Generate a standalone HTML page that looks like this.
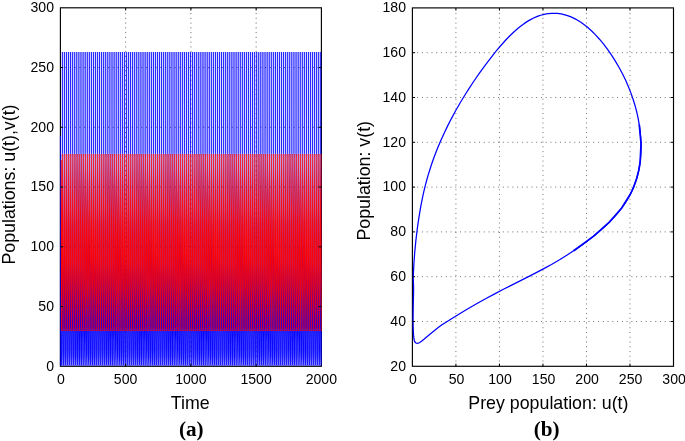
<!DOCTYPE html>
<html lang="en">
<head>
<meta charset="utf-8">
<title>Predator-prey populations</title>
<style>
html,body{margin:0;padding:0;background:#fff}
svg{display:block;will-change:transform}
.tk{font-family:"Liberation Sans", Arial, Helvetica, sans-serif;font-size:14.1px;fill:#000}
.lb{font-family:"Liberation Sans", Arial, Helvetica, sans-serif;font-size:17.8px;fill:#000}
.cp{font-family:"Liberation Serif", "Times New Roman", serif;font-size:21.2px;font-weight:bold;fill:#000}
.gr{stroke:#000;stroke-width:0.9;stroke-dasharray:1 3.76;stroke-opacity:0.62;fill:none}
.bx{stroke:#000;stroke-width:1.15;fill:none}
.tm{stroke:#000;stroke-width:1;fill:none}
</style>
</head>
<body>
<svg width="685" height="441" viewBox="0 0 685 441">
<rect x="0" y="0" width="685" height="441" fill="#fff"/>
<defs>
<clipPath id="ca"><rect x="60.95" y="7.8" width="260.75" height="358"/></clipPath>
<filter id="soft" x="-2%" y="-2%" width="104%" height="104%" color-interpolation-filters="sRGB"><feConvolveMatrix order="3 1" kernelMatrix="0.075 0.85 0.075" edgeMode="duplicate" preserveAlpha="false"/></filter>
</defs>
<g id="grid-a" opacity="0.9">
<line class="gr" x1="125.65" y1="366.3" x2="125.65" y2="7.8"/>
<line class="gr" x1="190.9" y1="366.3" x2="190.9" y2="7.8"/>
<line class="gr" x1="256.15" y1="366.3" x2="256.15" y2="7.8"/>
<line class="gr" x1="60.4" y1="306.55" x2="321.4" y2="306.55"/>
<line class="gr" x1="60.4" y1="246.8" x2="321.4" y2="246.8"/>
<line class="gr" x1="60.4" y1="187.05" x2="321.4" y2="187.05"/>
<line class="gr" x1="60.4" y1="127.3" x2="321.4" y2="127.3"/>
<line class="gr" x1="60.4" y1="67.55" x2="321.4" y2="67.55"/>
</g>
<g id="grid-b">
<line class="gr" x1="455.92" y1="366.3" x2="455.92" y2="7.9"/>
<line class="gr" x1="499.43" y1="366.3" x2="499.43" y2="7.9"/>
<line class="gr" x1="542.95" y1="366.3" x2="542.95" y2="7.9"/>
<line class="gr" x1="586.47" y1="366.3" x2="586.47" y2="7.9"/>
<line class="gr" x1="629.98" y1="366.3" x2="629.98" y2="7.9"/>
<line class="gr" x1="412.4" y1="321.5" x2="673.5" y2="321.5"/>
<line class="gr" x1="412.4" y1="276.7" x2="673.5" y2="276.7"/>
<line class="gr" x1="412.4" y1="231.9" x2="673.5" y2="231.9"/>
<line class="gr" x1="412.4" y1="187.1" x2="673.5" y2="187.1"/>
<line class="gr" x1="412.4" y1="142.3" x2="673.5" y2="142.3"/>
<line class="gr" x1="412.4" y1="97.5" x2="673.5" y2="97.5"/>
<line class="gr" x1="412.4" y1="52.7" x2="673.5" y2="52.7"/>
</g>
<g id="box">
<rect class="bx" x="60.4" y="7.8" width="261" height="358.5"/>
<rect class="bx" x="412.4" y="7.9" width="261.1" height="358.4"/>
</g>
<g id="panel-a" clip-path="url(#ca)" filter="url(#soft)">
<linearGradient id="wg" x1="0" y1="0" x2="0" y2="1"><stop offset="0" stop-color="#00f" stop-opacity="0.32"/><stop offset="0.0417" stop-color="#00f" stop-opacity="0.262"/><stop offset="0.0833" stop-color="#00f" stop-opacity="0.28"/><stop offset="0.125" stop-color="#00f" stop-opacity="0.298"/><stop offset="0.1667" stop-color="#00f" stop-opacity="0.316"/><stop offset="0.2083" stop-color="#00f" stop-opacity="0.334"/><stop offset="0.25" stop-color="#00f" stop-opacity="0.353"/><stop offset="0.2917" stop-color="#00f" stop-opacity="0.372"/><stop offset="0.3333" stop-color="#00f" stop-opacity="0.378"/><stop offset="0.375" stop-color="#00f" stop-opacity="0.382"/><stop offset="0.4167" stop-color="#00f" stop-opacity="0.385"/><stop offset="0.4583" stop-color="#00f" stop-opacity="0.389"/><stop offset="0.5" stop-color="#00f" stop-opacity="0.393"/><stop offset="0.5417" stop-color="#00f" stop-opacity="0.404"/><stop offset="0.5833" stop-color="#00f" stop-opacity="0.419"/><stop offset="0.625" stop-color="#00f" stop-opacity="0.434"/><stop offset="0.6667" stop-color="#00f" stop-opacity="0.45"/><stop offset="0.7083" stop-color="#00f" stop-opacity="0.458"/><stop offset="0.75" stop-color="#00f" stop-opacity="0.458"/><stop offset="0.7917" stop-color="#00f" stop-opacity="0.449"/><stop offset="0.8333" stop-color="#00f" stop-opacity="0.417"/><stop offset="0.875" stop-color="#00f" stop-opacity="0.355"/><stop offset="0.9167" stop-color="#00f" stop-opacity="0.251"/><stop offset="0.9583" stop-color="#00f" stop-opacity="0.103"/><stop offset="1" stop-color="#00f" stop-opacity="0"/></linearGradient>
<rect id="series-u-wash" x="58.4" y="154.07" width="265" height="110.66" fill="url(#wg)"/>
<path id="series-u" fill="#00f" fill-rule="nonzero" d="M57.9,365.79L57.9,365.34L57.808,363.77L57.745,359.52L57.699,352.52L57.665,342.52L57.69,331.77L57.969,326.77L57.957,325.52L57.937,294.77L57.964,276.77L58.017,264.52L58.038,261.77L58.09,258.02L58.235,251.02L58.348,241.02L58.385,236.77L58.404,233.52L58.417,228.77L58.251,211.02L58.277,187.02L58.352,156.02L58.289,154.27L58.146,154.02L58.085,152.52L58.081,152.27L58.091,102.52L58.089,52.02L59.077,52.02L59.078,102.52L59.068,152.27L59.063,152.52L59.002,154.02L58.865,154.27L58.902,156.02L58.919,187.02L58.937,211.02L59.163,229.27L59.179,233.02L59.202,236.27L59.245,240.52L59.304,245.27L59.387,251.27L59.488,255.52L59.557,258.77L59.601,261.77L59.628,264.52L59.707,276.77L59.776,294.52L59.835,325.52L59.825,326.77L59.533,331.77L59.602,342.52L59.636,352.52L59.681,359.52L59.744,363.77L59.837,365.34L59.837,365.79Z
M58.576,154.26L58.456,154.27L58.491,156.02L58.471,187.02L58.452,211.02L58.643,230.77L58.656,234.77L58.687,239.27L58.733,244.27L58.807,251.02L58.811,251.02L58.872,244.27L58.908,239.52L58.931,235.02L58.938,231.52L58.726,187.02L58.763,156.02L58.697,154.27Z
M58.897,326.76L58.896,326.77L58.561,331.77L58.519,342.52L58.529,349.52L58.516,356.77L58.489,360.27L58.483,362.77L58.491,363.77L58.562,365.34L59.175,365.34L59.061,363.77L58.959,360.52L58.866,356.77L58.781,349.52L58.748,342.52L58.661,331.77L58.898,326.77Z
M59.782,365.79L59.782,365.34L59.71,363.77L59.662,359.52L59.629,352.52L59.605,342.52L59.636,331.77L59.852,326.77L59.84,325.52L59.815,294.77L59.837,276.77L59.886,264.52L59.906,261.77L59.956,258.02L60.099,251.02L60.209,241.02L60.244,236.77L60.262,233.52L60.273,228.77L60.152,211.02L60.261,187.02L60.34,156.02L60.252,154.27L60.105,154.02L60.045,152.52L60.04,152.27L60.046,102.52L60.045,52.02L61.033,52.02L61.034,102.52L61.028,152.27L61.023,152.52L60.962,154.02L60.828,154.27L60.89,156.02L60.903,187.02L60.838,211.02L61.019,229.27L61.037,233.02L61.061,236.27L61.106,240.52L61.166,245.27L61.252,251.27L61.354,255.52L61.424,258.77L61.469,261.77L61.497,264.52L61.58,276.77L61.655,294.52L61.719,325.52L61.708,326.77L61.479,331.77L61.541,342.52L61.565,352.52L61.599,359.52L61.646,363.77L61.719,365.34L61.719,365.79Z
M60.539,154.26L60.419,154.27L60.479,156.02L60.455,187.02L60.353,211.02L60.5,230.77L60.514,234.77L60.547,239.27L60.595,244.27L60.671,251.02L60.675,251.02L60.734,244.27L60.768,239.52L60.79,235.02L60.795,231.52L60.709,187.02L60.751,156.02L60.66,154.27Z
M60.78,326.76L60.779,326.77L60.508,331.77L60.458,342.52L60.462,349.52L60.439,356.77L60.405,360.27L60.39,362.77L60.393,363.77L60.444,365.34L61.057,365.34L60.963,363.77L60.874,360.52L60.789,356.77L60.714,349.52L60.687,342.52L60.608,331.77L60.781,326.77Z
M61.69,365.79L61.69,365.34L61.636,363.77L61.602,359.52L61.58,352.52L61.564,342.52L61.602,331.77L61.707,326.77L61.696,325.52L61.667,294.77L61.686,276.77L61.735,264.52L61.755,261.77L61.806,258.02L61.949,251.02L62.062,241.02L62.098,236.77L62.117,233.52L62.129,228.77L62.078,211.02L62.256,187.02L62.338,156.02L62.231,154.27L62.082,154.02L62.022,152.52L62.017,152.27L62.02,102.52L62.02,52.02L63.007,52.02L63.008,102.52L63.004,152.27L62.999,152.52L62.939,154.02L62.807,154.27L62.888,156.02L62.899,187.02L62.764,211.02L62.875,229.27L62.891,233.02L62.915,236.27L62.958,240.52L63.017,245.27L63.102,251.27L63.204,255.52L63.273,258.77L63.318,261.77L63.346,264.52L63.43,276.77L63.506,294.52L63.574,325.52L63.563,326.77L63.445,331.77L63.501,342.52L63.516,352.52L63.539,359.52L63.573,363.77L63.627,365.34L63.627,365.79Z
M62.519,154.26L62.399,154.27L62.477,156.02L62.45,187.02L62.279,211.02L62.356,230.77L62.369,234.77L62.4,239.27L62.447,244.27L62.522,251.02L62.525,251.02L62.586,244.27L62.621,239.52L62.644,235.02L62.65,231.52L62.705,187.02L62.749,156.02L62.64,154.27Z
M62.635,326.76L62.633,326.77L62.474,331.77L62.418,342.52L62.417,349.52L62.385,356.77L62.343,360.27L62.321,362.77L62.319,363.77L62.352,365.34L62.965,365.34L62.89,363.77L62.812,360.52L62.734,356.77L62.668,349.52L62.647,342.52L62.574,331.77L62.636,326.77Z
M63.622,365.79L63.622,365.34L63.585,363.77L63.563,359.52L63.55,352.52L63.542,342.52L63.584,331.77L63.564,326.77L63.553,325.52L63.529,294.77L63.554,276.77L63.607,264.52L63.628,261.77L63.68,258.02L63.826,251.02L63.942,241.02L63.98,236.77L64,233.52L64.014,228.77L64.025,211.02L64.255,187.02L64.334,156.02L64.224,154.27L64.073,154.02L64.012,152.52L64.007,152.27L64.008,102.52L64.008,52.02L64.996,52.02L64.996,102.52L64.995,152.27L64.99,152.52L64.929,154.02L64.8,154.27L64.885,156.02L64.897,187.02L64.712,211.02L64.759,229.27L64.774,233.02L64.797,236.27L64.839,240.52L64.896,245.27L64.979,251.27L65.079,255.52L65.148,258.77L65.192,261.77L65.218,264.52L65.298,276.77L65.368,294.52L65.431,325.52L65.421,326.77L65.427,331.77L65.478,342.52L65.486,352.52L65.5,359.52L65.521,363.77L65.559,365.34L65.559,365.79Z
M64.512,154.26L64.391,154.27L64.473,156.02L64.448,187.02L64.227,211.02L64.24,230.77L64.251,234.77L64.281,239.27L64.326,244.27L64.399,251.02L64.402,251.02L64.465,244.27L64.502,239.52L64.526,235.02L64.534,231.52L64.703,187.02L64.745,156.02L64.633,154.27Z
M64.493,326.76L64.491,326.77L64.456,331.77L64.396,342.52L64.389,349.52L64.35,356.77L64.302,360.27L64.274,362.77L64.268,363.77L64.284,365.34L64.897,365.34L64.838,363.77L64.77,360.52L64.699,356.77L64.641,349.52L64.624,342.52L64.556,331.77L64.494,326.77Z
M65.576,365.79L65.576,365.34L65.553,363.77L65.541,359.52L65.535,352.52L65.533,342.52L65.579,331.77L65.45,326.77L65.438,325.52L65.419,294.77L65.45,276.77L65.506,264.52L65.528,261.77L65.581,258.02L65.73,251.02L65.849,241.02L65.888,236.77L65.909,233.52L65.924,228.77L65.993,211.02L66.244,187.02L66.319,156.02L66.223,154.27L66.072,154.02L66.011,152.52L66.006,152.27L66.006,102.52L66.006,52.02L66.994,52.02L66.994,102.52L66.994,152.27L66.989,152.52L66.928,154.02L66.799,154.27L66.87,156.02L66.886,187.02L66.679,211.02L66.67,229.27L66.684,233.02L66.705,236.27L66.745,240.52L66.802,245.27L66.882,251.27L66.981,255.52L67.049,258.77L67.092,261.77L67.118,264.52L67.193,276.77L67.258,294.52L67.317,325.52L67.307,326.77L67.422,331.77L67.469,342.52L67.472,352.52L67.478,359.52L67.489,363.77L67.512,365.34L67.512,365.79Z
M66.511,154.26L66.39,154.27L66.458,156.02L66.438,187.02L66.194,211.02L66.15,230.77L66.16,234.77L66.188,239.27L66.231,244.27L66.302,251.02L66.306,251.02L66.37,244.27L66.409,239.52L66.435,235.02L66.443,231.52L66.693,187.02L66.73,156.02L66.632,154.27Z
M66.378,326.76L66.377,326.77L66.45,331.77L66.387,342.52L66.377,349.52L66.332,356.77L66.279,360.27L66.245,362.77L66.236,363.77L66.237,365.34L66.851,365.34L66.806,363.77L66.747,360.52L66.681,356.77L66.628,349.52L66.615,342.52L66.55,331.77L66.38,326.77Z
M67.548,365.79L67.548,365.34L67.536,363.77L67.533,359.52L67.532,352.52L67.531,342.52L67.578,331.77L67.362,326.77L67.349,325.52L67.335,294.77L67.37,276.77L67.43,264.52L67.453,261.77L67.507,258.02L67.658,251.02L67.779,241.02L67.82,236.77L67.842,233.52L67.858,228.77L67.976,211.02L68.219,187.02L68.288,156.02L68.216,154.27L68.066,154.02L68.005,152.52L68,152.27L68.002,102.52L68.002,52.02L68.99,52.02L68.99,102.52L68.988,152.27L68.983,152.52L68.922,154.02L68.792,154.27L68.839,156.02L68.861,187.02L68.662,211.02L68.604,229.27L68.617,233.02L68.637,236.27L68.676,240.52L68.731,245.27L68.81,251.27L68.908,255.52L68.974,258.77L69.017,261.77L69.042,264.52L69.113,276.77L69.174,294.52L69.228,325.52L69.218,326.77L69.42,331.77L69.468,342.52L69.468,352.52L69.469,359.52L69.473,363.77L69.484,365.34L69.484,365.79Z
M68.503,154.26L68.383,154.27L68.428,156.02L68.413,187.02L68.177,211.02L68.083,230.77L68.092,234.77L68.119,239.27L68.161,244.27L68.23,251.02L68.234,251.02L68.3,244.27L68.34,239.52L68.367,235.02L68.377,231.52L68.668,187.02L68.7,156.02L68.624,154.27Z
M68.29,326.76L68.289,326.77L68.449,331.77L68.385,342.52L68.374,349.52L68.326,356.77L68.27,360.27L68.231,362.77L68.219,363.77L68.209,365.34L68.822,365.34L68.79,363.77L68.737,360.52L68.675,356.77L68.626,349.52L68.614,342.52L68.549,331.77L68.291,326.77Z
M69.534,365.79L69.534,365.34L69.532,363.77L69.531,359.52L69.529,352.52L69.526,342.52L69.568,331.77L69.297,326.77L69.284,325.52L69.273,294.77L69.313,276.77L69.376,264.52L69.4,261.77L69.455,258.02L69.607,251.02L69.732,241.02L69.773,236.77L69.796,233.52L69.814,228.77L69.971,211.02L70.176,187.02L70.239,156.02L70.195,154.27L70.048,154.02L69.988,152.52L69.983,152.27L69.987,102.52L69.987,52.02L70.974,52.02L70.975,102.52L70.97,152.27L70.966,152.52L70.905,154.02L70.771,154.27L70.79,156.02L70.818,187.02L70.657,211.02L70.559,229.27L70.571,233.02L70.591,236.27L70.629,240.52L70.682,245.27L70.76,251.27L70.856,255.52L70.922,258.77L70.964,261.77L70.988,264.52L71.057,276.77L71.113,294.52L71.163,325.52L71.154,326.77L71.411,331.77L71.462,342.52L71.466,352.52L71.468,359.52L71.468,363.77L71.471,365.34L71.471,365.79Z
M70.483,154.26L70.362,154.27L70.378,156.02L70.37,187.02L70.172,211.02L70.038,230.77L70.046,234.77L70.072,239.27L70.113,244.27L70.18,251.02L70.183,251.02L70.252,244.27L70.293,239.52L70.321,235.02L70.332,231.52L70.625,187.02L70.65,156.02L70.604,154.27Z
M70.225,326.76L70.224,326.77L70.44,331.77L70.379,342.52L70.371,349.52L70.324,356.77L70.268,360.27L70.228,362.77L70.215,363.77L70.196,365.34L70.809,365.34L70.785,363.77L70.735,360.52L70.674,356.77L70.622,349.52L70.608,342.52L70.54,331.77L70.227,326.77Z
M71.532,365.79L71.532,365.34L71.53,363.77L71.525,359.52L71.517,352.52L71.507,342.52L71.545,331.77L71.254,326.77L71.24,325.52L71.233,294.77L71.276,276.77L71.342,264.52L71.366,261.77L71.423,258.02L71.576,251.02L71.703,241.02L71.745,236.77L71.768,233.52L71.787,228.77L71.969,211.02L72.113,187.02L72.168,156.02L72.157,154.27L72.014,154.02L71.954,152.52L71.949,152.27L71.957,102.52L71.956,52.02L72.943,52.02L72.944,102.52L72.936,152.27L72.932,152.52L72.87,154.02L72.733,154.27L72.718,156.02L72.755,187.02L72.656,211.02L72.533,229.27L72.544,233.02L72.562,236.27L72.6,240.52L72.652,245.27L72.728,251.27L72.824,255.52L72.889,258.77L72.93,261.77L72.954,264.52L73.02,276.77L73.072,294.52L73.118,325.52L73.11,326.77L73.388,331.77L73.444,342.52L73.454,352.52L73.462,359.52L73.467,363.77L73.468,365.34L73.468,365.79Z
M72.445,154.26L72.325,154.27L72.307,156.02L72.306,187.02L72.171,211.02L72.011,230.77L72.018,234.77L72.043,239.27L72.083,244.27L72.149,251.02L72.152,251.02L72.222,244.27L72.264,239.52L72.293,235.02L72.305,231.52L72.561,187.02L72.579,156.02L72.566,154.27Z
M72.182,326.76L72.18,326.77L72.416,331.77L72.361,342.52L72.357,349.52L72.316,356.77L72.263,360.27L72.226,362.77L72.213,363.77L72.193,365.34L72.807,365.34L72.784,363.77L72.73,360.52L72.665,356.77L72.608,349.52L72.59,342.52L72.517,331.77L72.183,326.77Z
M73.529,365.79L73.529,365.34L73.52,363.77L73.506,359.52L73.49,352.52L73.473,342.52L73.505,331.77L73.228,326.77L73.214,325.52L73.209,294.77L73.256,276.77L73.324,264.52L73.349,261.77L73.406,258.02L73.561,251.02L73.689,241.02L73.732,236.77L73.756,233.52L73.775,228.77L73.959,211.02L74.026,187.02L74.072,156.02L74.1,154.27L73.96,154.02L73.9,152.52L73.895,152.27L73.907,102.52L73.906,52.02L74.893,52.02L74.895,102.52L74.883,152.27L74.878,152.52L74.817,154.02L74.676,154.27L74.623,156.02L74.668,187.02L74.645,211.02L74.521,229.27L74.531,233.02L74.549,236.27L74.586,240.52L74.638,245.27L74.713,251.27L74.808,255.52L74.872,258.77L74.913,261.77L74.936,264.52L75,276.77L75.049,294.52L75.092,325.52L75.084,326.77L75.347,331.77L75.409,342.52L75.427,352.52L75.443,359.52L75.456,363.77L75.465,365.34L75.465,365.79Z
M74.388,154.26L74.267,154.27L74.212,156.02L74.219,187.02L74.161,211.02L73.999,230.77L74.006,234.77L74.03,239.27L74.069,244.27L74.133,251.02L74.137,251.02L74.208,244.27L74.25,239.52L74.281,235.02L74.292,231.52L74.474,187.02L74.483,156.02L74.509,154.27Z
M74.156,326.76L74.155,326.77L74.376,331.77L74.327,342.52L74.327,349.52L74.293,356.77L74.245,360.27L74.213,362.77L74.203,363.77L74.19,365.34L74.804,365.34L74.773,363.77L74.713,360.52L74.643,356.77L74.579,349.52L74.556,342.52L74.476,331.77L74.157,326.77Z
M75.515,365.79L75.515,365.34L75.495,363.77L75.471,359.52L75.445,352.52L75.419,342.52L75.443,331.77L75.217,326.77L75.203,325.52L75.2,294.77L75.249,276.77L75.319,264.52L75.344,261.77L75.401,258.02L75.557,251.02L75.686,241.02L75.729,236.77L75.753,233.52L75.773,228.77L75.935,211.02L75.913,187.02L75.95,156.02L76.019,154.27L75.884,154.02L75.824,152.52L75.82,152.27L75.836,102.52L75.834,52.02L76.822,52.02L76.823,102.52L76.807,152.27L76.802,152.52L76.741,154.02L76.595,154.27L76.501,156.02L76.555,187.02L76.621,211.02L76.518,229.27L76.529,233.02L76.547,236.27L76.583,240.52L76.634,245.27L76.709,251.27L76.803,255.52L76.867,258.77L76.907,261.77L76.93,264.52L76.993,276.77L77.04,294.52L77.081,325.52L77.073,326.77L77.286,331.77L77.355,342.52L77.382,352.52L77.408,359.52L77.431,363.77L77.452,365.34L77.452,365.79Z
M76.308,154.26L76.187,154.27L76.09,156.02L76.106,187.02L76.136,211.02L75.997,230.77L76.003,234.77L76.027,239.27L76.065,244.27L76.129,251.02L76.133,251.02L76.204,244.27L76.247,239.52L76.278,235.02L76.29,231.52L76.361,187.02L76.361,156.02L76.428,154.27Z
M76.145,326.76L76.144,326.77L76.315,331.77L76.273,342.52L76.279,349.52L76.253,356.77L76.211,360.27L76.185,362.77L76.178,363.77L76.177,365.34L76.79,365.34L76.748,363.77L76.679,360.52L76.603,356.77L76.531,349.52L76.501,342.52L76.415,331.77L76.146,326.77Z
M77.486,365.79L77.486,365.34L77.452,363.77L77.416,359.52L77.379,352.52L77.342,342.52L77.359,331.77L77.215,326.77L77.201,325.52L77.199,294.77L77.248,276.77L77.318,264.52L77.342,261.77L77.399,258.02L77.555,251.02L77.683,241.02L77.726,236.77L77.75,233.52L77.77,228.77L77.893,211.02L77.772,187.02L77.801,156.02L77.914,154.27L77.783,154.02L77.724,152.52L77.719,152.27L77.74,102.52L77.738,52.02L78.725,52.02L78.728,102.52L78.707,152.27L78.702,152.52L78.64,154.02L78.49,154.27L78.352,156.02L78.414,187.02L78.579,211.02L78.515,229.27L78.525,233.02L78.544,236.27L78.58,240.52L78.632,245.27L78.707,251.27L78.802,255.52L78.866,258.77L78.906,261.77L78.929,264.52L78.992,276.77L79.038,294.52L79.079,325.52L79.071,326.77L79.202,331.77L79.279,342.52L79.315,352.52L79.353,359.52L79.389,363.77L79.423,365.34L79.423,365.79Z
M78.202,154.26L78.081,154.27L77.94,156.02L77.965,187.02L78.095,211.02L77.993,230.77L78,234.77L78.024,239.27L78.063,244.27L78.127,251.02L78.131,251.02L78.202,244.27L78.245,239.52L78.275,235.02L78.286,231.52L78.22,187.02L78.212,156.02L78.323,154.27Z
M78.143,326.76L78.142,326.77L78.23,331.77L78.196,342.52L78.209,349.52L78.193,356.77L78.158,360.27L78.138,362.77L78.135,363.77L78.148,365.34L78.761,365.34L78.706,363.77L78.627,360.52L78.542,356.77L78.461,349.52L78.425,342.52L78.33,331.77L78.144,326.77Z
M79.439,365.79L79.439,365.34L79.388,363.77L79.338,359.52L79.289,352.52L79.241,342.52L79.249,331.77L79.211,326.77L79.197,325.52L79.193,294.77L79.24,276.77L79.308,264.52L79.333,261.77L79.389,258.02L79.543,251.02L79.67,241.02L79.712,236.77L79.736,233.52L79.755,228.77L79.83,211.02L79.625,187.02L79.664,156.02L79.781,154.27L79.656,154.02L79.596,152.52L79.592,152.27L79.618,102.52L79.615,52.02L80.603,52.02L80.605,102.52L80.579,152.27L80.574,152.52L80.512,154.02L80.357,154.27L80.215,156.02L80.267,187.02L80.516,211.02L80.5,229.27L80.511,233.02L80.53,236.27L80.567,240.52L80.62,245.27L80.696,251.27L80.791,255.52L80.856,258.77L80.896,261.77L80.92,264.52L80.984,276.77L81.033,294.52L81.075,325.52L81.067,326.77L81.092,331.77L81.177,342.52L81.225,352.52L81.275,359.52L81.325,363.77L81.376,365.34L81.376,365.79Z
M80.07,154.26L79.948,154.27L79.804,156.02L79.819,187.02L80.032,211.02L79.979,230.77L79.986,234.77L80.011,239.27L80.051,244.27L80.116,251.02L80.119,251.02L80.189,244.27L80.232,239.52L80.261,235.02L80.272,231.52L80.074,187.02L80.075,156.02L80.19,154.27Z
M80.139,326.76L80.138,326.77L80.12,331.77L80.095,342.52L80.115,349.52L80.11,356.77L80.082,360.27L80.07,362.77L80.071,363.77L80.101,365.34L80.714,365.34L80.642,363.77L80.552,360.52L80.459,356.77L80.367,349.52L80.324,342.52L80.221,331.77L80.14,326.77Z
M81.37,365.79L81.37,365.34L81.301,363.77L81.236,359.52L81.173,352.52L81.112,342.52L81.112,331.77L81.195,326.77L81.181,325.52L81.175,294.77L81.22,276.77L81.285,264.52L81.309,261.77L81.365,258.02L81.518,251.02L81.642,241.02L81.684,236.77L81.707,233.52L81.724,228.77L81.744,211.02L81.507,187.02L81.555,156.02L81.63,154.27L81.505,154.02L81.445,152.52L81.441,152.27L81.469,102.52L81.466,52.02L82.453,52.02L82.456,102.52L82.428,152.27L82.423,152.52L82.361,154.02L82.206,154.27L82.106,156.02L82.149,187.02L82.43,211.02L82.47,229.27L82.482,233.02L82.501,236.27L82.54,240.52L82.593,245.27L82.67,251.27L82.766,255.52L82.832,258.77L82.873,261.77L82.897,264.52L82.963,276.77L83.015,294.52L83.06,325.52L83.051,326.77L82.954,331.77L83.049,342.52L83.109,352.52L83.173,359.52L83.238,363.77L83.307,365.34L83.307,365.79Z
M81.919,154.26L81.797,154.27L81.694,156.02L81.701,187.02L81.946,211.02L81.949,230.77L81.957,234.77L81.983,239.27L82.023,244.27L82.09,251.02L82.094,251.02L82.162,244.27L82.203,239.52L82.232,235.02L82.242,231.52L81.956,187.02L81.966,156.02L82.039,154.27Z
M82.123,326.76L82.122,326.77L81.983,331.77L81.966,342.52L81.995,349.52L82.001,356.77L81.982,360.27L81.979,362.77L81.984,363.77L82.032,365.34L82.645,365.34L82.555,363.77L82.452,360.52L82.35,356.77L82.246,349.52L82.195,342.52L82.083,331.77L82.125,326.77Z
M83.277,365.79L83.277,365.34L83.189,363.77L83.106,359.52L83.028,352.52L82.961,342.52L82.963,331.77L83.164,326.77L83.151,325.52L83.141,294.77L83.182,276.77L83.245,264.52L83.268,261.77L83.323,258.02L83.474,251.02L83.596,241.02L83.636,236.77L83.658,233.52L83.675,228.77L83.632,211.02L83.415,187.02L83.471,156.02L83.504,154.27L83.374,154.02L83.314,152.52L83.309,152.27L83.332,102.52L83.329,52.02L84.317,52.02L84.319,102.52L84.297,152.27L84.292,152.52L84.23,154.02L84.08,154.27L84.022,156.02L84.057,187.02L84.319,211.02L84.42,229.27L84.433,233.02L84.454,236.27L84.493,240.52L84.548,245.27L84.626,251.27L84.723,255.52L84.79,258.77L84.831,261.77L84.856,264.52L84.925,276.77L84.981,294.52L85.029,325.52L85.02,326.77L84.806,331.77L84.898,342.52L84.965,352.52L85.043,359.52L85.125,363.77L85.214,365.34L85.214,365.79Z
M83.793,154.26L83.672,154.27L83.611,156.02L83.609,187.02L83.834,211.02L83.9,230.77L83.909,234.77L83.936,239.27L83.978,244.27L84.046,251.02L84.05,251.02L84.117,244.27L84.157,239.52L84.184,235.02L84.194,231.52L83.864,187.02L83.882,156.02L83.913,154.27Z
M84.092,326.76L84.091,326.77L83.834,331.77L83.815,342.52L83.847,349.52L83.865,356.77L83.855,360.27L83.861,362.77L83.872,363.77L83.939,365.34L84.552,365.34L84.442,363.77L84.325,360.52L84.214,356.77L84.098,349.52L84.044,342.52L83.934,331.77L84.093,326.77Z
M85.158,365.79L85.158,365.34L85.048,363.77L84.955,359.52L84.885,352.52L84.831,342.52L84.842,331.77L85.113,326.77L85.101,325.52L85.088,294.77L85.124,276.77L85.183,264.52L85.206,261.77L85.26,258.02L85.409,251.02L85.529,241.02L85.568,236.77L85.589,233.52L85.604,228.77L85.493,211.02L85.347,187.02L85.411,156.02L85.405,154.27L85.27,154.02L85.21,152.52L85.205,152.27L85.223,102.52L85.221,52.02L86.209,52.02L86.21,102.52L86.193,152.27L86.188,152.52L86.126,154.02L85.981,154.27L85.961,156.02L85.989,187.02L86.179,211.02L86.349,229.27L86.363,233.02L86.385,236.27L86.425,240.52L86.481,245.27L86.562,251.27L86.66,255.52L86.727,258.77L86.77,261.77L86.795,264.52L86.867,276.77L86.927,294.52L86.979,325.52L86.97,326.77L86.684,331.77L86.768,342.52L86.822,352.52L86.892,359.52L86.985,363.77L87.095,365.34L87.095,365.79Z
M85.694,154.26L85.573,154.27L85.55,156.02L85.541,187.02L85.694,211.02L85.829,230.77L85.84,234.77L85.868,239.27L85.911,244.27L85.981,251.02L85.985,251.02L86.05,244.27L86.089,239.52L86.115,235.02L86.123,231.52L85.796,187.02L85.822,156.02L85.814,154.27Z
M86.042,326.76L86.04,326.77L85.713,331.77L85.685,342.52L85.708,349.52L85.715,356.77L85.704,360.27L85.715,362.77L85.731,363.77L85.82,365.34L86.433,365.34L86.302,363.77L86.175,360.52L86.065,356.77L85.96,349.52L85.914,342.52L85.813,331.77L86.043,326.77Z
M87.011,365.79L87.011,365.34L86.901,363.77L86.826,359.52L86.77,352.52L86.728,342.52L86.747,331.77L87.041,326.77L87.029,325.52L87.012,294.77L87.043,276.77L87.099,264.52L87.121,261.77L87.174,258.02L87.321,251.02L87.437,241.02L87.475,236.77L87.495,233.52L87.509,228.77L87.346,211.02L87.3,187.02L87.37,156.02L87.331,154.27L87.191,154.02L87.131,152.52L87.126,152.27L87.139,102.52L87.138,52.02L88.125,52.02L88.127,102.52L88.114,152.27L88.109,152.52L88.047,154.02L87.907,154.27L87.921,156.02L87.942,187.02L88.032,211.02L88.254,229.27L88.269,233.02L88.292,236.27L88.334,240.52L88.391,245.27L88.473,251.27L88.573,255.52L88.641,258.77L88.685,261.77L88.711,264.52L88.787,276.77L88.851,294.52L88.907,325.52L88.898,326.77L88.589,331.77L88.664,342.52L88.707,352.52L88.763,359.52L88.838,363.77L88.948,365.34L88.948,365.79Z
M87.619,154.26L87.498,154.27L87.51,156.02L87.494,187.02L87.547,211.02L87.735,230.77L87.746,234.77L87.776,239.27L87.821,244.27L87.893,251.02L87.897,251.02L87.96,244.27L87.997,239.52L88.022,235.02L88.029,231.52L87.749,187.02L87.782,156.02L87.74,154.27Z
M87.969,326.76L87.968,326.77L87.618,331.77L87.582,342.52L87.597,349.52L87.593,356.77L87.572,360.27L87.573,362.77L87.584,363.77L87.673,365.34L88.286,365.34L88.155,363.77L88.042,360.52L87.942,356.77L87.849,349.52L87.81,342.52L87.718,331.77L87.971,326.77Z
M88.871,365.79L88.871,365.34L88.783,363.77L88.724,359.52L88.681,352.52L88.649,342.52L88.676,331.77L88.945,326.77L88.933,325.52L88.912,294.77L88.937,276.77L88.989,264.52L89.01,261.77L89.062,258.02L89.206,251.02L89.319,241.02L89.356,236.77L89.375,233.52L89.387,228.77L89.226,211.02L89.272,187.02L89.348,156.02L89.279,154.27L89.135,154.02L89.075,152.52L89.07,152.27L89.079,102.52L89.078,52.02L90.065,52.02L90.066,102.52L90.057,152.27L90.052,152.52L89.991,154.02L89.855,154.27L89.898,156.02L89.914,187.02L89.912,211.02L90.133,229.27L90.149,233.02L90.173,236.27L90.216,240.52L90.275,245.27L90.359,251.27L90.46,255.52L90.529,258.77L90.574,261.77L90.601,264.52L90.681,276.77L90.751,294.52L90.811,325.52L90.801,326.77L90.519,331.77L90.586,342.52L90.618,352.52L90.661,359.52L90.72,363.77L90.808,365.34L90.808,365.79Z
M89.566,154.26L89.446,154.27L89.487,156.02L89.466,187.02L89.428,211.02L89.613,230.77L89.626,234.77L89.657,239.27L89.704,244.27L89.779,251.02L89.782,251.02L89.843,244.27L89.879,239.52L89.902,235.02L89.908,231.52L89.721,187.02L89.759,156.02L89.687,154.27Z
M89.873,326.76L89.871,326.77L89.547,331.77L89.503,342.52L89.512,349.52L89.497,356.77L89.468,360.27L89.46,362.77L89.466,363.77L89.533,365.34L90.146,365.34L90.037,363.77L89.937,360.52L89.846,356.77L89.764,349.52L89.732,342.52L89.647,331.77L89.874,326.77Z
M90.759,365.79L90.759,365.34L90.691,363.77L90.647,359.52L90.616,352.52L90.594,342.52L90.627,331.77L90.821,326.77L90.81,325.52L90.784,294.77L90.804,276.77L90.852,264.52L90.872,261.77L90.922,258.02L91.064,251.02L91.174,241.02L91.209,236.77L91.227,233.52L91.238,228.77L91.133,211.02L91.259,187.02L91.339,156.02L91.246,154.27L91.099,154.02L91.038,152.52L91.033,152.27L91.039,102.52L91.038,52.02L92.026,52.02L92.026,102.52L92.021,152.27L92.016,152.52L91.955,154.02L91.822,154.27L91.889,156.02L91.901,187.02L91.819,211.02L91.984,229.27L92.001,233.02L92.025,236.27L92.07,240.52L92.13,245.27L92.217,251.27L92.319,255.52L92.39,258.77L92.435,261.77L92.463,264.52L92.548,276.77L92.623,294.52L92.688,325.52L92.678,326.77L92.47,331.77L92.53,342.52L92.552,352.52L92.583,359.52L92.628,363.77L92.696,365.34L92.696,365.79Z
M91.533,154.26L91.413,154.27L91.478,156.02L91.453,187.02L91.334,211.02L91.465,230.77L91.479,234.77L91.511,239.27L91.559,244.27L91.636,251.02L91.64,251.02L91.698,244.27L91.732,239.52L91.754,235.02L91.76,231.52L91.708,187.02L91.75,156.02L91.654,154.27Z
M91.75,326.76L91.748,326.77L91.498,331.77L91.448,342.52L91.45,349.52L91.425,356.77L91.389,360.27L91.373,362.77L91.374,363.77L91.421,365.34L92.034,365.34L91.945,363.77L91.858,360.52L91.775,356.77L91.702,349.52L91.676,342.52L91.598,331.77L91.751,326.77Z
M92.673,365.79L92.673,365.34L92.623,363.77L92.592,359.52L92.571,352.52L92.558,342.52L92.597,331.77L92.672,326.77L92.661,325.52L92.633,294.77L92.654,276.77L92.703,264.52L92.724,261.77L92.775,258.02L92.919,251.02L93.032,241.02L93.069,236.77L93.088,233.52L93.101,228.77L93.064,211.02L93.256,187.02L93.338,156.02L93.229,154.27L93.079,154.02L93.018,152.52L93.013,152.27L93.016,102.52L93.016,52.02L94.003,52.02L94.004,102.52L94.001,152.27L93.996,152.52L93.935,154.02L93.805,154.27L93.888,156.02L93.898,187.02L93.75,211.02L93.846,229.27L93.862,233.02L93.886,236.27L93.929,240.52L93.987,245.27L94.072,251.27L94.173,255.52L94.242,258.77L94.287,261.77L94.315,264.52L94.397,276.77L94.472,294.52L94.539,325.52L94.528,326.77L94.44,331.77L94.494,342.52L94.508,352.52L94.528,359.52L94.559,363.77L94.609,365.34L94.609,365.79Z
M93.516,154.26L93.396,154.27L93.477,156.02L93.45,187.02L93.265,211.02L93.327,230.77L93.339,234.77L93.37,239.27L93.417,244.27L93.491,251.02L93.495,251.02L93.556,244.27L93.591,239.52L93.615,235.02L93.621,231.52L93.705,187.02L93.749,156.02L93.637,154.27Z
M93.6,326.76L93.599,326.77L93.468,331.77L93.412,342.52L93.409,349.52L93.375,356.77L93.332,360.27L93.309,362.77L93.306,363.77L93.335,365.34L93.948,365.34L93.876,363.77L93.801,360.52L93.725,356.77L93.66,349.52L93.641,342.52L93.568,331.77L93.601,326.77Z
M94.61,365.79L94.61,365.34L94.576,363.77L94.557,359.52L94.545,352.52L94.539,342.52L94.582,331.77L94.536,326.77L94.525,325.52L94.502,294.77L94.528,276.77L94.582,264.52L94.603,261.77L94.655,258.02L94.802,251.02L94.919,241.02L94.957,236.77L94.977,233.52L94.991,228.77L95.016,211.02L95.253,187.02L95.332,156.02L95.224,154.27L95.072,154.02L95.011,152.52L95.007,152.27L95.007,102.52L95.007,52.02L95.995,52.02L95.995,102.52L95.994,152.27L95.989,152.52L95.929,154.02L95.8,154.27L95.882,156.02L95.895,187.02L95.703,211.02L95.737,229.27L95.752,233.02L95.774,236.27L95.815,240.52L95.872,245.27L95.955,251.27L96.054,255.52L96.123,258.77L96.167,261.77L96.193,264.52L96.271,276.77L96.341,294.52L96.403,325.52L96.392,326.77L96.425,331.77L96.475,342.52L96.482,352.52L96.493,359.52L96.513,363.77L96.547,365.34L96.547,365.79Z
M95.511,154.26L95.391,154.27L95.471,156.02L95.447,187.02L95.218,211.02L95.217,230.77L95.228,234.77L95.257,239.27L95.302,244.27L95.374,251.02L95.378,251.02L95.441,244.27L95.478,239.52L95.503,235.02L95.511,231.52L95.702,187.02L95.743,156.02L95.632,154.27Z
M95.464,326.76L95.463,326.77L95.454,331.77L95.392,342.52L95.385,349.52L95.344,356.77L95.296,360.27L95.266,362.77L95.259,363.77L95.272,365.34L95.885,365.34L95.83,363.77L95.763,360.52L95.694,356.77L95.637,349.52L95.621,342.52L95.554,331.77L95.466,326.77Z
M96.568,365.79L96.568,365.34L96.548,363.77L96.538,359.52L96.534,352.52L96.532,342.52L96.579,331.77L96.428,326.77L96.416,325.52L96.398,294.77L96.429,276.77L96.487,264.52L96.509,261.77L96.563,258.02L96.711,251.02L96.831,241.02L96.87,236.77L96.892,233.52L96.907,228.77L96.987,211.02L97.24,187.02L97.313,156.02L97.222,154.27L97.071,154.02L97.01,152.52L97.006,152.27L97.006,102.52L97.006,52.02L97.994,52.02L97.994,102.52L97.993,152.27L97.988,152.52L97.928,154.02L97.798,154.27L97.864,156.02L97.882,187.02L97.674,211.02L97.653,229.27L97.666,233.02L97.688,236.27L97.728,240.52L97.783,245.27L97.864,251.27L97.962,255.52L98.03,258.77L98.073,261.77L98.098,264.52L98.173,276.77L98.237,294.52L98.294,325.52L98.284,326.77L98.421,331.77L98.469,342.52L98.47,352.52L98.475,359.52L98.484,363.77L98.504,365.34L98.504,365.79Z
M97.51,154.26L97.39,154.27L97.453,156.02L97.433,187.02L97.189,211.02L97.133,230.77L97.142,234.77L97.17,239.27L97.214,244.27L97.284,251.02L97.287,251.02L97.352,244.27L97.391,239.52L97.418,235.02L97.426,231.52L97.688,187.02L97.725,156.02L97.631,154.27Z
M97.356,326.76L97.355,326.77L97.45,331.77L97.386,342.52L97.375,349.52L97.329,356.77L97.276,360.27L97.241,362.77L97.231,363.77L97.229,365.34L97.843,365.34L97.801,363.77L97.743,360.52L97.679,356.77L97.627,349.52L97.615,342.52L97.55,331.77L97.357,326.77Z
M98.543,365.79L98.543,365.34L98.534,363.77L98.532,359.52L98.532,352.52L98.531,342.52L98.576,331.77L98.345,326.77L98.333,325.52L98.319,294.77L98.355,276.77L98.416,264.52L98.439,261.77L98.494,258.02L98.644,251.02L98.767,241.02L98.807,236.77L98.83,233.52L98.847,228.77L98.974,211.02L99.211,187.02L99.279,156.02L99.212,154.27L99.063,154.02L99.003,152.52L98.998,152.27L99,102.52L99,52.02L99.987,52.02L99.988,102.52L99.985,152.27L99.98,152.52L99.92,154.02L99.788,154.27L99.83,156.02L99.853,187.02L99.66,211.02L99.592,229.27L99.604,233.02L99.625,236.27L99.664,240.52L99.718,245.27L99.797,251.27L99.894,255.52L99.961,258.77L100.003,261.77L100.027,264.52L100.099,276.77L100.158,294.52L100.211,325.52L100.202,326.77L100.419,331.77L100.468,342.52L100.468,352.52L100.469,359.52L100.471,363.77L100.48,365.34L100.48,365.79Z
M99.5,154.26L99.379,154.27L99.418,156.02L99.405,187.02L99.175,211.02L99.071,230.77L99.08,234.77L99.107,239.27L99.148,244.27L99.217,251.02L99.22,251.02L99.287,244.27L99.327,239.52L99.355,235.02L99.365,231.52L99.66,187.02L99.69,156.02L99.621,154.27Z
M99.273,326.76L99.272,326.77L99.448,331.77L99.385,342.52L99.374,349.52L99.325,356.77L99.269,360.27L99.23,362.77L99.217,363.77L99.205,365.34L99.818,365.34L99.788,363.77L99.736,360.52L99.675,356.77L99.626,349.52L99.614,342.52L99.548,331.77L99.275,326.77Z
M100.533,365.79L100.533,365.34L100.532,363.77L100.531,359.52L100.528,352.52L100.523,342.52L100.564,331.77L100.286,326.77L100.273,325.52L100.262,294.77L100.303,276.77L100.367,264.52L100.391,261.77L100.446,258.02L100.599,251.02L100.724,241.02L100.765,236.77L100.788,233.52L100.806,228.77L100.971,211.02L101.164,187.02L101.225,156.02L101.188,154.27L101.042,154.02L100.981,152.52L100.977,152.27L100.982,102.52L100.981,52.02L101.969,52.02L101.969,102.52L101.964,152.27L101.959,152.52L101.898,154.02L101.764,154.27L101.775,156.02L101.806,187.02L101.657,211.02L101.552,229.27L101.563,233.02L101.583,236.27L101.621,240.52L101.674,245.27L101.751,251.27L101.847,255.52L101.913,258.77L101.954,261.77L101.978,264.52L102.047,276.77L102.102,294.52L102.151,325.52L102.142,326.77L102.407,331.77L102.459,342.52L102.464,352.52L102.467,359.52L102.468,363.77L102.47,365.34L102.47,365.79Z
M101.476,154.26L101.355,154.27L101.364,156.02L101.357,187.02L101.172,211.02L101.03,230.77L101.038,234.77L101.064,239.27L101.104,244.27L101.171,251.02L101.175,251.02L101.243,244.27L101.285,239.52L101.313,235.02L101.324,231.52L101.612,187.02L101.636,156.02L101.597,154.27Z
M101.214,326.76L101.212,326.77L101.436,331.77L101.377,342.52L101.369,349.52L101.323,356.77L101.268,360.27L101.228,362.77L101.215,363.77L101.195,365.34L101.808,365.34L101.785,363.77L101.735,360.52L101.673,356.77L101.62,349.52L101.606,342.52L101.536,331.77L101.215,326.77Z
M102.532,365.79L102.532,365.34L102.529,363.77L102.522,359.52L102.513,352.52L102.501,342.52L102.538,331.77L102.246,326.77L102.233,325.52L102.226,294.77L102.27,276.77L102.337,264.52L102.361,261.77L102.417,258.02L102.571,251.02L102.698,241.02L102.741,236.77L102.764,233.52L102.784,228.77L102.968,211.02L103.095,187.02L103.148,156.02L103.146,154.27L103.004,154.02L102.943,152.52L102.938,152.27L102.947,102.52L102.946,52.02L103.934,52.02L103.935,102.52L103.926,152.27L103.921,152.52L103.86,154.02L103.722,154.27L103.699,156.02L103.737,187.02L103.654,211.02L103.529,229.27L103.54,233.02L103.558,236.27L103.596,240.52L103.648,245.27L103.724,251.27L103.819,255.52L103.884,258.77L103.925,261.77L103.948,264.52L104.014,276.77L104.065,294.52L104.111,325.52L104.103,326.77L104.38,331.77L104.438,342.52L104.449,352.52L104.459,359.52L104.465,363.77L104.468,365.34L104.468,365.79Z
M103.434,154.26L103.313,154.27L103.288,156.02L103.289,187.02L103.17,211.02L103.007,230.77L103.014,234.77L103.039,239.27L103.079,244.27L103.144,251.02L103.147,251.02L103.217,244.27L103.26,239.52L103.289,235.02L103.301,231.52L103.544,187.02L103.559,156.02L103.555,154.27Z
M103.174,326.76L103.173,326.77L103.409,331.77L103.355,342.52L103.351,349.52L103.312,356.77L103.26,360.27L103.224,362.77L103.212,363.77L103.193,365.34L103.807,365.34L103.782,363.77L103.727,360.52L103.661,356.77L103.603,349.52L103.584,342.52L103.509,331.77L103.176,326.77Z
M104.527,365.79L104.527,365.34L104.515,363.77L104.5,359.52L104.482,352.52L104.462,342.52L104.493,331.77L104.224,326.77L104.21,325.52L104.206,294.77L104.254,276.77L104.322,264.52L104.347,261.77L104.404,258.02L104.559,251.02L104.687,241.02L104.73,236.77L104.755,233.52L104.774,228.77L104.955,211.02L105.002,187.02L105.047,156.02L105.084,154.27L104.945,154.02L104.885,152.52L104.88,152.27L104.893,102.52L104.891,52.02L105.879,52.02L105.88,102.52L105.868,152.27L105.863,152.52L105.801,154.02L105.66,154.27L105.597,156.02L105.644,187.02L105.641,211.02L105.519,229.27L105.53,233.02L105.548,236.27L105.585,240.52L105.636,245.27L105.711,251.27L105.806,255.52L105.87,258.77L105.911,261.77L105.934,264.52L105.997,276.77L106.046,294.52L106.089,325.52L106.081,326.77L106.335,331.77L106.399,342.52L106.418,352.52L106.437,359.52L106.452,363.77L106.463,365.34L106.463,365.79Z
M105.372,154.26L105.251,154.27L105.186,156.02L105.196,187.02L105.157,211.02L104.998,230.77L105.004,234.77L105.028,239.27L105.067,244.27L105.131,251.02L105.135,251.02L105.206,244.27L105.249,239.52L105.279,235.02L105.291,231.52L105.451,187.02L105.458,156.02L105.492,154.27Z
M105.152,326.76L105.151,326.77L105.364,331.77L105.316,342.52L105.318,349.52L105.286,356.77L105.239,360.27L105.208,362.77L105.198,363.77L105.188,365.34L105.802,365.34L105.769,363.77L105.707,360.52L105.635,356.77L105.57,349.52L105.545,342.52L105.464,331.77L105.154,326.77Z
M106.51,365.79L106.51,365.34L106.487,363.77L106.46,359.52L106.432,352.52L106.403,342.52L106.426,331.77L106.216,326.77L106.202,325.52L106.199,294.77L106.249,276.77L106.319,264.52L106.344,261.77L106.401,258.02L106.557,251.02L106.686,241.02L106.729,236.77L106.753,233.52L106.773,228.77L106.927,211.02L106.883,187.02L106.918,156.02L106.998,154.27L106.864,154.02L106.804,152.52L106.799,152.27L106.816,102.52L106.814,52.02L107.802,52.02L107.804,102.52L107.787,152.27L107.782,152.52L107.72,154.02L107.574,154.27L107.469,156.02L107.525,187.02L107.613,211.02L107.518,229.27L107.528,233.02L107.547,236.27L107.583,240.52L107.634,245.27L107.709,251.27L107.803,255.52L107.867,258.77L107.907,261.77L107.93,264.52L107.992,276.77L108.039,294.52L108.08,325.52L108.072,326.77L108.269,331.77L108.34,342.52L108.369,352.52L108.397,359.52L108.423,363.77L108.447,365.34L108.447,365.79Z
M107.286,154.26L107.165,154.27L107.058,156.02L107.077,187.02L107.129,211.02L106.997,230.77L107.003,234.77L107.027,239.27L107.065,244.27L107.129,251.02L107.133,251.02L107.204,244.27L107.247,239.52L107.278,235.02L107.29,231.52L107.332,187.02L107.33,156.02L107.406,154.27Z
M107.144,326.76L107.143,326.77L107.298,331.77L107.257,342.52L107.265,349.52L107.242,356.77L107.201,360.27L107.176,362.77L107.17,363.77L107.172,365.34L107.785,365.34L107.74,363.77L107.669,360.52L107.591,356.77L107.517,349.52L107.486,342.52L107.398,331.77L107.145,326.77Z
M108.477,365.79L108.477,365.34L108.44,363.77L108.4,359.52L108.361,352.52L108.321,342.52L108.336,331.77L108.215,326.77L108.201,325.52L108.198,294.77L108.247,276.77L108.316,264.52L108.341,261.77L108.398,258.02L108.553,251.02L108.681,241.02L108.724,236.77L108.748,233.52L108.767,228.77L108.881,211.02L108.736,187.02L108.767,156.02L108.886,154.27L108.757,154.02L108.697,152.52L108.693,152.27L108.715,102.52L108.712,52.02L109.7,52.02L109.702,102.52L109.68,152.27L109.675,152.52L109.613,154.02L109.462,154.27L109.318,156.02L109.378,187.02L109.567,211.02L109.513,229.27L109.523,233.02L109.542,236.27L109.579,240.52L109.63,245.27L109.705,251.27L109.8,255.52L109.865,258.77L109.905,261.77L109.928,264.52L109.991,276.77L110.038,294.52L110.079,325.52L110.071,326.77L110.179,331.77L110.258,342.52L110.297,352.52L110.337,359.52L110.376,363.77L110.414,365.34L110.414,365.79Z
M109.175,154.26L109.053,154.27L108.907,156.02L108.93,187.02L109.082,211.02L108.991,230.77L108.998,234.77L109.022,239.27L109.061,244.27L109.126,251.02L109.129,251.02L109.2,244.27L109.243,239.52L109.273,235.02L109.284,231.52L109.185,187.02L109.179,156.02L109.295,154.27Z
M109.143,326.76L109.141,326.77L109.208,331.77L109.175,342.52L109.19,349.52L109.176,356.77L109.143,360.27L109.125,362.77L109.123,363.77L109.139,365.34L109.752,365.34L109.693,363.77L109.612,360.52L109.526,356.77L109.441,349.52L109.404,342.52L109.308,331.77L109.144,326.77Z
M110.425,365.79L110.425,365.34L110.371,363.77L110.317,359.52L110.265,352.52L110.214,342.52L110.22,331.77L110.208,326.77L110.194,325.52L110.19,294.77L110.237,276.77L110.304,264.52L110.329,261.77L110.385,258.02L110.539,251.02L110.665,241.02L110.707,236.77L110.731,233.52L110.749,228.77L110.813,211.02L110.596,187.02L110.637,156.02L110.747,154.27L110.623,154.02L110.563,152.52L110.559,152.27L110.586,102.52L110.583,52.02L111.571,52.02L111.574,102.52L111.546,152.27L111.541,152.52L111.479,154.02L111.323,154.27L111.188,156.02L111.238,187.02L111.499,211.02L111.495,229.27L111.506,233.02L111.525,236.27L111.563,240.52L111.615,245.27L111.691,251.27L111.787,255.52L111.852,258.77L111.892,261.77L111.916,264.52L111.981,276.77L112.03,294.52L112.073,325.52L112.065,326.77L112.063,331.77L112.151,342.52L112.201,352.52L112.254,359.52L112.307,363.77L112.362,365.34L112.362,365.79Z
M111.035,154.26L110.914,154.27L110.776,156.02L110.79,187.02L111.014,211.02L110.973,230.77L110.981,234.77L111.006,239.27L111.046,244.27L111.111,251.02L111.115,251.02L111.185,244.27L111.227,239.52L111.256,235.02L111.267,231.52L111.045,187.02L111.048,156.02L111.155,154.27Z
M111.136,326.76L111.135,326.77L111.092,331.77L111.068,342.52L111.09,349.52L111.087,356.77L111.062,360.27L111.052,362.77L111.054,363.77L111.087,365.34L111.7,365.34L111.624,363.77L111.531,360.52L111.437,356.77L111.342,349.52L111.297,342.52L111.192,331.77L111.138,326.77Z
M112.351,365.79L112.351,365.34L112.278,363.77L112.209,359.52L112.142,352.52L112.079,342.52L112.076,331.77L112.19,326.77L112.176,325.52L112.169,294.77L112.213,276.77L112.278,264.52L112.301,261.77L112.357,258.02L112.509,251.02L112.634,241.02L112.675,236.77L112.697,233.52L112.715,228.77L112.721,211.02L112.484,187.02L112.534,156.02L112.599,154.27L112.473,154.02L112.413,152.52L112.408,152.27L112.435,102.52L112.432,52.02L113.42,52.02L113.423,102.52L113.396,152.27L113.391,152.52L113.329,154.02L113.175,154.27L113.084,156.02L113.126,187.02L113.407,211.02L113.46,229.27L113.472,233.02L113.492,236.27L113.531,240.52L113.584,245.27L113.662,251.27L113.758,255.52L113.824,258.77L113.865,261.77L113.889,264.52L113.956,276.77L114.009,294.52L114.054,325.52L114.046,326.77L113.919,331.77L114.016,342.52L114.079,352.52L114.146,359.52L114.215,363.77L114.288,365.34L114.288,365.79Z
M112.888,154.26L112.766,154.27L112.673,156.02L112.678,187.02L112.923,211.02L112.939,230.77L112.948,234.77L112.974,239.27L113.015,244.27L113.082,251.02L113.085,251.02L113.154,244.27L113.195,239.52L113.223,235.02L113.233,231.52L112.932,187.02L112.945,156.02L113.008,154.27Z
M113.118,326.76L113.116,326.77L112.947,331.77L112.933,342.52L112.963,349.52L112.972,356.77L112.955,360.27L112.954,362.77L112.961,363.77L113.013,365.34L113.626,365.34L113.532,363.77L113.426,360.52L113.322,356.77L113.215,349.52L113.162,342.52L113.048,331.77L113.119,326.77Z
M114.253,365.79L114.253,365.34L114.159,363.77L114.073,359.52L113.993,352.52L113.929,342.52L113.933,331.77L114.154,326.77L114.141,325.52L114.131,294.77L114.171,276.77L114.233,264.52L114.256,261.77L114.31,258.02L114.461,251.02L114.583,241.02L114.623,236.77L114.645,233.52L114.661,228.77L114.603,211.02L114.398,187.02L114.455,156.02L114.48,154.27L114.348,154.02L114.288,152.52L114.283,152.27L114.305,102.52L114.302,52.02L115.29,52.02L115.292,102.52L115.271,152.27L115.266,152.52L115.204,154.02L115.056,154.27L115.006,156.02L115.04,187.02L115.289,211.02L115.406,229.27L115.419,233.02L115.44,236.27L115.48,240.52L115.535,245.27L115.613,251.27L115.711,255.52L115.777,258.77L115.819,261.77L115.844,264.52L115.914,276.77L115.971,294.52L116.019,325.52L116.01,326.77L115.776,331.77L115.866,342.52L115.93,352.52L116.01,359.52L116.096,363.77L116.189,365.34L116.189,365.79Z
M114.768,154.26L114.647,154.27L114.595,156.02L114.591,187.02L114.805,211.02L114.886,230.77L114.895,234.77L114.922,239.27L114.965,244.27L115.033,251.02L115.037,251.02L115.104,244.27L115.143,239.52L115.17,235.02L115.18,231.52L114.846,187.02L114.867,156.02L114.888,154.27Z
M115.082,326.76L115.081,326.77L114.804,331.77L114.783,342.52L114.813,349.52L114.83,356.77L114.822,360.27L114.83,362.77L114.842,363.77L114.914,365.34L115.528,365.34L115.413,363.77L115.293,360.52L115.179,356.77L115.064,349.52L115.012,342.52L114.904,331.77L115.084,326.77Z
M116.127,365.79L116.127,365.34L116.012,363.77L115.923,359.52L115.857,352.52L115.805,342.52L115.818,331.77L116.099,326.77L116.086,325.52L116.073,294.77L116.108,276.77L116.166,264.52L116.189,261.77L116.242,258.02L116.391,251.02L116.51,241.02L116.549,236.77L116.57,233.52L116.584,228.77L116.457,211.02L116.335,187.02L116.4,156.02L116.386,154.27L116.25,154.02L116.19,152.52L116.185,152.27L116.202,102.52L116.2,52.02L117.188,52.02L117.189,102.52L117.173,152.27L117.168,152.52L117.106,154.02L116.962,154.27L116.95,156.02L116.977,187.02L117.143,211.02L117.33,229.27L117.344,233.02L117.366,236.27L117.407,240.52L117.463,245.27L117.544,251.27L117.642,255.52L117.71,258.77L117.752,261.77L117.778,264.52L117.851,276.77L117.912,294.52L117.965,325.52L117.955,326.77L117.66,331.77L117.742,342.52L117.793,352.52L117.86,359.52L117.949,363.77L118.064,365.34L118.064,365.79Z
M116.674,154.26L116.554,154.27L116.539,156.02L116.528,187.02L116.659,211.02L116.81,230.77L116.821,234.77L116.849,239.27L116.893,244.27L116.964,251.02L116.967,251.02L117.032,244.27L117.07,239.52L117.096,235.02L117.104,231.52L116.783,187.02L116.811,156.02L116.795,154.27Z
M117.027,326.76L117.026,326.77L116.689,331.77L116.659,342.52L116.68,349.52L116.685,356.77L116.671,360.27L116.68,362.77L116.695,363.77L116.789,365.34L117.402,365.34L117.266,363.77L117.142,360.52L117.034,356.77L116.932,349.52L116.888,342.52L116.789,331.77L117.029,326.77Z
M117.977,365.79L117.977,365.34L117.872,363.77L117.801,359.52L117.748,352.52L117.708,342.52L117.729,331.77L118.022,326.77L118.009,325.52L117.991,294.77L118.022,276.77L118.077,264.52L118.098,261.77L118.151,258.02L118.297,251.02L118.413,241.02L118.45,236.77L118.47,233.52L118.483,228.77L118.316,211.02L118.292,187.02L118.364,156.02L118.317,154.27L118.176,154.02L118.116,152.52L118.111,152.27L118.123,102.52L118.122,52.02L119.11,52.02L119.111,102.52L119.099,152.27L119.094,152.52L119.033,154.02L118.893,154.27L118.915,156.02L118.935,187.02L119.002,211.02L119.229,229.27L119.245,233.02L119.267,236.27L119.309,240.52L119.367,245.27L119.45,251.27L119.55,255.52L119.618,258.77L119.662,261.77L119.688,264.52L119.765,276.77L119.831,294.52L119.888,325.52L119.878,326.77L119.571,331.77L119.644,342.52L119.684,352.52L119.737,359.52L119.809,363.77L119.913,365.34L119.913,365.79Z
M118.605,154.26L118.484,154.27L118.503,156.02L118.486,187.02L118.517,211.02L118.709,230.77L118.721,234.77L118.751,239.27L118.797,244.27L118.869,251.02L118.873,251.02L118.936,244.27L118.972,239.52L118.997,235.02L119.004,231.52L118.741,187.02L118.775,156.02L118.726,154.27Z
M118.95,326.76L118.948,326.77L118.6,331.77L118.562,342.52L118.576,349.52L118.569,356.77L118.546,360.27L118.545,362.77L118.555,363.77L118.638,365.34L119.252,365.34L119.126,363.77L119.016,360.52L118.918,356.77L118.827,349.52L118.791,342.52L118.7,331.77L118.951,326.77Z
M119.843,365.79L119.843,365.34L119.76,363.77L119.704,359.52L119.664,352.52L119.635,342.52L119.663,331.77L119.919,326.77L119.907,325.52L119.885,294.77L119.91,276.77L119.961,264.52L119.981,261.77L120.032,258.02L120.177,251.02L120.289,241.02L120.325,236.77L120.343,233.52L120.355,228.77L120.203,211.02L120.268,187.02L120.345,156.02L120.27,154.27L120.125,154.02L120.065,152.52L120.06,152.27L120.068,102.52L120.067,52.02L121.055,52.02L121.056,102.52L121.047,152.27L121.043,152.52L120.981,154.02L120.845,154.27L120.895,156.02L120.91,187.02L120.889,211.02L121.101,229.27L121.118,233.02L121.142,236.27L121.185,240.52L121.245,245.27L121.329,251.27L121.431,255.52L121.5,258.77L121.545,261.77L121.572,264.52L121.653,276.77L121.724,294.52L121.786,325.52L121.775,326.77L121.506,331.77L121.572,342.52L121.601,352.52L121.641,359.52L121.697,363.77L121.78,365.34L121.78,365.79Z
M120.557,154.26L120.437,154.27L120.484,156.02L120.462,187.02L120.404,211.02L120.582,230.77L120.595,234.77L120.627,239.27L120.674,244.27L120.749,251.02L120.753,251.02L120.813,244.27L120.848,239.52L120.871,235.02L120.876,231.52L120.717,187.02L120.756,156.02L120.678,154.27Z
M120.847,326.76L120.846,326.77L120.534,331.77L120.489,342.52L120.496,349.52L120.478,356.77L120.448,360.27L120.438,362.77L120.443,363.77L120.505,365.34L121.118,365.34L121.014,363.77L120.917,360.52L120.828,356.77L120.748,349.52L120.718,342.52L120.634,331.77L120.849,326.77Z
M121.737,365.79L121.737,365.34L121.673,363.77L121.632,359.52L121.604,352.52L121.584,342.52L121.619,331.77L121.789,326.77L121.778,325.52L121.751,294.77L121.77,276.77L121.816,264.52L121.836,261.77L121.886,258.02L122.029,251.02L122.139,241.02L122.174,236.77L122.193,233.52L122.204,228.77L122.115,211.02L122.258,187.02L122.338,156.02L122.241,154.27L122.093,154.02L122.032,152.52L122.027,152.27L122.032,102.52L122.032,52.02L123.019,52.02L123.02,102.52L123.015,152.27L123.01,152.52L122.949,154.02L122.816,154.27L122.889,156.02L122.9,187.02L122.801,211.02L122.95,229.27L122.967,233.02L122.991,236.27L123.035,240.52L123.095,245.27L123.181,251.27L123.284,255.52L123.354,258.77L123.4,261.77L123.428,264.52L123.513,276.77L123.59,294.52L123.657,325.52L123.646,326.77L123.461,331.77L123.521,342.52L123.541,352.52L123.569,359.52L123.61,363.77L123.674,365.34L123.674,365.79Z
M122.528,154.26L122.408,154.27L122.478,156.02L122.451,187.02L122.317,211.02L122.431,230.77L122.445,234.77L122.477,239.27L122.524,244.27L122.601,251.02L122.605,251.02L122.663,244.27L122.698,239.52L122.72,235.02L122.726,231.52L122.706,187.02L122.749,156.02L122.649,154.27Z
M122.718,326.76L122.716,326.77L122.49,331.77L122.438,342.52L122.439,349.52L122.412,356.77L122.374,360.27L122.356,362.77L122.356,363.77L122.399,365.34L123.012,365.34L122.927,363.77L122.843,360.52L122.761,356.77L122.691,349.52L122.667,342.52L122.59,331.77L122.719,326.77Z
M123.657,365.79L123.657,365.34L123.61,363.77L123.582,359.52L123.564,352.52L123.552,342.52L123.592,331.77L123.638,326.77L123.627,325.52L123.601,294.77L123.623,276.77L123.673,264.52L123.694,261.77L123.745,258.02L123.89,251.02L124.004,241.02L124.041,236.77L124.06,233.52L124.073,228.77L124.051,211.02L124.256,187.02L124.337,156.02L124.227,154.27L124.076,154.02L124.016,152.52L124.011,152.27L124.013,102.52L124.013,52.02L125,52.02L125.001,102.52L124.999,152.27L124.994,152.52L124.933,154.02L124.803,154.27L124.888,156.02L124.898,187.02L124.738,211.02L124.819,229.27L124.835,233.02L124.858,236.27L124.9,240.52L124.959,245.27L125.043,251.27L125.144,255.52L125.213,258.77L125.257,261.77L125.285,264.52L125.366,276.77L125.44,294.52L125.506,325.52L125.495,326.77L125.435,331.77L125.489,342.52L125.501,352.52L125.519,359.52L125.547,363.77L125.593,365.34L125.593,365.79Z
M124.514,154.26L124.394,154.27L124.477,156.02L124.45,187.02L124.253,211.02L124.3,230.77L124.312,234.77L124.342,239.27L124.388,244.27L124.462,251.02L124.466,251.02L124.527,244.27L124.563,239.52L124.587,235.02L124.594,231.52L124.705,187.02L124.748,156.02L124.635,154.27Z
M124.567,326.76L124.565,326.77L124.464,331.77L124.406,342.52L124.402,349.52L124.367,356.77L124.322,360.27L124.297,362.77L124.293,363.77L124.318,365.34L124.932,365.34L124.864,363.77L124.79,360.52L124.716,356.77L124.654,349.52L124.635,342.52L124.564,331.77L124.568,326.77Z
M125.599,365.79L125.599,365.34L125.568,363.77L125.551,359.52L125.542,352.52L125.536,342.52L125.581,331.77L125.509,326.77L125.497,325.52L125.476,294.77L125.503,276.77L125.558,264.52L125.58,261.77L125.632,258.02L125.779,251.02L125.896,241.02L125.935,236.77L125.955,233.52L125.97,228.77L126.008,211.02L126.251,187.02L126.329,156.02L126.224,154.27L126.072,154.02L126.011,152.52L126.006,152.27L126.006,102.52L126.006,52.02L126.994,52.02L126.994,102.52L126.994,152.27L126.989,152.52L126.928,154.02L126.8,154.27L126.879,156.02L126.894,187.02L126.694,211.02L126.716,229.27L126.73,233.02L126.752,236.27L126.793,240.52L126.85,245.27L126.932,251.27L127.031,255.52L127.099,258.77L127.143,261.77L127.169,264.52L127.247,276.77L127.315,294.52L127.376,325.52L127.365,326.77L127.423,331.77L127.473,342.52L127.478,352.52L127.488,359.52L127.505,363.77L127.535,365.34L127.535,365.79Z
M126.511,154.26L126.391,154.27L126.468,156.02L126.445,187.02L126.21,211.02L126.196,230.77L126.206,234.77L126.235,239.27L126.28,244.27L126.352,251.02L126.355,251.02L126.419,244.27L126.456,239.52L126.482,235.02L126.49,231.52L126.7,187.02L126.74,156.02L126.632,154.27Z
M126.437,326.76L126.436,326.77L126.452,331.77L126.39,342.52L126.382,349.52L126.34,356.77L126.29,360.27L126.259,362.77L126.251,363.77L126.26,365.34L126.874,365.34L126.822,363.77L126.757,360.52L126.689,356.77L126.633,349.52L126.619,342.52L126.552,331.77L126.439,326.77Z
M127.561,365.79L127.561,365.34L127.544,363.77L127.536,359.52L127.533,352.52L127.532,342.52L127.579,331.77L127.407,326.77L127.395,325.52L127.378,294.77L127.41,276.77L127.469,264.52L127.491,261.77L127.545,258.02L127.694,251.02L127.814,241.02L127.854,236.77L127.876,233.52L127.892,228.77L127.983,211.02L128.235,187.02L128.307,156.02L128.221,154.27L128.07,154.02L128.01,152.52L128.005,152.27L128.005,102.52L128.005,52.02L128.993,52.02L128.993,102.52L128.992,152.27L128.987,152.52L128.927,154.02L128.797,154.27L128.858,156.02L128.877,187.02L128.669,211.02L128.637,229.27L128.65,233.02L128.671,236.27L128.711,240.52L128.767,245.27L128.847,251.27L128.945,255.52L129.012,258.77L129.055,261.77L129.08,264.52L129.154,276.77L129.217,294.52L129.273,325.52L129.263,326.77L129.421,331.77L129.468,342.52L129.469,352.52L129.472,359.52L129.48,363.77L129.497,365.34L129.497,365.79Z
M128.508,154.26L128.388,154.27L128.447,156.02L128.428,187.02L128.185,211.02L128.117,230.77L128.126,234.77L128.154,239.27L128.197,244.27L128.266,251.02L128.27,251.02L128.336,244.27L128.375,239.52L128.402,235.02L128.41,231.52L128.683,187.02L128.718,156.02L128.63,154.27Z
M128.335,326.76L128.334,326.77L128.45,331.77L128.386,342.52L128.375,349.52L128.328,356.77L128.273,360.27L128.237,362.77L128.227,363.77L128.222,365.34L128.836,365.34L128.797,363.77L128.741,360.52L128.677,356.77L128.626,349.52L128.614,342.52L128.55,331.77L128.337,326.77Z
M129.54,365.79L129.54,365.34L129.533,363.77L129.532,359.52L129.531,352.52L129.53,342.52L129.575,331.77L129.33,326.77L129.317,325.52L129.304,294.77L129.342,276.77L129.403,264.52L129.426,261.77L129.481,258.02L129.632,251.02L129.755,241.02L129.796,236.77L129.818,233.52L129.836,228.77L129.972,211.02L130.202,187.02L130.268,156.02L130.208,154.27L130.06,154.02L129.999,152.52L129.994,152.27L129.997,102.52L129.997,52.02L130.985,52.02L130.985,102.52L130.982,152.27L130.977,152.52L130.916,154.02L130.784,154.27L130.819,156.02L130.844,187.02L130.659,211.02L130.581,229.27L130.593,233.02L130.613,236.27L130.652,240.52L130.706,245.27L130.785,251.27L130.882,255.52L130.948,258.77L130.99,261.77L131.015,264.52L131.085,276.77L131.143,294.52L131.195,325.52L131.186,326.77L131.417,331.77L131.467,342.52L131.468,352.52L131.468,359.52L131.47,363.77L131.477,365.34L131.477,365.79Z
M130.496,154.26L130.375,154.27L130.408,156.02L130.396,187.02L130.174,211.02L130.06,230.77L130.069,234.77L130.095,239.27L130.137,244.27L130.205,251.02L130.208,251.02L130.276,244.27L130.316,239.52L130.344,235.02L130.354,231.52L130.651,187.02L130.68,156.02L130.617,154.27Z
M130.258,326.76L130.257,326.77L130.446,331.77L130.384,342.52L130.374,349.52L130.325,356.77L130.269,360.27L130.229,362.77L130.216,363.77L130.202,365.34L130.815,365.34L130.787,363.77L130.736,360.52L130.675,356.77L130.625,349.52L130.613,342.52L130.546,331.77L130.259,326.77Z
M131.532,365.79L131.532,365.34L131.532,363.77L131.53,359.52L131.525,352.52L131.519,342.52L131.56,331.77L131.275,326.77L131.262,325.52L131.252,294.77L131.294,276.77L131.359,264.52L131.383,261.77L131.438,258.02L131.591,251.02L131.716,241.02L131.758,236.77L131.781,233.52L131.8,228.77L131.971,211.02L132.15,187.02L132.209,156.02L132.18,154.27L132.035,154.02L131.974,152.52L131.97,152.27L131.975,102.52L131.975,52.02L132.963,52.02L132.963,102.52L132.957,152.27L132.952,152.52L132.891,154.02L132.756,154.27L132.76,156.02L132.792,187.02L132.657,211.02L132.545,229.27L132.556,233.02L132.576,236.27L132.613,240.52L132.667,245.27L132.743,251.27L132.839,255.52L132.905,258.77L132.946,261.77L132.97,264.52L133.038,276.77L133.092,294.52L133.14,325.52L133.131,326.77L133.402,331.77L133.456,342.52L133.462,352.52L133.466,359.52L133.468,363.77L133.469,365.34L133.469,365.79Z
M132.468,154.26L132.348,154.27L132.349,156.02L132.344,187.02L132.172,211.02L132.024,230.77L132.031,234.77L132.057,239.27L132.097,244.27L132.163,251.02L132.167,251.02L132.236,244.27L132.277,239.52L132.307,235.02L132.317,231.52L132.599,187.02L132.621,156.02L132.589,154.27Z
M132.203,326.76L132.202,326.77L132.431,331.77L132.373,342.52L132.366,349.52L132.322,356.77L132.267,360.27L132.228,362.77L132.215,363.77L132.194,365.34L132.807,365.34L132.785,363.77L132.734,360.52L132.671,356.77L132.618,349.52L132.602,342.52L132.531,331.77L132.204,326.77Z
M133.531,365.79L133.531,365.34L133.527,363.77L133.518,359.52L133.507,352.52L133.494,342.52L133.529,331.77L133.24,326.77L133.226,325.52L133.22,294.77L133.265,276.77L133.332,264.52L133.357,261.77L133.413,258.02L133.567,251.02L133.695,241.02L133.737,236.77L133.761,233.52L133.78,228.77L133.966,211.02L134.076,187.02L134.127,156.02L134.134,154.27L133.992,154.02L133.932,152.52L133.927,152.27L133.937,102.52L133.936,52.02L134.923,52.02L134.924,102.52L134.915,152.27L134.91,152.52L134.849,154.02L134.71,154.27L134.678,156.02L134.718,187.02L134.652,211.02L134.526,229.27L134.536,233.02L134.555,236.27L134.592,240.52L134.644,245.27L134.72,251.27L134.815,255.52L134.88,258.77L134.92,261.77L134.944,264.52L135.009,276.77L135.06,294.52L135.105,325.52L135.096,326.77L135.372,331.77L135.431,342.52L135.444,352.52L135.455,359.52L135.463,363.77L135.468,365.34L135.468,365.79Z
M134.422,154.26L134.301,154.27L134.267,156.02L134.27,187.02L134.168,211.02L134.004,230.77L134.011,234.77L134.035,239.27L134.075,244.27L134.14,251.02L134.143,251.02L134.214,244.27L134.256,239.52L134.286,235.02L134.297,231.52L134.525,187.02L134.539,156.02L134.543,154.27Z
M134.168,326.76L134.167,326.77L134.4,331.77L134.348,342.52L134.345,349.52L134.307,356.77L134.257,360.27L134.221,362.77L134.21,363.77L134.193,365.34L134.806,365.34L134.78,363.77L134.724,360.52L134.657,356.77L134.597,349.52L134.577,342.52L134.501,331.77L134.169,326.77Z
M135.524,365.79L135.524,365.34L135.51,363.77L135.493,359.52L135.472,352.52L135.451,342.52L135.479,331.77L135.221,326.77L135.207,325.52L135.204,294.77L135.252,276.77L135.321,264.52L135.346,261.77L135.402,258.02L135.558,251.02L135.686,241.02L135.73,236.77L135.754,233.52L135.774,228.77L135.95,211.02L135.978,187.02L136.02,156.02L136.066,154.27L135.929,154.02L135.869,152.52L135.864,152.27L135.877,102.52L135.876,52.02L136.864,52.02L136.865,102.52L136.851,152.27L136.847,152.52L136.785,154.02L136.642,154.27L136.571,156.02L136.62,187.02L136.636,211.02L136.519,229.27L136.529,233.02L136.547,236.27L136.584,240.52L136.635,245.27L136.71,251.27L136.805,255.52L136.869,258.77L136.909,261.77L136.932,264.52L136.995,276.77L137.043,294.52L137.086,325.52L137.078,326.77L137.322,331.77L137.387,342.52L137.409,352.52L137.429,359.52L137.447,363.77L137.461,365.34L137.461,365.79Z
M136.354,154.26L136.234,154.27L136.16,156.02L136.171,187.02L136.152,211.02L135.997,230.77L136.003,234.77L136.027,239.27L136.066,244.27L136.13,251.02L136.134,251.02L136.205,244.27L136.248,239.52L136.279,235.02L136.29,231.52L136.426,187.02L136.431,156.02L136.475,154.27Z
M136.149,326.76L136.148,326.77L136.351,331.77L136.305,342.52L136.308,349.52L136.277,356.77L136.232,360.27L136.202,362.77L136.193,363.77L136.186,365.34L136.799,365.34L136.764,363.77L136.7,360.52L136.627,356.77L136.559,349.52L136.534,342.52L136.451,331.77L136.151,326.77Z
M137.504,365.79L137.504,365.34L137.478,363.77L137.449,359.52L137.418,352.52L137.387,342.52L137.408,331.77L137.215,326.77L137.201,325.52L137.199,294.77L137.249,276.77L137.319,264.52L137.344,261.77L137.401,258.02L137.556,251.02L137.685,241.02L137.728,236.77L137.753,233.52L137.773,228.77L137.918,211.02L137.852,187.02L137.885,156.02L137.975,154.27L137.842,154.02L137.782,152.52L137.777,152.27L137.795,102.52L137.793,52.02L138.781,52.02L138.783,102.52L138.765,152.27L138.76,152.52L138.698,154.02L138.551,154.27L138.436,156.02L138.494,187.02L138.604,211.02L138.518,229.27L138.528,233.02L138.546,236.27L138.583,240.52L138.634,245.27L138.709,251.27L138.803,255.52L138.867,258.77L138.907,261.77L138.93,264.52L138.992,276.77L139.039,294.52L139.079,325.52L139.071,326.77L139.251,331.77L139.323,342.52L139.354,352.52L139.385,359.52L139.414,363.77L139.441,365.34L139.441,365.79Z
M138.263,154.26L138.142,154.27L138.025,156.02L138.046,187.02L138.12,211.02L137.996,230.77L138.002,234.77L138.026,239.27L138.065,244.27L138.129,251.02L138.132,251.02L138.204,244.27L138.247,239.52L138.278,235.02L138.289,231.52L138.301,187.02L138.296,156.02L138.383,154.27Z
M138.143,326.76L138.142,326.77L138.279,331.77L138.241,342.52L138.25,349.52L138.229,356.77L138.19,360.27L138.166,362.77L138.161,363.77L138.166,365.34L138.779,365.34L138.731,363.77L138.658,360.52L138.578,356.77L138.502,349.52L138.47,342.52L138.38,331.77L138.145,326.77Z
M139.467,365.79L139.467,365.34L139.426,363.77L139.384,359.52L139.341,352.52L139.299,342.52L139.312,331.77L139.214,326.77L139.2,325.52L139.197,294.77L139.246,276.77L139.315,264.52L139.34,261.77L139.396,258.02L139.551,251.02L139.679,241.02L139.721,236.77L139.745,233.52L139.765,228.77L139.867,211.02L139.702,187.02L139.735,156.02L139.857,154.27L139.729,154.02L139.669,152.52L139.665,152.27L139.688,102.52L139.685,52.02L140.673,52.02L140.675,102.52L140.652,152.27L140.647,152.52L140.585,154.02L140.433,154.27L140.286,156.02L140.344,187.02L140.553,211.02L140.51,229.27L140.52,233.02L140.539,236.27L140.576,240.52L140.628,245.27L140.703,251.27L140.798,255.52L140.863,258.77L140.903,261.77L140.926,264.52L140.989,276.77L141.037,294.52L141.078,325.52L141.07,326.77L141.155,331.77L141.236,342.52L141.278,352.52L141.32,359.52L141.363,363.77L141.404,365.34L141.404,365.79Z
M140.146,154.26L140.024,154.27L139.875,156.02L139.895,187.02L140.069,211.02L139.988,230.77L139.995,234.77L140.019,239.27L140.059,244.27L140.123,251.02L140.127,251.02L140.198,244.27L140.24,239.52L140.27,235.02L140.282,231.52L140.15,187.02L140.146,156.02L140.266,154.27Z
M140.142,326.76L140.141,326.77L140.184,331.77L140.153,342.52L140.169,349.52L140.158,356.77L140.127,360.27L140.11,362.77L140.109,363.77L140.129,365.34L140.742,365.34L140.68,363.77L140.596,360.52L140.508,356.77L140.421,349.52L140.382,342.52L140.284,331.77L140.143,326.77Z
M141.411,365.79L141.411,365.34L141.352,363.77L141.295,359.52L141.239,352.52L141.186,342.52L141.19,331.77L141.205,326.77L141.191,325.52L141.187,294.77L141.233,276.77L141.3,264.52L141.324,261.77L141.38,258.02L141.534,251.02L141.66,241.02L141.701,236.77L141.725,233.52L141.743,228.77L141.794,211.02L141.568,187.02L141.611,156.02L141.711,154.27L141.588,154.02L141.529,152.52L141.524,152.27L141.553,102.52L141.55,52.02L142.538,52.02L142.54,102.52L142.512,152.27L142.507,152.52L142.445,154.02L142.287,154.27L142.162,156.02L142.21,187.02L142.48,211.02L142.488,229.27L142.5,233.02L142.519,236.27L142.557,240.52L142.61,245.27L142.686,251.27L142.782,255.52L142.847,258.77L142.888,261.77L142.911,264.52L142.976,276.77L143.026,294.52L143.07,325.52L143.062,326.77L143.033,331.77L143.123,342.52L143.176,352.52L143.232,359.52L143.289,363.77L143.347,365.34L143.347,365.79Z
M142,154.26L141.878,154.27L141.751,156.02L141.762,187.02L141.996,211.02L141.967,230.77L141.975,234.77L142,239.27L142.04,244.27L142.106,251.02L142.11,251.02L142.179,244.27L142.221,239.52L142.25,235.02L142.261,231.52L142.017,187.02L142.022,156.02L142.12,154.27Z
M142.133,326.76L142.132,326.77L142.061,331.77L142.04,342.52L142.064,349.52L142.064,356.77L142.04,360.27L142.032,362.77L142.035,363.77L142.072,365.34L142.686,365.34L142.606,363.77L142.51,360.52L142.413,356.77L142.315,349.52L142.269,342.52L142.162,331.77L142.135,326.77Z
M143.331,365.79L143.331,365.34L143.254,363.77L143.181,359.52L143.111,352.52L143.045,342.52L143.041,331.77L143.183,326.77L143.17,325.52L143.162,294.77L143.205,276.77L143.269,264.52L143.293,261.77L143.348,258.02L143.5,251.02L143.624,241.02L143.665,236.77L143.687,233.52L143.704,228.77L143.697,211.02L143.462,187.02L143.514,156.02L143.57,154.27L143.442,154.02L143.382,152.52L143.377,152.27L143.403,102.52L143.4,52.02L144.388,52.02L144.391,102.52L144.365,152.27L144.36,152.52L144.298,154.02L144.146,154.27L144.065,156.02L144.104,187.02L144.383,211.02L144.45,229.27L144.462,233.02L144.482,236.27L144.521,240.52L144.575,245.27L144.653,251.27L144.749,255.52L144.815,258.77L144.856,261.77L144.881,264.52L144.948,276.77L145.002,294.52L145.048,325.52L145.039,326.77L144.884,331.77L144.981,342.52L145.047,352.52L145.117,359.52L145.19,363.77L145.268,365.34L145.268,365.79Z
M143.858,154.26L143.737,154.27L143.653,156.02L143.656,187.02L143.898,211.02L143.929,230.77L143.938,234.77L143.964,239.27L144.005,244.27L144.073,251.02L144.076,251.02L144.144,244.27L144.185,239.52L144.213,235.02L144.223,231.52L143.911,187.02L143.925,156.02L143.978,154.27Z
M144.111,326.76L144.11,326.77L143.912,331.77L143.898,342.52L143.931,349.52L143.943,356.77L143.928,360.27L143.928,362.77L143.937,363.77L143.993,365.34L144.606,365.34L144.507,363.77L144.398,360.52L144.292,356.77L144.182,349.52L144.127,342.52L144.013,331.77L144.113,326.77Z
M145.227,365.79L145.227,365.34L145.128,363.77L145.038,359.52L144.96,352.52L144.899,342.52L144.904,331.77L145.144,326.77L145.13,325.52L145.12,294.77L145.158,276.77L145.22,264.52L145.243,261.77L145.297,258.02L145.447,251.02L145.568,241.02L145.608,236.77L145.63,233.52L145.646,228.77L145.573,211.02L145.381,187.02L145.441,156.02L145.456,154.27L145.323,154.02L145.263,152.52L145.259,152.27L145.279,102.52L145.277,52.02L146.264,52.02L146.267,102.52L146.246,152.27L146.241,152.52L146.18,154.02L146.032,154.27L145.992,156.02L146.023,187.02L146.259,211.02L146.391,229.27L146.404,233.02L146.425,236.27L146.465,240.52L146.52,245.27L146.6,251.27L146.697,255.52L146.764,258.77L146.806,261.77L146.831,264.52L146.902,276.77L146.959,294.52L147.009,325.52L147,326.77L146.747,331.77L146.835,342.52L146.896,352.52L146.975,359.52L147.065,363.77L147.163,365.34L147.163,365.79Z
M145.744,154.26L145.623,154.27L145.58,156.02L145.575,187.02L145.774,211.02L145.871,230.77L145.88,234.77L145.908,239.27L145.95,244.27L146.02,251.02L146.023,251.02L146.089,244.27L146.129,239.52L146.156,235.02L146.164,231.52L145.83,187.02L145.852,156.02L145.865,154.27Z
M146.072,326.76L146.07,326.77L145.776,331.77L145.752,342.52L145.78,349.52L145.794,356.77L145.787,360.27L145.798,362.77L145.811,363.77L145.888,365.34L146.502,365.34L146.382,363.77L146.259,360.52L146.144,356.77L146.032,349.52L145.981,342.52L145.876,331.77L146.073,326.77Z
M147.095,365.79L147.095,365.34L146.978,363.77L146.893,359.52L146.829,352.52L146.781,342.52L146.795,331.77L147.084,326.77L147.071,325.52L147.056,294.77L147.09,276.77L147.148,264.52L147.17,261.77L147.224,258.02L147.372,251.02L147.49,241.02L147.529,236.77L147.549,233.52L147.564,228.77L147.423,211.02L147.323,187.02L147.39,156.02L147.369,154.27L147.231,154.02L147.171,152.52L147.166,152.27L147.182,102.52L147.18,52.02L148.168,52.02L148.169,102.52L148.154,152.27L148.149,152.52L148.088,154.02L147.945,154.27L147.941,156.02L147.965,187.02L148.109,211.02L148.309,229.27L148.324,233.02L148.346,236.27L148.387,240.52L148.443,245.27L148.524,251.27L148.623,255.52L148.691,258.77L148.734,261.77L148.76,264.52L148.834,276.77L148.896,294.52L148.949,325.52L148.94,326.77L148.638,331.77L148.717,342.52L148.766,352.52L148.83,359.52L148.915,363.77L149.031,365.34L149.031,365.79Z
M147.657,154.26L147.536,154.27L147.529,156.02L147.517,187.02L147.624,211.02L147.789,230.77L147.8,234.77L147.829,239.27L147.873,244.27L147.944,251.02L147.948,251.02L148.012,244.27L148.05,239.52L148.076,235.02L148.083,231.52L147.772,187.02L147.801,156.02L147.777,154.27Z
M148.012,326.76L148.01,326.77L147.667,331.77L147.635,342.52L147.654,349.52L147.656,356.77L147.64,360.27L147.647,362.77L147.661,363.77L147.756,365.34L148.37,365.34L148.232,363.77L148.111,360.52L148.006,356.77L147.906,349.52L147.864,342.52L147.767,331.77L148.013,326.77Z
M148.944,365.79L148.944,365.34L148.844,363.77L148.776,359.52L148.727,352.52L148.689,342.52L148.712,331.77L149.001,326.77L148.988,325.52L148.97,294.77L148.998,276.77L149.053,264.52L149.074,261.77L149.126,258.02L149.272,251.02L149.387,241.02L149.424,236.77L149.444,233.52L149.457,228.77L149.288,211.02L149.285,187.02L149.358,156.02L149.305,154.27L149.163,154.02L149.103,152.52L149.098,152.27L149.109,102.52L149.108,52.02L150.095,52.02L150.097,102.52L150.086,152.27L150.081,152.52L150.019,154.02L149.88,154.27L149.909,156.02L149.928,187.02L149.974,211.02L150.202,229.27L150.218,233.02L150.241,236.27L150.284,240.52L150.342,245.27L150.425,251.27L150.525,255.52L150.594,258.77L150.638,261.77L150.664,264.52L150.742,276.77L150.809,294.52L150.867,325.52L150.857,326.77L150.554,331.77L150.626,342.52L150.663,352.52L150.713,359.52L150.781,363.77L150.881,365.34L150.881,365.79Z
M149.592,154.26L149.472,154.27L149.498,156.02L149.479,187.02L149.489,211.02L149.683,230.77L149.695,234.77L149.725,239.27L149.771,244.27L149.844,251.02L149.848,251.02L149.91,244.27L149.946,239.52L149.971,235.02L149.977,231.52L149.734,187.02L149.769,156.02L149.713,154.27Z
M149.929,326.76L149.927,326.77L149.583,331.77L149.543,342.52L149.555,349.52L149.546,356.77L149.522,360.27L149.519,362.77L149.527,363.77L149.606,365.34L150.219,365.34L150.098,363.77L149.991,360.52L149.895,356.77L149.807,349.52L149.772,342.52L149.683,331.77L149.93,326.77Z
M150.817,365.79L150.817,365.34L150.738,363.77L150.686,359.52L150.649,352.52L150.622,342.52L150.651,331.77L150.892,326.77L150.881,325.52L150.857,294.77L150.88,276.77L150.93,264.52L150.951,261.77L151.002,258.02L151.145,251.02L151.257,241.02L151.292,236.77L151.311,233.52L151.322,228.77L151.181,211.02L151.265,187.02L151.342,156.02L151.261,154.27L151.116,154.02L151.056,152.52L151.051,152.27L151.058,102.52L151.057,52.02L152.045,52.02L152.046,102.52L152.039,152.27L152.034,152.52L151.972,154.02L151.837,154.27L151.893,156.02L151.907,187.02L151.867,211.02L152.068,229.27L152.085,233.02L152.109,236.27L152.153,240.52L152.213,245.27L152.298,251.27L152.4,255.52L152.469,258.77L152.514,261.77L152.542,264.52L152.624,276.77L152.696,294.52L152.759,325.52L152.748,326.77L152.494,331.77L152.558,342.52L152.585,352.52L152.622,359.52L152.675,363.77L152.754,365.34L152.754,365.79Z
M151.549,154.26L151.429,154.27L151.482,156.02L151.458,187.02L151.382,211.02L151.549,230.77L151.563,234.77L151.594,239.27L151.642,244.27L151.718,251.02L151.721,251.02L151.781,244.27L151.816,239.52L151.838,235.02L151.844,231.52L151.713,187.02L151.753,156.02L151.67,154.27Z
M151.82,326.76L151.819,326.77L151.522,331.77L151.475,342.52L151.481,349.52L151.461,356.77L151.429,360.27L151.417,362.77L151.421,363.77L151.479,365.34L152.092,365.34L151.992,363.77L151.898,360.52L151.811,356.77L151.733,349.52L151.704,342.52L151.623,331.77L151.822,326.77Z
M152.717,365.79L152.717,365.34L152.657,363.77L152.619,359.52L152.593,352.52L152.575,342.52L152.611,331.77L152.756,326.77L152.745,325.52L152.717,294.77L152.734,276.77L152.781,264.52L152.801,261.77L152.852,258.02L152.995,251.02L153.106,241.02L153.141,236.77L153.16,233.52L153.172,228.77L153.099,211.02L153.257,187.02L153.338,156.02L153.236,154.27L153.088,154.02L153.027,152.52L153.022,152.27L153.026,102.52L153.026,52.02L154.014,52.02L154.014,102.52L154.01,152.27L154.005,152.52L153.944,154.02L153.812,154.27L153.888,156.02L153.899,187.02L153.785,211.02L153.918,229.27L153.934,233.02L153.958,236.27L154.002,240.52L154.062,245.27L154.147,251.27L154.249,255.52L154.319,258.77L154.365,261.77L154.393,264.52L154.478,276.77L154.556,294.52L154.623,325.52L154.612,326.77L154.454,331.77L154.512,342.52L154.53,352.52L154.556,359.52L154.594,363.77L154.653,365.34L154.653,365.79Z
M153.524,154.26L153.403,154.27L153.477,156.02L153.451,187.02L153.3,211.02L153.399,230.77L153.412,234.77L153.443,239.27L153.491,244.27L153.567,251.02L153.571,251.02L153.63,244.27L153.665,239.52L153.687,235.02L153.693,231.52L153.705,187.02L153.749,156.02L153.645,154.27Z
M153.684,326.76L153.683,326.77L153.482,331.77L153.429,342.52L153.429,349.52L153.4,356.77L153.361,360.27L153.341,362.77L153.34,363.77L153.379,365.34L153.992,365.34L153.911,363.77L153.829,360.52L153.749,356.77L153.681,349.52L153.658,342.52L153.583,331.77L153.685,326.77Z
M154.641,365.79L154.641,365.34L154.599,363.77L154.574,359.52L154.558,352.52L154.547,342.52L154.589,331.77L154.607,326.77L154.595,325.52L154.57,294.77L154.593,276.77L154.645,264.52L154.666,261.77L154.717,258.02L154.863,251.02L154.977,241.02L155.014,236.77L155.034,233.52L155.048,228.77L155.04,211.02L155.256,187.02L155.336,156.02L155.225,154.27L155.075,154.02L155.014,152.52L155.009,152.27L155.011,102.52L155.01,52.02L155.998,52.02L155.998,102.52L155.997,152.27L155.992,152.52L155.931,154.02L155.801,154.27L155.887,156.02L155.898,187.02L155.726,211.02L155.793,229.27L155.809,233.02L155.831,236.27L155.874,240.52L155.932,245.27L156.015,251.27L156.116,255.52L156.185,258.77L156.229,261.77L156.256,264.52L156.337,276.77L156.409,294.52L156.474,325.52L156.463,326.77L156.431,331.77L156.484,342.52L156.494,352.52L156.51,359.52L156.536,363.77L156.578,365.34L156.578,365.79Z
M155.513,154.26L155.393,154.27L155.476,156.02L155.45,187.02L155.241,211.02L155.274,230.77L155.286,234.77L155.316,239.27L155.361,244.27L155.435,251.02L155.438,251.02L155.5,244.27L155.537,239.52L155.561,235.02L155.568,231.52L155.704,187.02L155.747,156.02L155.634,154.27Z
M155.535,326.76L155.533,326.77L155.46,331.77L155.401,342.52L155.396,349.52L155.359,356.77L155.313,360.27L155.287,362.77L155.282,363.77L155.303,365.34L155.916,365.34L155.853,363.77L155.781,360.52L155.709,356.77L155.648,349.52L155.63,342.52L155.56,331.77L155.536,326.77Z
M156.588,365.79L156.588,365.34L156.561,363.77L156.546,359.52L156.538,352.52L156.534,342.52L156.58,331.77L156.484,326.77L156.472,325.52L156.451,294.77L156.48,276.77L156.535,264.52L156.557,261.77L156.61,258.02L156.758,251.02L156.876,241.02L156.914,236.77L156.935,233.52L156.95,228.77L157.001,211.02L157.249,187.02L157.325,156.02L157.224,154.27L157.072,154.02L157.011,152.52L157.006,152.27L157.006,102.52L157.006,52.02L157.994,52.02L157.994,102.52L157.994,152.27L157.989,152.52L157.928,154.02L157.8,154.27L157.876,156.02L157.891,187.02L157.687,211.02L157.696,229.27L157.71,233.02L157.732,236.27L157.772,240.52L157.829,245.27L157.91,251.27L158.009,255.52L158.077,258.77L158.121,261.77L158.147,264.52L158.223,276.77L158.291,294.52L158.35,325.52L158.34,326.77L158.422,331.77L158.471,342.52L158.475,352.52L158.483,359.52L158.498,363.77L158.525,365.34L158.525,365.79Z
M157.511,154.26L157.391,154.27L157.465,156.02L157.442,187.02L157.203,211.02L157.176,230.77L157.186,234.77L157.215,239.27L157.259,244.27L157.33,251.02L157.334,251.02L157.398,244.27L157.436,239.52L157.461,235.02L157.47,231.52L157.697,187.02L157.736,156.02L157.632,154.27Z
M157.412,326.76L157.411,326.77L157.451,331.77L157.388,342.52L157.379,349.52L157.336,356.77L157.285,360.27L157.252,362.77L157.244,363.77L157.25,365.34L157.863,365.34L157.815,363.77L157.752,360.52L157.685,356.77L157.631,349.52L157.617,342.52L157.551,331.77L157.413,326.77Z
M158.555,365.79L158.555,365.34L158.54,363.77L158.534,359.52L158.532,352.52L158.532,342.52L158.578,331.77L158.387,326.77L158.375,325.52L158.359,294.77L158.393,276.77L158.452,264.52L158.474,261.77L158.528,258.02L158.678,251.02L158.799,241.02L158.839,236.77L158.861,233.52L158.877,228.77L158.98,211.02L159.229,187.02L159.3,156.02L159.219,154.27L159.069,154.02L159.008,152.52L159.003,152.27L159.004,102.52L159.004,52.02L159.992,52.02L159.992,102.52L159.991,152.27L159.986,152.52L159.925,154.02L159.795,154.27L159.851,156.02L159.871,187.02L159.666,211.02L159.622,229.27L159.636,233.02L159.656,236.27L159.696,240.52L159.751,245.27L159.831,251.27L159.928,255.52L159.995,258.77L160.038,261.77L160.063,264.52L160.136,276.77L160.198,294.52L160.253,325.52L160.244,326.77L160.421,331.77L160.468,342.52L160.469,352.52L160.471,359.52L160.477,363.77L160.491,365.34L160.491,365.79Z
M159.507,154.26L159.386,154.27L159.44,156.02L159.422,187.02L159.181,211.02L159.102,230.77L159.111,234.77L159.138,239.27L159.181,244.27L159.25,251.02L159.254,251.02L159.32,244.27L159.359,239.52L159.387,235.02L159.396,231.52L159.677,187.02L159.711,156.02L159.628,154.27Z
M159.316,326.76L159.314,326.77L159.45,331.77L159.386,342.52L159.374,349.52L159.326,356.77L159.271,360.27L159.234,362.77L159.223,363.77L159.216,365.34L159.83,365.34L159.794,363.77L159.739,360.52L159.676,356.77L159.626,349.52L159.614,342.52L159.55,331.77L159.317,326.77Z
M160.537,365.79L160.537,365.34L160.532,363.77L160.532,359.52L160.531,352.52L160.529,342.52L160.573,331.77L160.315,326.77L160.303,325.52L160.29,294.77L160.329,276.77L160.391,264.52L160.415,261.77L160.47,258.02L160.621,251.02L160.745,241.02L160.786,236.77L160.808,233.52L160.826,228.77L160.971,211.02L161.192,187.02L161.257,156.02L161.203,154.27L161.055,154.02L160.995,152.52L160.99,152.27L160.994,102.52L160.993,52.02L161.981,52.02L161.981,102.52L161.978,152.27L161.973,152.52L161.912,154.02L161.779,154.27L161.808,156.02L161.834,187.02L161.658,211.02L161.571,229.27L161.583,233.02L161.603,236.27L161.642,240.52L161.696,245.27L161.774,251.27L161.87,255.52L161.936,258.77L161.978,261.77L162.003,264.52L162.072,276.77L162.13,294.52L162.181,325.52L162.172,326.77L162.415,331.77L162.465,342.52L162.468,352.52L162.468,359.52L162.469,363.77L162.474,365.34L162.474,365.79Z
M161.491,154.26L161.37,154.27L161.396,156.02L161.386,187.02L161.173,211.02L161.05,230.77L161.059,234.77L161.085,239.27L161.126,244.27L161.194,251.02L161.197,251.02L161.265,244.27L161.306,239.52L161.334,235.02L161.344,231.52L161.641,187.02L161.668,156.02L161.612,154.27Z
M161.244,326.76L161.242,326.77L161.444,331.77L161.382,342.52L161.373,349.52L161.325,356.77L161.269,360.27L161.228,362.77L161.215,363.77L161.199,365.34L161.812,365.34L161.786,363.77L161.735,360.52L161.675,356.77L161.624,349.52L161.611,342.52L161.544,331.77L161.245,326.77Z
M162.532,365.79L162.532,365.34L162.531,363.77L162.528,359.52L162.523,352.52L162.515,342.52L162.554,331.77L162.265,326.77L162.252,325.52L162.243,294.77L162.286,276.77L162.351,264.52L162.375,261.77L162.431,258.02L162.584,251.02L162.71,241.02L162.752,236.77L162.775,233.52L162.794,228.77L162.97,211.02L163.135,187.02L163.193,156.02L163.171,154.27L163.027,154.02L162.966,152.52L162.962,152.27L162.968,102.52L162.968,52.02L163.955,52.02L163.956,102.52L163.949,152.27L163.944,152.52L163.883,154.02L163.747,154.27L163.744,156.02L163.777,187.02L163.657,211.02L163.539,229.27L163.55,233.02L163.57,236.27L163.607,240.52L163.66,245.27L163.737,251.27L163.832,255.52L163.898,258.77L163.939,261.77L163.963,264.52L164.029,276.77L164.083,294.52L164.13,325.52L164.122,326.77L164.397,331.77L164.451,342.52L164.459,352.52L164.465,359.52L164.468,363.77L164.468,365.34L164.468,365.79Z
M163.459,154.26L163.339,154.27L163.332,156.02L163.329,187.02L163.172,211.02L163.018,230.77L163.025,234.77L163.05,239.27L163.091,244.27L163.157,251.02L163.16,251.02L163.23,244.27L163.271,239.52L163.301,235.02L163.311,231.52L163.584,187.02L163.604,156.02L163.58,154.27Z
M163.194,326.76L163.192,326.77L163.426,331.77L163.369,342.52L163.363,349.52L163.32,356.77L163.266,360.27L163.227,362.77L163.214,363.77L163.194,365.34L163.807,365.34L163.785,363.77L163.733,360.52L163.669,356.77L163.614,349.52L163.598,342.52L163.526,331.77L163.195,326.77Z
M164.531,365.79L164.531,365.34L164.524,363.77L164.514,359.52L164.501,352.52L164.486,342.52L164.52,331.77L164.234,326.77L164.221,325.52L164.215,294.77L164.261,276.77L164.329,264.52L164.353,261.77L164.41,258.02L164.564,251.02L164.692,241.02L164.734,236.77L164.758,233.52L164.778,228.77L164.964,211.02L165.056,187.02L165.105,156.02L165.121,154.27L164.98,154.02L164.919,152.52L164.915,152.27L164.925,102.52L164.924,52.02L165.912,52.02L165.913,102.52L165.902,152.27L165.897,152.52L165.836,154.02L165.696,154.27L165.656,156.02L165.698,187.02L165.65,211.02L165.523,229.27L165.534,233.02L165.552,236.27L165.589,240.52L165.641,245.27L165.716,251.27L165.811,255.52L165.876,258.77L165.917,261.77L165.94,264.52L166.004,276.77L166.055,294.52L166.099,325.52L166.091,326.77L166.362,331.77L166.422,342.52L166.437,352.52L166.451,359.52L166.461,363.77L166.467,365.34L166.467,365.79Z
M165.408,154.26L165.288,154.27L165.245,156.02L165.25,187.02L165.165,211.02L165.002,230.77L165.008,234.77L165.032,239.27L165.072,244.27L165.137,251.02L165.14,251.02L165.211,244.27L165.253,239.52L165.283,235.02L165.295,231.52L165.504,187.02L165.517,156.02L165.529,154.27Z
M165.162,326.76L165.161,326.77L165.391,331.77L165.34,342.52L165.338,349.52L165.302,356.77L165.253,360.27L165.218,362.77L165.207,363.77L165.192,365.34L165.805,365.34L165.778,363.77L165.72,360.52L165.651,356.77L165.59,349.52L165.569,342.52L165.491,331.77L165.164,326.77Z
M166.521,365.79L166.521,365.34L166.504,363.77L166.484,359.52L166.462,352.52L166.438,342.52L166.465,331.77L166.219,326.77L166.205,325.52L166.202,294.77L166.25,276.77L166.32,264.52L166.345,261.77L166.402,258.02L166.557,251.02L166.686,241.02L166.729,236.77L166.753,233.52L166.773,228.77L166.944,211.02L166.951,187.02L166.992,156.02L167.048,154.27L166.911,154.02L166.851,152.52L166.846,152.27L166.861,102.52L166.859,52.02L167.847,52.02L167.849,102.52L167.834,152.27L167.829,152.52L167.767,154.02L167.624,154.27L167.543,156.02L167.594,187.02L167.631,211.02L167.519,229.27L167.529,233.02L167.547,236.27L167.583,240.52L167.635,245.27L167.709,251.27L167.804,255.52L167.868,258.77L167.908,261.77L167.931,264.52L167.994,276.77L168.041,294.52L168.083,325.52L168.075,326.77L168.308,331.77L168.375,342.52L168.398,352.52L168.421,359.52L168.441,363.77L168.458,365.34L168.458,365.79Z
M167.336,154.26L167.215,154.27L167.131,156.02L167.145,187.02L167.146,211.02L166.997,230.77L167.003,234.77L167.027,239.27L167.065,244.27L167.129,251.02L167.133,251.02L167.204,244.27L167.248,239.52L167.278,235.02L167.29,231.52L167.4,187.02L167.403,156.02L167.456,154.27Z
M167.147,326.76L167.146,326.77L167.337,331.77L167.292,342.52L167.297,349.52L167.268,356.77L167.224,360.27L167.195,362.77L167.187,363.77L167.183,365.34L167.796,365.34L167.758,363.77L167.692,360.52L167.617,356.77L167.548,349.52L167.521,342.52L167.437,331.77L167.148,326.77Z
M168.497,365.79L168.497,365.34L168.468,363.77L168.436,359.52L168.402,352.52L168.369,342.52L168.389,331.77L168.215,326.77L168.201,325.52L168.199,294.77L168.249,276.77L168.318,264.52L168.343,261.77L168.401,258.02L168.556,251.02L168.685,241.02L168.728,236.77L168.752,233.52L168.772,228.77L168.909,211.02L168.82,187.02L168.851,156.02L168.95,154.27L168.818,154.02L168.759,152.52L168.754,152.27L168.773,102.52L168.771,52.02L169.759,52.02L169.761,102.52L169.742,152.27L169.737,152.52L169.675,154.02L169.526,154.27L169.401,156.02L169.462,187.02L169.595,211.02L169.517,229.27L169.527,233.02L169.546,236.27L169.582,240.52L169.633,245.27L169.708,251.27L169.803,255.52L169.867,258.77L169.907,261.77L169.93,264.52L169.992,276.77L170.038,294.52L170.079,325.52L170.071,326.77L170.231,331.77L170.306,342.52L170.339,352.52L170.372,359.52L170.404,363.77L170.434,365.34L170.434,365.79Z
M169.239,154.26L169.118,154.27L168.99,156.02L169.013,187.02L169.11,211.02L168.995,230.77L169.002,234.77L169.026,239.27L169.064,244.27L169.128,251.02L169.132,251.02L169.203,244.27L169.246,239.52L169.277,235.02L169.288,231.52L169.268,187.02L169.262,156.02L169.359,154.27Z
M169.143,326.76L169.142,326.77L169.26,331.77L169.223,342.52L169.234,349.52L169.215,356.77L169.177,360.27L169.155,362.77L169.151,363.77L169.159,365.34L169.772,365.34L169.721,363.77L169.646,360.52L169.564,356.77L169.485,349.52L169.452,342.52L169.36,331.77L169.144,326.77Z
M170.456,365.79L170.456,365.34L170.411,363.77L170.366,359.52L170.32,352.52L170.276,342.52L170.287,331.77L170.213,326.77L170.199,325.52L170.196,294.77L170.244,276.77L170.312,264.52L170.337,261.77L170.394,258.02L170.548,251.02L170.676,241.02L170.718,236.77L170.742,233.52L170.761,228.77L170.853,211.02L170.669,187.02L170.705,156.02L170.826,154.27L170.699,154.02L170.64,152.52L170.635,152.27L170.66,102.52L170.657,52.02L171.645,52.02L171.647,102.52L171.623,152.27L171.618,152.52L171.556,154.02L171.402,154.27L171.255,156.02L171.311,187.02L171.539,211.02L171.506,229.27L171.517,233.02L171.536,236.27L171.573,240.52L171.625,245.27L171.701,251.27L171.796,255.52L171.86,258.77L171.901,261.77L171.924,264.52L171.988,276.77L172.036,294.52L172.077,325.52L172.069,326.77L172.13,331.77L172.213,342.52L172.257,352.52L172.302,359.52L172.348,363.77L172.393,365.34L172.393,365.79Z
M171.115,154.26L170.994,154.27L170.844,156.02L170.862,187.02L171.054,211.02L170.985,230.77L170.992,234.77L171.016,239.27L171.056,244.27L171.121,251.02L171.124,251.02L171.195,244.27L171.237,239.52L171.267,235.02L171.278,231.52L171.117,187.02L171.116,156.02L171.235,154.27Z
M171.141,326.76L171.14,326.77L171.158,331.77L171.13,342.52L171.148,349.52L171.139,356.77L171.109,360.27L171.094,362.77L171.094,363.77L171.118,365.34L171.731,365.34L171.665,363.77L171.578,360.52L171.488,356.77L171.399,349.52L171.359,342.52L171.259,331.77L171.142,326.77Z
M172.395,365.79L172.395,365.34L172.332,363.77L172.271,359.52L172.213,352.52L172.156,342.52L172.158,331.77L172.202,326.77L172.188,325.52L172.183,294.77L172.228,276.77L172.294,264.52L172.318,261.77L172.374,258.02L172.528,251.02L172.653,241.02L172.695,236.77L172.718,233.52L172.736,228.77L172.774,211.02L172.542,187.02L172.587,156.02L172.676,154.27L172.553,154.02L172.493,152.52L172.489,152.27L172.518,102.52L172.515,52.02L173.503,52.02L173.506,102.52L173.476,152.27L173.471,152.52L173.409,154.02L173.252,154.27L173.137,156.02L173.184,187.02L173.461,211.02L173.481,229.27L173.493,233.02L173.512,236.27L173.55,240.52L173.603,245.27L173.68,251.27L173.776,255.52L173.841,258.77L173.882,261.77L173.906,264.52L173.971,276.77L174.022,294.52L174.066,325.52L174.058,326.77L174.001,331.77L174.093,342.52L174.149,352.52L174.208,359.52L174.268,363.77L174.331,365.34L174.331,365.79Z
M172.965,154.26L172.844,154.27L172.726,156.02L172.735,187.02L172.976,211.02L172.96,230.77L172.968,234.77L172.993,239.27L173.034,244.27L173.1,251.02L173.104,251.02L173.173,244.27L173.214,239.52L173.243,235.02L173.254,231.52L172.99,187.02L172.998,156.02L173.085,154.27Z
M173.13,326.76L173.128,326.77L173.03,331.77L173.01,342.52L173.036,349.52L173.039,356.77L173.017,360.27L173.011,362.77L173.015,363.77L173.056,365.34L173.67,365.34L173.585,363.77L173.487,360.52L173.388,356.77L173.288,349.52L173.239,342.52L173.13,331.77L173.131,326.77Z
M174.31,365.79L174.31,365.34L174.228,363.77L174.151,359.52L174.077,352.52L174.009,342.52L174.007,331.77L174.176,326.77L174.162,325.52L174.154,294.77L174.196,276.77L174.26,264.52L174.283,261.77L174.338,258.02L174.49,251.02L174.613,241.02L174.654,236.77L174.676,233.52L174.693,228.77L174.671,211.02L174.442,187.02L174.495,156.02L174.541,154.27L174.412,154.02L174.353,152.52L174.348,152.27L174.372,102.52L174.37,52.02L175.357,52.02L175.36,102.52L175.336,152.27L175.331,152.52L175.269,154.02L175.117,154.27L175.046,156.02L175.084,187.02L175.357,211.02L175.438,229.27L175.451,233.02L175.471,236.27L175.51,240.52L175.564,245.27L175.642,251.27L175.739,255.52L175.805,258.77L175.847,261.77L175.871,264.52L175.939,276.77L175.994,294.52L176.041,325.52L176.032,326.77L175.85,331.77L175.946,342.52L176.014,352.52L176.087,359.52L176.164,363.77L176.246,365.34L176.246,365.79Z
M174.83,154.26L174.709,154.27L174.635,156.02L174.635,187.02L174.872,211.02L174.918,230.77L174.926,234.77L174.953,239.27L174.995,244.27L175.062,251.02L175.066,251.02L175.134,244.27L175.174,239.52L175.202,235.02L175.211,231.52L174.89,187.02L174.906,156.02L174.95,154.27Z
M175.104,326.76L175.103,326.77L174.879,331.77L174.863,342.52L174.896,349.52L174.911,356.77L174.898,360.27L174.901,362.77L174.911,363.77L174.971,365.34L175.585,365.34L175.481,363.77L175.369,360.52L175.261,356.77L175.148,349.52L175.092,342.52L174.979,331.77L175.105,326.77Z
M176.199,365.79L176.199,365.34L176.096,363.77L176.003,359.52L175.928,352.52L175.869,342.52L175.877,331.77L176.132,326.77L176.119,325.52L176.107,294.77L176.145,276.77L176.205,264.52L176.228,261.77L176.282,258.02L176.432,251.02L176.553,241.02L176.592,236.77L176.613,233.52L176.629,228.77L176.54,211.02L176.366,187.02L176.428,156.02L176.434,154.27L176.3,154.02L176.24,152.52L176.236,152.27L176.255,102.52L176.253,52.02L177.24,52.02L177.242,102.52L177.223,152.27L177.218,152.52L177.157,154.02L177.01,154.27L176.978,156.02L177.008,187.02L177.227,211.02L177.375,229.27L177.388,233.02L177.409,236.27L177.449,240.52L177.505,245.27L177.585,251.27L177.683,255.52L177.749,258.77L177.792,261.77L177.817,264.52L177.888,276.77L177.947,294.52L177.997,325.52L177.988,326.77L177.72,331.77L177.806,342.52L177.864,352.52L177.939,359.52L178.033,363.77L178.136,365.34L178.136,365.79Z
M176.722,154.26L176.601,154.27L176.567,156.02L176.56,187.02L176.742,211.02L176.854,230.77L176.864,234.77L176.892,239.27L176.935,244.27L177.005,251.02L177.008,251.02L177.074,244.27L177.113,239.52L177.139,235.02L177.148,231.52L176.815,187.02L176.839,156.02L176.843,154.27Z
M177.06,326.76L177.059,326.77L176.748,331.77L176.723,342.52L176.749,349.52L176.76,356.77L176.752,360.27L176.764,362.77L176.779,363.77L176.861,365.34L177.474,365.34L177.35,363.77L177.223,360.52L177.11,356.77L177.001,349.52L176.952,342.52L176.849,331.77L177.061,326.77Z
M178.061,365.79L178.061,365.34L177.945,363.77L177.864,359.52L177.804,352.52L177.758,342.52L177.774,331.77L178.067,326.77L178.054,325.52L178.039,294.77L178.072,276.77L178.129,264.52L178.151,261.77L178.204,258.02L178.352,251.02L178.469,241.02L178.507,236.77L178.528,233.52L178.542,228.77L178.389,211.02L178.313,187.02L178.381,156.02L178.352,154.27L178.214,154.02L178.153,152.52L178.149,152.27L178.163,102.52L178.162,52.02L179.149,52.02L179.151,102.52L179.136,152.27L179.131,152.52L179.07,154.02L178.928,154.27L178.932,156.02L178.955,187.02L179.076,211.02L179.287,229.27L179.302,233.02L179.324,236.27L179.366,240.52L179.423,245.27L179.504,251.27L179.603,255.52L179.671,258.77L179.714,261.77L179.74,264.52L179.815,276.77L179.878,294.52L179.933,325.52L179.923,326.77L179.617,331.77L179.694,342.52L179.74,352.52L179.801,359.52L179.882,363.77L179.997,365.34L179.997,365.79Z
M178.64,154.26L178.519,154.27L178.521,156.02L178.507,187.02L178.591,211.02L178.768,230.77L178.779,234.77L178.808,239.27L178.852,244.27L178.924,251.02L178.928,251.02L178.991,244.27L179.029,239.52L179.054,235.02L179.062,231.52L178.762,187.02L178.792,156.02L178.761,154.27Z
M178.995,326.76L178.994,326.77L178.645,331.77L178.612,342.52L178.63,349.52L178.629,356.77L178.611,360.27L178.615,362.77L178.628,363.77L178.722,365.34L179.336,365.34L179.199,363.77L179.082,360.52L178.978,356.77L178.881,349.52L178.841,342.52L178.746,331.77L178.996,326.77Z
M179.913,365.79L179.913,365.34L179.818,363.77L179.754,359.52L179.707,352.52L179.672,342.52L179.696,331.77L179.978,326.77L179.966,325.52L179.946,294.77L179.974,276.77L180.027,264.52L180.048,261.77L180.1,258.02L180.246,251.02L180.36,241.02L180.397,236.77L180.416,233.52L180.428,228.77L180.261,211.02L180.279,187.02L180.353,156.02L180.293,154.27L180.15,154.02L180.09,152.52L180.085,152.27L180.096,102.52L180.095,52.02L181.082,52.02L181.083,102.52L181.073,152.27L181.068,152.52L181.007,154.02L180.869,154.27L180.904,156.02L180.921,187.02L180.947,211.02L181.174,229.27L181.19,233.02L181.214,236.27L181.256,240.52L181.315,245.27L181.398,251.27L181.499,255.52L181.568,258.77L181.612,261.77L181.639,264.52L181.717,276.77L181.786,294.52L181.845,325.52L181.834,326.77L181.539,331.77L181.608,342.52L181.643,352.52L181.69,359.52L181.754,363.77L181.849,365.34L181.849,365.79Z
M180.581,154.26L180.46,154.27L180.493,156.02L180.473,187.02L180.463,211.02L180.655,230.77L180.667,234.77L180.698,239.27L180.744,244.27L180.818,251.02L180.822,251.02L180.883,244.27L180.919,239.52L180.943,235.02L180.949,231.52L180.728,187.02L180.764,156.02L180.702,154.27Z
M180.906,326.76L180.905,326.77L180.567,331.77L180.526,342.52L180.536,349.52L180.525,356.77L180.498,360.27L180.493,362.77L180.501,363.77L180.574,365.34L181.188,365.34L181.071,363.77L180.968,360.52L180.874,356.77L180.788,349.52L180.755,342.52L180.667,331.77L180.908,326.77Z
M181.792,365.79L181.792,365.34L181.718,363.77L181.669,359.52L181.634,352.52L181.609,342.52L181.64,331.77L181.864,326.77L181.852,325.52L181.828,294.77L181.85,276.77L181.899,264.52L181.919,261.77L181.97,258.02L182.113,251.02L182.223,241.02L182.258,236.77L182.276,233.52L182.287,228.77L182.16,211.02L182.262,187.02L182.34,156.02L182.254,154.27L182.108,154.02L182.048,152.52L182.043,152.27L182.049,102.52L182.049,52.02L183.036,52.02L183.037,102.52L183.031,152.27L183.026,152.52L182.965,154.02L182.83,154.27L182.891,156.02L182.904,187.02L182.846,211.02L183.033,229.27L183.051,233.02L183.075,236.27L183.119,240.52L183.18,245.27L183.265,251.27L183.367,255.52L183.437,258.77L183.483,261.77L183.51,264.52L183.593,276.77L183.667,294.52L183.731,325.52L183.72,326.77L183.483,331.77L183.546,342.52L183.571,352.52L183.605,359.52L183.654,363.77L183.729,365.34L183.729,365.79Z
M182.542,154.26L182.421,154.27L182.48,156.02L182.455,187.02L182.361,211.02L182.515,230.77L182.528,234.77L182.561,239.27L182.609,244.27L182.685,251.02L182.689,251.02L182.748,244.27L182.782,239.52L182.804,235.02L182.809,231.52L182.71,187.02L182.752,156.02L182.663,154.27Z
M182.792,326.76L182.79,326.77L182.512,331.77L182.463,342.52L182.467,349.52L182.445,356.77L182.411,360.27L182.398,362.77L182.401,363.77L182.454,365.34L183.067,365.34L182.971,363.77L182.88,360.52L182.795,356.77L182.719,349.52L182.692,342.52L182.612,331.77L182.793,326.77Z
M183.698,365.79L183.698,365.34L183.642,363.77L183.607,359.52L183.583,352.52L183.567,342.52L183.605,331.77L183.721,326.77L183.71,325.52L183.681,294.77L183.7,276.77L183.748,264.52L183.768,261.77L183.819,258.02L183.962,251.02L184.074,241.02L184.11,236.77L184.129,233.52L184.141,228.77L184.083,211.02L184.256,187.02L184.338,156.02L184.233,154.27L184.084,154.02L184.023,152.52L184.018,152.27L184.022,102.52L184.021,52.02L185.009,52.02L185.009,102.52L185.006,152.27L185.001,152.52L184.94,154.02L184.809,154.27L184.888,156.02L184.899,187.02L184.77,211.02L184.887,229.27L184.903,233.02L184.927,236.27L184.97,240.52L185.03,245.27L185.115,251.27L185.216,255.52L185.286,258.77L185.331,261.77L185.359,264.52L185.443,276.77L185.52,294.52L185.589,325.52L185.577,326.77L185.447,331.77L185.504,342.52L185.52,352.52L185.544,359.52L185.579,363.77L185.634,365.34L185.634,365.79Z
M184.52,154.26L184.4,154.27L184.477,156.02L184.45,187.02L184.285,211.02L184.368,230.77L184.381,234.77L184.412,239.27L184.459,244.27L184.534,251.02L184.538,251.02L184.598,244.27L184.633,239.52L184.656,235.02L184.662,231.52L184.705,187.02L184.749,156.02L184.641,154.27Z
M184.649,326.76L184.648,326.77L184.476,331.77L184.421,342.52L184.42,349.52L184.389,356.77L184.348,360.27L184.327,362.77L184.325,363.77L184.359,365.34L184.973,365.34L184.896,363.77L184.816,360.52L184.738,356.77L184.671,349.52L184.65,342.52L184.576,331.77L184.651,326.77Z
M185.628,365.79L185.628,365.34L185.589,363.77L185.566,359.52L185.552,352.52L185.543,342.52L185.585,331.77L185.576,326.77L185.565,325.52L185.541,294.77L185.565,276.77L185.617,264.52L185.639,261.77L185.69,258.02L185.836,251.02L185.952,241.02L185.989,236.77L186.009,233.52L186.023,228.77L186.029,211.02L186.255,187.02L186.335,156.02L186.224,154.27L186.073,154.02L186.013,152.52L186.008,152.27L186.009,102.52L186.009,52.02L186.996,52.02L186.996,102.52L186.995,152.27L186.99,152.52L186.93,154.02L186.8,154.27L186.885,156.02L186.897,187.02L186.716,211.02L186.769,229.27L186.784,233.02L186.806,236.27L186.848,240.52L186.906,245.27L186.989,251.27L187.089,255.52L187.158,258.77L187.202,261.77L187.229,264.52L187.308,276.77L187.38,294.52L187.443,325.52L187.433,326.77L187.428,331.77L187.48,342.52L187.488,352.52L187.503,359.52L187.525,363.77L187.564,365.34L187.564,365.79Z
M186.512,154.26L186.392,154.27L186.474,156.02L186.449,187.02L186.231,211.02L186.249,230.77L186.261,234.77L186.29,239.27L186.336,244.27L186.409,251.02L186.412,251.02L186.475,244.27L186.511,239.52L186.536,235.02L186.543,231.52L186.704,187.02L186.746,156.02L186.633,154.27Z
M186.504,326.76L186.503,326.77L186.457,331.77L186.397,342.52L186.391,349.52L186.352,356.77L186.305,360.27L186.277,362.77L186.272,363.77L186.289,365.34L186.902,365.34L186.842,363.77L186.773,360.52L186.702,356.77L186.643,349.52L186.626,342.52L186.557,331.77L186.506,326.77Z
M187.579,365.79L187.579,365.34L187.555,363.77L187.542,359.52L187.536,352.52L187.533,342.52L187.579,331.77L187.46,326.77L187.448,325.52L187.428,294.77L187.458,276.77L187.514,264.52L187.536,261.77L187.589,258.02L187.738,251.02L187.856,241.02L187.895,236.77L187.916,233.52L187.931,228.77L187.995,211.02L188.246,187.02L188.321,156.02L188.223,154.27L188.072,154.02L188.011,152.52L188.006,152.27L188.006,102.52L188.006,52.02L188.994,52.02L188.994,102.52L188.994,152.27L188.989,152.52L188.928,154.02L188.799,154.27L188.872,156.02L188.888,187.02L188.681,211.02L188.677,229.27L188.691,233.02L188.712,236.27L188.753,240.52L188.809,245.27L188.89,251.27L188.989,255.52L189.057,258.77L189.1,261.77L189.126,264.52L189.201,276.77L189.267,294.52L189.326,325.52L189.316,326.77L189.422,331.77L189.47,342.52L189.473,352.52L189.479,359.52L189.491,363.77L189.516,365.34L189.516,365.79Z
M188.511,154.26L188.391,154.27L188.46,156.02L188.439,187.02L188.196,211.02L188.157,230.77L188.167,234.77L188.195,239.27L188.239,244.27L188.31,251.02L188.314,251.02L188.378,244.27L188.416,239.52L188.442,235.02L188.451,231.52L188.694,187.02L188.732,156.02L188.632,154.27Z
M188.388,326.76L188.386,326.77L188.45,331.77L188.387,342.52L188.377,349.52L188.333,356.77L188.281,360.27L188.247,362.77L188.238,363.77L188.241,365.34L188.854,365.34L188.808,363.77L188.748,360.52L188.682,356.77L188.629,349.52L188.616,342.52L188.55,331.77L188.389,326.77Z
M189.549,365.79L189.549,365.34L189.537,363.77L189.533,359.52L189.532,352.52L189.532,342.52L189.578,331.77L189.369,326.77L189.357,325.52L189.341,294.77L189.376,276.77L189.436,264.52L189.459,261.77L189.513,258.02L189.663,251.02L189.785,241.02L189.825,236.77L189.847,233.52L189.864,228.77L189.977,211.02L190.222,187.02L190.292,156.02L190.217,154.27L190.067,154.02L190.006,152.52L190.001,152.27L190.003,102.52L190.003,52.02L190.991,52.02L190.991,102.52L190.989,152.27L190.984,152.52L190.923,154.02L190.793,154.27L190.843,156.02L190.864,187.02L190.663,211.02L190.609,229.27L190.622,233.02L190.642,236.27L190.682,240.52L190.737,245.27L190.816,251.27L190.913,255.52L190.98,258.77L191.022,261.77L191.048,264.52L191.12,276.77L191.181,294.52L191.235,325.52L191.225,326.77L191.421,331.77L191.468,342.52L191.468,352.52L191.469,359.52L191.474,363.77L191.486,365.34L191.486,365.79Z
M190.504,154.26L190.384,154.27L190.431,156.02L190.416,187.02L190.178,211.02L190.088,230.77L190.097,234.77L190.124,239.27L190.167,244.27L190.236,251.02L190.239,251.02L190.306,244.27L190.345,239.52L190.373,235.02L190.382,231.52L190.671,187.02L190.703,156.02L190.625,154.27Z
M190.297,326.76L190.296,326.77L190.449,331.77L190.385,342.52L190.374,349.52L190.326,356.77L190.27,360.27L190.232,362.77L190.22,363.77L190.211,365.34L190.824,365.34L190.791,363.77L190.737,360.52L190.675,356.77L190.626,349.52L190.614,342.52L190.549,331.77L190.298,326.77Z
M191.535,365.79L191.535,365.34L191.532,363.77L191.532,359.52L191.53,352.52L191.527,342.52L191.57,331.77L191.302,326.77L191.289,325.52L191.278,294.77L191.317,276.77L191.38,264.52L191.404,261.77L191.459,258.02L191.611,251.02L191.735,241.02L191.776,236.77L191.799,233.52L191.817,228.77L191.971,211.02L192.181,187.02L192.244,156.02L192.198,154.27L192.05,154.02L191.99,152.52L191.985,152.27L191.989,102.52L191.989,52.02L192.976,52.02L192.977,102.52L192.973,152.27L192.968,152.52L192.907,154.02L192.773,154.27L192.795,156.02L192.823,187.02L192.657,211.02L192.562,229.27L192.574,233.02L192.594,236.27L192.632,240.52L192.686,245.27L192.763,251.27L192.86,255.52L192.926,258.77L192.968,261.77L192.992,264.52L193.061,276.77L193.117,294.52L193.168,325.52L193.159,326.77L193.412,331.77L193.463,342.52L193.467,352.52L193.468,359.52L193.468,363.77L193.472,365.34L193.472,365.79Z
M192.485,154.26L192.365,154.27L192.384,156.02L192.375,187.02L192.172,211.02L192.041,230.77L192.049,234.77L192.075,239.27L192.116,244.27L192.184,251.02L192.187,251.02L192.255,244.27L192.296,239.52L192.325,235.02L192.335,231.52L192.63,187.02L192.655,156.02L192.606,154.27Z
M192.23,326.76L192.229,326.77L192.441,331.77L192.38,342.52L192.372,349.52L192.325,356.77L192.269,360.27L192.228,362.77L192.215,363.77L192.197,365.34L192.81,365.34L192.785,363.77L192.735,360.52L192.674,356.77L192.623,349.52L192.609,342.52L192.541,331.77L192.232,326.77Z
M193.532,365.79L193.532,365.34L193.531,363.77L193.526,359.52L193.519,352.52L193.51,342.52L193.548,331.77L193.257,326.77L193.243,325.52L193.235,294.77L193.279,276.77L193.345,264.52L193.369,261.77L193.425,258.02L193.578,251.02L193.705,241.02L193.747,236.77L193.77,233.52L193.789,228.77L193.97,211.02L194.119,187.02L194.175,156.02L194.162,154.27L194.018,154.02L193.957,152.52L193.953,152.27L193.96,102.52L193.959,52.02L194.947,52.02L194.948,102.52L194.94,152.27L194.935,152.52L194.874,154.02L194.738,154.27L194.726,156.02L194.762,187.02L194.656,211.02L194.534,229.27L194.545,233.02L194.564,236.27L194.602,240.52L194.654,245.27L194.731,251.27L194.826,255.52L194.891,258.77L194.932,261.77L194.956,264.52L195.022,276.77L195.075,294.52L195.122,325.52L195.113,326.77L195.391,331.77L195.446,342.52L195.456,352.52L195.463,359.52L195.467,363.77L195.468,365.34L195.468,365.79Z
M194.449,154.26L194.329,154.27L194.315,156.02L194.313,187.02L194.171,211.02L194.013,230.77L194.02,234.77L194.045,239.27L194.085,244.27L194.151,251.02L194.154,251.02L194.224,244.27L194.266,239.52L194.295,235.02L194.306,231.52L194.568,187.02L194.586,156.02L194.57,154.27Z
M194.185,326.76L194.184,326.77L194.419,331.77L194.364,342.52L194.359,349.52L194.317,356.77L194.264,360.27L194.226,362.77L194.214,363.77L194.193,365.34L194.807,365.34L194.784,363.77L194.731,360.52L194.666,356.77L194.61,349.52L194.592,342.52L194.519,331.77L194.186,326.77Z
M195.529,365.79L195.529,365.34L195.521,363.77L195.509,359.52L195.494,352.52L195.477,342.52L195.509,331.77L195.23,326.77L195.216,325.52L195.211,294.77L195.258,276.77L195.325,264.52L195.35,261.77L195.407,258.02L195.562,251.02L195.69,241.02L195.732,236.77L195.756,233.52L195.776,228.77L195.961,211.02L196.035,187.02L196.082,156.02L196.106,154.27L195.966,154.02L195.906,152.52L195.901,152.27L195.912,102.52L195.911,52.02L196.899,52.02L196.9,102.52L196.889,152.27L196.884,152.52L196.822,154.02L196.682,154.27L196.633,156.02L196.677,187.02L196.647,211.02L196.521,229.27L196.532,233.02L196.55,236.27L196.587,240.52L196.639,245.27L196.714,251.27L196.809,255.52L196.873,258.77L196.914,261.77L196.937,264.52L197.001,276.77L197.05,294.52L197.094,325.52L197.086,326.77L197.352,331.77L197.413,342.52L197.43,352.52L197.445,359.52L197.458,363.77L197.466,365.34L197.466,365.79Z
M196.394,154.26L196.273,154.27L196.221,156.02L196.228,187.02L196.162,211.02L196,230.77L196.006,234.77L196.03,239.27L196.069,244.27L196.134,251.02L196.138,251.02L196.208,244.27L196.251,239.52L196.281,235.02L196.293,231.52L196.483,187.02L196.493,156.02L196.515,154.27Z
M196.158,326.76L196.156,326.77L196.38,331.77L196.331,342.52L196.331,349.52L196.296,356.77L196.248,360.27L196.214,362.77L196.204,363.77L196.191,365.34L196.804,365.34L196.775,363.77L196.715,360.52L196.645,356.77L196.582,349.52L196.56,342.52L196.481,331.77L196.159,326.77Z
M197.517,365.79L197.517,365.34L197.498,363.77L197.475,359.52L197.45,352.52L197.425,342.52L197.45,331.77L197.217,326.77L197.203,325.52L197.2,294.77L197.249,276.77L197.319,264.52L197.344,261.77L197.401,258.02L197.557,251.02L197.686,241.02L197.729,236.77L197.753,233.52L197.773,228.77L197.938,211.02L197.924,187.02L197.962,156.02L198.028,154.27L197.892,154.02L197.832,152.52L197.827,152.27L197.843,102.52L197.842,52.02L198.829,52.02L198.831,102.52L198.815,152.27L198.81,152.52L198.749,154.02L198.604,154.27L198.513,156.02L198.566,187.02L198.624,211.02L198.518,229.27L198.529,233.02L198.547,236.27L198.583,240.52L198.634,245.27L198.709,251.27L198.803,255.52L198.867,258.77L198.907,261.77L198.93,264.52L198.993,276.77L199.04,294.52L199.082,325.52L199.074,326.77L199.293,331.77L199.361,342.52L199.387,352.52L199.412,359.52L199.434,363.77L199.454,365.34L199.454,365.79Z
M198.316,154.26L198.195,154.27L198.102,156.02L198.118,187.02L198.139,211.02L197.997,230.77L198.003,234.77L198.027,239.27L198.065,244.27L198.129,251.02L198.133,251.02L198.204,244.27L198.247,239.52L198.278,235.02L198.29,231.52L198.373,187.02L198.374,156.02L198.436,154.27Z
M198.145,326.76L198.144,326.77L198.321,331.77L198.278,342.52L198.284,349.52L198.258,356.77L198.215,360.27L198.188,362.77L198.181,363.77L198.179,365.34L198.792,365.34L198.751,363.77L198.683,360.52L198.607,356.77L198.536,349.52L198.507,342.52L198.421,331.77L198.147,326.77Z
M199.49,365.79L199.49,365.34L199.457,363.77L199.422,359.52L199.386,352.52L199.35,342.52L199.368,331.77L199.215,326.77L199.201,325.52L199.199,294.77L199.248,276.77L199.318,264.52L199.343,261.77L199.4,258.02L199.555,251.02L199.684,241.02L199.727,236.77L199.751,233.52L199.77,228.77L199.898,211.02L199.786,187.02L199.815,156.02L199.925,154.27L199.794,154.02L199.734,152.52L199.729,152.27L199.75,102.52L199.748,52.02L200.735,52.02L200.737,102.52L200.717,152.27L200.712,152.52L200.65,154.02L200.5,154.27L200.366,156.02L200.428,187.02L200.584,211.02L200.515,229.27L200.526,233.02L200.544,236.27L200.581,240.52L200.633,245.27L200.707,251.27L200.802,255.52L200.866,258.77L200.906,261.77L200.929,264.52L200.992,276.77L201.038,294.52L201.079,325.52L201.071,326.77L201.211,331.77L201.287,342.52L201.322,352.52L201.358,359.52L201.393,363.77L201.426,365.34L201.426,365.79Z
M200.213,154.26L200.092,154.27L199.954,156.02L199.979,187.02L200.099,211.02L199.994,230.77L200,234.77L200.024,239.27L200.063,244.27L200.128,251.02L200.131,251.02L200.202,244.27L200.245,239.52L200.276,235.02L200.287,231.52L200.234,187.02L200.226,156.02L200.333,154.27Z
M200.143,326.76L200.142,326.77L200.239,331.77L200.204,342.52L200.216,349.52L200.2,356.77L200.164,360.27L200.143,362.77L200.14,363.77L200.151,365.34L200.765,365.34L200.71,363.77L200.632,360.52L200.549,356.77L200.468,349.52L200.433,342.52L200.339,331.77L200.144,326.77Z
M201.444,365.79L201.444,365.34L201.395,363.77L201.347,359.52L201.298,352.52L201.251,342.52L201.26,331.77L201.211,326.77L201.197,325.52L201.194,294.77L201.242,276.77L201.31,264.52L201.334,261.77L201.391,258.02L201.545,251.02L201.672,241.02L201.714,236.77L201.738,233.52L201.757,228.77L201.837,211.02L201.638,187.02L201.675,156.02L201.794,154.27L201.669,154.02L201.609,152.52L201.604,152.27L201.63,102.52L201.627,52.02L202.615,52.02L202.618,102.52L202.592,152.27L202.587,152.52L202.525,154.02L202.37,154.27L202.226,156.02L202.28,187.02L202.523,211.02L202.502,229.27L202.513,233.02L202.532,236.27L202.569,240.52L202.621,245.27L202.697,251.27L202.792,255.52L202.857,258.77L202.898,261.77L202.921,264.52L202.985,276.77L203.034,294.52L203.076,325.52L203.068,326.77L203.103,331.77L203.188,342.52L203.235,352.52L203.283,359.52L203.332,363.77L203.381,365.34L203.381,365.79Z
M202.083,154.26L201.961,154.27L201.815,156.02L201.831,187.02L202.038,211.02L201.981,230.77L201.988,234.77L202.012,239.27L202.052,244.27L202.117,251.02L202.121,251.02L202.191,244.27L202.233,239.52L202.263,235.02L202.274,231.52L202.086,187.02L202.087,156.02L202.203,154.27Z
M202.14,326.76L202.138,326.77L202.132,331.77L202.105,342.52L202.125,349.52L202.118,356.77L202.09,360.27L202.077,362.77L202.078,363.77L202.106,365.34L202.719,365.34L202.649,363.77L202.56,360.52L202.468,356.77L202.376,349.52L202.334,342.52L202.232,331.77L202.141,326.77Z
M203.377,365.79L203.377,365.34L203.31,363.77L203.246,359.52L203.184,352.52L203.125,342.52L203.125,331.77L203.197,326.77L203.183,325.52L203.178,294.77L203.222,276.77L203.288,264.52L203.312,261.77L203.368,258.02L203.521,251.02L203.646,241.02L203.687,236.77L203.71,233.52L203.728,228.77L203.753,211.02L203.517,187.02L203.564,156.02L203.643,154.27L203.518,154.02L203.459,152.52L203.454,152.27L203.482,102.52L203.48,52.02L204.467,52.02L204.47,102.52L204.442,152.27L204.437,152.52L204.375,154.02L204.219,154.27L204.114,156.02L204.159,187.02L204.439,211.02L204.473,229.27L204.485,233.02L204.505,236.27L204.543,240.52L204.596,245.27L204.673,251.27L204.769,255.52L204.834,258.77L204.876,261.77L204.899,264.52L204.966,276.77L205.017,294.52L205.062,325.52L205.053,326.77L204.968,331.77L205.062,342.52L205.121,352.52L205.183,359.52L205.247,363.77L205.314,365.34L205.314,365.79Z
M203.932,154.26L203.81,154.27L203.703,156.02L203.71,187.02L203.955,211.02L203.952,230.77L203.96,234.77L203.986,239.27L204.027,244.27L204.093,251.02L204.097,251.02L204.166,244.27L204.207,239.52L204.235,235.02L204.246,231.52L203.965,187.02L203.975,156.02L204.052,154.27Z
M204.125,326.76L204.124,326.77L203.997,331.77L203.979,342.52L204.007,349.52L204.012,356.77L203.992,360.27L203.988,362.77L203.993,363.77L204.039,365.34L204.652,365.34L204.564,363.77L204.462,360.52L204.361,356.77L204.258,349.52L204.208,342.52L204.097,331.77L204.127,326.77Z
M205.287,365.79L205.287,365.34L205.2,363.77L205.119,359.52L205.043,352.52L204.975,342.52L204.975,331.77L205.167,326.77L205.154,325.52L205.145,294.77L205.186,276.77L205.249,264.52L205.273,261.77L205.327,258.02L205.479,251.02L205.601,241.02L205.642,236.77L205.664,233.52L205.68,228.77L205.644,211.02L205.422,187.02L205.478,156.02L205.515,154.27L205.385,154.02L205.325,152.52L205.32,152.27L205.343,102.52L205.341,52.02L206.328,52.02L206.331,102.52L206.308,152.27L206.303,152.52L206.241,154.02L206.091,154.27L206.029,156.02L206.065,187.02L206.33,211.02L206.426,229.27L206.439,233.02L206.459,236.27L206.498,240.52L206.553,245.27L206.631,251.27L206.728,255.52L206.794,258.77L206.836,261.77L206.861,264.52L206.93,276.77L206.985,294.52L207.032,325.52L207.024,326.77L206.818,331.77L206.911,342.52L206.979,352.52L207.056,359.52L207.137,363.77L207.224,365.34L207.224,365.79Z
M205.803,154.26L205.682,154.27L205.617,156.02L205.616,187.02L205.845,211.02L205.905,230.77L205.914,234.77L205.941,239.27L205.983,244.27L206.051,251.02L206.055,251.02L206.122,244.27L206.162,239.52L206.189,235.02L206.199,231.52L205.871,187.02L205.889,156.02L205.923,154.27Z
M206.096,326.76L206.094,326.77L205.847,331.77L205.829,342.52L205.861,349.52L205.878,356.77L205.867,360.27L205.873,362.77L205.883,363.77L205.949,365.34L206.562,365.34L206.454,363.77L206.338,360.52L206.228,356.77L206.112,349.52L206.058,342.52L205.947,331.77L206.097,326.77Z
M207.17,365.79L207.17,365.34L207.062,363.77L206.969,359.52L206.897,352.52L206.842,342.52L206.851,331.77L207.119,326.77L207.106,325.52L207.094,294.77L207.13,276.77L207.19,264.52L207.213,261.77L207.267,258.02L207.416,251.02L207.536,241.02L207.575,236.77L207.596,233.52L207.611,228.77L207.507,211.02L207.352,187.02L207.415,156.02L207.413,154.27L207.278,154.02L207.218,152.52L207.214,152.27L207.232,102.52L207.23,52.02L208.217,52.02L208.219,102.52L208.201,152.27L208.196,152.52L208.135,154.02L207.989,154.27L207.966,156.02L207.994,187.02L208.193,211.02L208.357,229.27L208.371,233.02L208.392,236.27L208.433,240.52L208.488,245.27L208.568,251.27L208.667,255.52L208.734,258.77L208.776,261.77L208.801,264.52L208.874,276.77L208.933,294.52L208.984,325.52L208.975,326.77L208.694,331.77L208.778,342.52L208.834,352.52L208.905,359.52L208.999,363.77L209.107,365.34L209.107,365.79Z
M207.702,154.26L207.581,154.27L207.555,156.02L207.546,187.02L207.708,211.02L207.837,230.77L207.847,234.77L207.875,239.27L207.918,244.27L207.988,251.02L207.992,251.02L208.057,244.27L208.096,239.52L208.122,235.02L208.131,231.52L207.801,187.02L207.826,156.02L207.822,154.27Z
M208.047,326.76L208.046,326.77L207.723,331.77L207.696,342.52L207.719,349.52L207.728,356.77L207.717,360.27L207.729,362.77L207.745,363.77L207.832,365.34L208.445,365.34L208.316,363.77L208.188,360.52L208.077,356.77L207.971,349.52L207.924,342.52L207.823,331.77L208.048,326.77Z
M209.025,365.79L209.025,365.34L208.914,363.77L208.837,359.52L208.779,352.52L208.736,342.52L208.754,331.77L209.049,326.77L209.036,325.52L209.02,294.77L209.052,276.77L209.108,264.52L209.13,261.77L209.183,258.02L209.33,251.02L209.446,241.02L209.484,236.77L209.505,233.52L209.518,228.77L209.358,211.02L209.304,187.02L209.373,156.02L209.337,154.27L209.197,154.02L209.137,152.52L209.132,152.27L209.146,102.52L209.144,52.02L210.132,52.02L210.133,102.52L210.12,152.27L210.115,152.52L210.054,154.02L209.913,154.27L209.924,156.02L209.946,187.02L210.044,211.02L210.264,229.27L210.279,233.02L210.301,236.27L210.343,240.52L210.4,245.27L210.482,251.27L210.582,255.52L210.65,258.77L210.693,261.77L210.719,264.52L210.795,276.77L210.859,294.52L210.915,325.52L210.905,326.77L210.597,331.77L210.673,342.52L210.716,352.52L210.773,359.52L210.85,363.77L210.962,365.34L210.962,365.79Z
M209.625,154.26L209.504,154.27L209.513,156.02L209.497,187.02L209.559,211.02L209.744,230.77L209.756,234.77L209.785,239.27L209.83,244.27L209.902,251.02L209.906,251.02L209.969,244.27L210.006,239.52L210.031,235.02L210.039,231.52L209.752,187.02L209.785,156.02L209.745,154.27Z
M209.977,326.76L209.976,326.77L209.626,331.77L209.59,342.52L209.606,349.52L209.603,356.77L209.583,360.27L209.585,362.77L209.597,363.77L209.687,365.34L210.3,365.34L210.167,363.77L210.053,360.52L209.952,356.77L209.858,349.52L209.819,342.52L209.726,331.77L209.978,326.77Z
M210.883,365.79L210.883,365.34L210.793,363.77L210.732,359.52L210.688,352.52L210.656,342.52L210.681,331.77L210.955,326.77L210.943,325.52L210.922,294.77L210.948,276.77L211.001,264.52L211.022,261.77L211.073,258.02L211.218,251.02L211.331,241.02L211.368,236.77L211.387,233.52L211.399,228.77L211.236,211.02L211.274,187.02L211.349,156.02L211.283,154.27L211.139,154.02L211.079,152.52L211.074,152.27L211.083,102.52L211.082,52.02L212.07,52.02L212.071,102.52L212.062,152.27L212.057,152.52L211.996,154.02L211.858,154.27L211.9,156.02L211.916,187.02L211.922,211.02L212.145,229.27L212.161,233.02L212.185,236.27L212.228,240.52L212.287,245.27L212.371,251.27L212.471,255.52L212.541,258.77L212.585,261.77L212.612,264.52L212.692,276.77L212.761,294.52L212.821,325.52L212.811,326.77L212.524,331.77L212.592,342.52L212.625,352.52L212.669,359.52L212.729,363.77L212.819,365.34L212.819,365.79Z
M211.57,154.26L211.45,154.27L211.489,156.02L211.468,187.02L211.437,211.02L211.626,230.77L211.638,234.77L211.669,239.27L211.716,244.27L211.79,251.02L211.794,251.02L211.855,244.27L211.891,239.52L211.914,235.02L211.92,231.52L211.723,187.02L211.76,156.02L211.691,154.27Z
M211.883,326.76L211.881,326.77L211.553,331.77L211.509,342.52L211.519,349.52L211.505,356.77L211.476,360.27L211.469,362.77L211.476,363.77L211.544,365.34L212.158,365.34L212.046,363.77L211.946,360.52L211.854,356.77L211.77,349.52L211.738,342.52L211.653,331.77L211.884,326.77Z
M212.768,365.79L212.768,365.34L212.698,363.77L212.653,359.52L212.621,352.52L212.598,342.52L212.631,331.77L212.834,326.77L212.823,325.52L212.797,294.77L212.817,276.77L212.866,264.52L212.886,261.77L212.936,258.02L213.078,251.02L213.188,241.02L213.223,236.77L213.241,233.52L213.252,228.77L213.14,211.02L213.26,187.02L213.339,156.02L213.248,154.27L213.101,154.02L213.041,152.52L213.036,152.27L213.042,102.52L213.041,52.02L214.029,52.02L214.029,102.52L214.023,152.27L214.019,152.52L213.958,154.02L213.824,154.27L213.89,156.02L213.902,187.02L213.827,211.02L213.998,229.27L214.015,233.02L214.04,236.27L214.084,240.52L214.145,245.27L214.231,251.27L214.333,255.52L214.404,258.77L214.449,261.77L214.477,264.52L214.561,276.77L214.636,294.52L214.701,325.52L214.69,326.77L214.473,331.77L214.535,342.52L214.557,352.52L214.589,359.52L214.635,363.77L214.705,365.34L214.705,365.79Z
M213.536,154.26L213.415,154.27L213.479,156.02L213.453,187.02L213.342,211.02L213.479,230.77L213.493,234.77L213.525,239.27L213.574,244.27L213.651,251.02L213.654,251.02L213.713,244.27L213.747,239.52L213.769,235.02L213.774,231.52L213.708,187.02L213.75,156.02L213.657,154.27Z
M213.762,326.76L213.761,326.77L213.502,331.77L213.452,342.52L213.455,349.52L213.431,356.77L213.395,360.27L213.38,362.77L213.381,363.77L213.43,365.34L214.043,365.34L213.952,363.77L213.864,360.52L213.78,356.77L213.706,349.52L213.681,342.52L213.602,331.77L213.763,326.77Z
M214.68,365.79L214.68,365.34L214.628,363.77L214.596,359.52L214.575,352.52L214.56,342.52L214.599,331.77L214.686,326.77L214.675,325.52L214.647,294.77L214.667,276.77L214.716,264.52L214.736,261.77L214.787,258.02L214.931,251.02L215.044,241.02L215.08,236.77L215.099,233.52L215.112,228.77L215.069,211.02L215.256,187.02L215.338,156.02L215.23,154.27L215.08,154.02L215.02,152.52L215.015,152.27L215.018,102.52L215.017,52.02L216.005,52.02L216.005,102.52L216.002,152.27L215.997,152.52L215.937,154.02L215.806,154.27L215.888,156.02L215.898,187.02L215.755,211.02L215.858,229.27L215.874,233.02L215.897,236.27L215.94,240.52L215.999,245.27L216.084,251.27L216.185,255.52L216.255,258.77L216.3,261.77L216.327,264.52L216.41,276.77L216.486,294.52L216.553,325.52L216.542,326.77L216.442,331.77L216.497,342.52L216.511,352.52L216.533,359.52L216.565,363.77L216.616,365.34L216.616,365.79Z
M215.517,154.26L215.397,154.27L215.477,156.02L215.45,187.02L215.271,211.02L215.339,230.77L215.351,234.77L215.382,239.27L215.429,244.27L215.503,251.02L215.507,251.02L215.568,244.27L215.603,239.52L215.627,235.02L215.633,231.52L215.705,187.02L215.749,156.02L215.638,154.27Z
M215.614,326.76L215.612,326.77L215.47,331.77L215.414,342.52L215.412,349.52L215.379,356.77L215.337,360.27L215.314,362.77L215.311,363.77L215.341,365.34L215.955,365.34L215.882,363.77L215.805,360.52L215.728,356.77L215.663,349.52L215.643,342.52L215.57,331.77L215.615,326.77Z
M216.615,365.79L216.615,365.34L216.579,363.77L216.559,359.52L216.547,352.52L216.54,342.52L216.583,331.77L216.547,326.77L216.536,325.52L216.513,294.77L216.538,276.77L216.592,264.52L216.613,261.77L216.665,258.02L216.812,251.02L216.928,241.02L216.966,236.77L216.986,233.52L217,228.77L217.02,211.02L217.254,187.02L217.333,156.02L217.224,154.27L217.072,154.02L217.012,152.52L217.007,152.27L217.007,102.52L217.007,52.02L217.995,52.02L217.995,102.52L217.994,152.27L217.99,152.52L217.929,154.02L217.8,154.27L217.883,156.02L217.896,187.02L217.706,211.02L217.746,229.27L217.761,233.02L217.783,236.27L217.825,240.52L217.882,245.27L217.964,251.27L218.064,255.52L218.133,258.77L218.177,261.77L218.203,264.52L218.282,276.77L218.352,294.52L218.414,325.52L218.404,326.77L218.426,331.77L218.476,342.52L218.484,352.52L218.496,359.52L218.516,363.77L218.551,365.34L218.551,365.79Z
M217.511,154.26L217.391,154.27L217.472,156.02L217.448,187.02L217.221,211.02L217.226,230.77L217.237,234.77L217.266,239.27L217.312,244.27L217.384,251.02L217.388,251.02L217.45,244.27L217.488,239.52L217.513,235.02L217.52,231.52L217.703,187.02L217.744,156.02L217.633,154.27Z
M217.475,326.76L217.474,326.77L217.454,331.77L217.394,342.52L217.387,349.52L217.347,356.77L217.298,360.27L217.269,362.77L217.262,363.77L217.276,365.34L217.89,365.34L217.833,363.77L217.766,360.52L217.696,356.77L217.638,349.52L217.623,342.52L217.555,331.77L217.477,326.77Z
M218.571,365.79L218.571,365.34L218.55,363.77L218.539,359.52L218.534,352.52L218.532,342.52L218.579,331.77L218.437,326.77L218.425,325.52L218.406,294.77L218.437,276.77L218.494,264.52L218.517,261.77L218.57,258.02L218.719,251.02L218.838,241.02L218.877,236.77L218.898,233.52L218.914,228.77L218.989,211.02L219.242,187.02L219.316,156.02L219.223,154.27L219.071,154.02L219.011,152.52L219.006,152.27L219.006,102.52L219.006,52.02L219.994,52.02L219.994,102.52L219.993,152.27L219.989,152.52L219.928,154.02L219.799,154.27L219.866,156.02L219.884,187.02L219.676,211.02L219.66,229.27L219.673,233.02L219.694,236.27L219.735,240.52L219.791,245.27L219.871,251.27L219.97,255.52L220.037,258.77L220.08,261.77L220.106,264.52L220.181,276.77L220.246,294.52L220.303,325.52L220.293,326.77L220.421,331.77L220.469,342.52L220.471,352.52L220.476,359.52L220.486,363.77L220.507,365.34L220.507,365.79Z
M219.51,154.26L219.39,154.27L219.455,156.02L219.435,187.02L219.191,211.02L219.139,230.77L219.149,234.77L219.177,239.27L219.221,244.27L219.291,251.02L219.295,251.02L219.36,244.27L219.398,239.52L219.424,235.02L219.433,231.52L219.69,187.02L219.727,156.02L219.631,154.27Z
M219.365,326.76L219.364,326.77L219.45,331.77L219.386,342.52L219.376,349.52L219.33,356.77L219.277,360.27L219.242,362.77L219.233,363.77L219.233,365.34L219.846,365.34L219.803,363.77L219.744,360.52L219.68,356.77L219.627,349.52L219.615,342.52L219.55,331.77L219.366,326.77Z
M220.545,365.79L220.545,365.34L220.535,363.77L220.532,359.52L220.532,352.52L220.531,342.52L220.577,331.77L220.352,326.77L220.339,325.52L220.325,294.77L220.361,276.77L220.422,264.52L220.445,261.77L220.499,258.02L220.65,251.02L220.772,241.02L220.812,236.77L220.834,233.52L220.851,228.77L220.975,211.02L221.214,187.02L221.283,156.02L221.214,154.27L221.064,154.02L221.004,152.52L220.999,152.27L221.001,102.52L221.001,52.02L221.988,52.02L221.989,102.52L221.987,152.27L221.982,152.52L221.921,154.02L221.79,154.27L221.834,156.02L221.857,187.02L221.661,211.02L221.597,229.27L221.609,233.02L221.63,236.27L221.669,240.52L221.723,245.27L221.802,251.27L221.899,255.52L221.966,258.77L222.008,261.77L222.033,264.52L222.104,276.77L222.164,294.52L222.218,325.52L222.208,326.77L222.42,331.77L222.468,342.52L222.468,352.52L222.469,359.52L222.472,363.77L222.482,365.34L222.482,365.79Z
M221.501,154.26L221.381,154.27L221.422,156.02L221.408,187.02L221.176,211.02L221.076,230.77L221.085,234.77L221.111,239.27L221.154,244.27L221.222,251.02L221.226,251.02L221.292,244.27L221.332,239.52L221.36,235.02L221.37,231.52L221.663,187.02L221.694,156.02L221.622,154.27Z
M221.28,326.76L221.279,326.77L221.448,331.77L221.385,342.52L221.374,349.52L221.325,356.77L221.269,360.27L221.23,362.77L221.218,363.77L221.207,365.34L221.82,365.34L221.789,363.77L221.736,360.52L221.675,356.77L221.626,349.52L221.614,342.52L221.548,331.77L221.281,326.77Z
M222.534,365.79L222.534,365.34L222.532,363.77L222.531,359.52L222.529,352.52L222.524,342.52L222.566,331.77L222.29,326.77L222.277,325.52L222.267,294.77L222.307,276.77L222.371,264.52L222.394,261.77L222.45,258.02L222.602,251.02L222.727,241.02L222.768,236.77L222.791,233.52L222.809,228.77L222.971,211.02L223.169,187.02L223.231,156.02L223.191,154.27L223.045,154.02L222.984,152.52L222.979,152.27L222.984,102.52L222.984,52.02L223.971,52.02L223.972,102.52L223.967,152.27L223.962,152.52L223.901,154.02L223.767,154.27L223.781,156.02L223.811,187.02L223.657,211.02L223.554,229.27L223.566,233.02L223.586,236.27L223.624,240.52L223.677,245.27L223.754,251.27L223.851,255.52L223.916,258.77L223.958,261.77L223.982,264.52L224.05,276.77L224.106,294.52L224.155,325.52L224.146,326.77L224.409,331.77L224.461,342.52L224.465,352.52L224.468,359.52L224.468,363.77L224.47,365.34L224.47,365.79Z
M223.479,154.26L223.358,154.27L223.37,156.02L223.363,187.02L223.172,211.02L223.033,230.77L223.041,234.77L223.067,239.27L223.108,244.27L223.174,251.02L223.178,251.02L223.247,244.27L223.288,239.52L223.316,235.02L223.327,231.52L223.618,187.02L223.642,156.02L223.6,154.27Z
M223.218,326.76L223.217,326.77L223.437,331.77L223.378,342.52L223.37,349.52L223.324,356.77L223.268,360.27L223.228,362.77L223.215,363.77L223.195,365.34L223.809,365.34L223.785,363.77L223.735,360.52L223.673,356.77L223.621,349.52L223.607,342.52L223.537,331.77L223.22,326.77Z
M224.532,365.79L224.532,365.34L224.529,363.77L224.523,359.52L224.515,352.52L224.504,342.52L224.541,331.77L224.249,326.77L224.236,325.52L224.228,294.77L224.273,276.77L224.339,264.52L224.363,261.77L224.419,258.02L224.573,251.02L224.7,241.02L224.742,236.77L224.766,233.52L224.785,228.77L224.969,211.02L225.102,187.02L225.156,156.02L225.151,154.27L225.008,154.02L224.948,152.52L224.943,152.27L224.951,102.52L224.95,52.02L225.938,52.02L225.939,102.52L225.93,152.27L225.925,152.52L225.864,154.02L225.727,154.27L225.707,156.02L225.744,187.02L225.655,211.02L225.53,229.27L225.541,233.02L225.56,236.27L225.597,240.52L225.65,245.27L225.726,251.27L225.821,255.52L225.886,258.77L225.927,261.77L225.95,264.52L226.016,276.77L226.068,294.52L226.114,325.52L226.105,326.77L226.383,331.77L226.44,342.52L226.451,352.52L226.46,359.52L226.466,363.77L226.468,365.34L226.468,365.79Z
M225.439,154.26L225.318,154.27L225.296,156.02L225.296,187.02L225.17,211.02L225.009,230.77L225.016,234.77L225.04,239.27L225.08,244.27L225.146,251.02L225.149,251.02L225.219,244.27L225.261,239.52L225.291,235.02L225.302,231.52L225.551,187.02L225.567,156.02L225.56,154.27Z
M225.177,326.76L225.176,326.77L225.412,331.77L225.358,342.52L225.354,349.52L225.313,356.77L225.261,360.27L225.224,362.77L225.212,363.77L225.193,365.34L225.807,365.34L225.783,363.77L225.729,360.52L225.663,356.77L225.605,349.52L225.587,342.52L225.512,331.77L225.179,326.77Z
M226.528,365.79L226.528,365.34L226.517,363.77L226.503,359.52L226.485,352.52L226.467,342.52L226.498,331.77L226.226,326.77L226.212,325.52L226.207,294.77L226.255,276.77L226.323,264.52L226.348,261.77L226.405,258.02L226.56,251.02L226.688,241.02L226.731,236.77L226.755,233.52L226.775,228.77L226.957,211.02L227.012,187.02L227.057,156.02L227.09,154.27L226.951,154.02L226.891,152.52L226.886,152.27L226.899,102.52L226.897,52.02L227.885,52.02L227.886,102.52L227.874,152.27L227.869,152.52L227.808,154.02L227.666,154.27L227.608,156.02L227.654,187.02L227.643,211.02L227.52,229.27L227.53,233.02L227.549,236.27L227.585,240.52L227.637,245.27L227.712,251.27L227.807,255.52L227.871,258.77L227.911,261.77L227.934,264.52L227.998,276.77L228.047,294.52L228.09,325.52L228.082,326.77L228.34,331.77L228.403,342.52L228.422,352.52L228.439,359.52L228.454,363.77L228.464,365.34L228.464,365.79Z
M227.378,154.26L227.258,154.27L227.197,156.02L227.205,187.02L227.158,211.02L226.998,230.77L227.005,234.77L227.029,239.27L227.068,244.27L227.132,251.02L227.136,251.02L227.207,244.27L227.249,239.52L227.28,235.02L227.291,231.52L227.46,187.02L227.468,156.02L227.499,154.27Z
M227.154,326.76L227.152,326.77L227.369,331.77L227.321,342.52L227.322,349.52L227.289,356.77L227.242,360.27L227.21,362.77L227.2,363.77L227.189,365.34L227.803,365.34L227.771,363.77L227.709,360.52L227.638,356.77L227.573,349.52L227.55,342.52L227.469,331.77L227.155,326.77Z
M228.512,365.79L228.512,365.34L228.49,363.77L228.465,359.52L228.438,352.52L228.41,342.52L228.433,331.77L228.216,326.77L228.202,325.52L228.199,294.77L228.249,276.77L228.319,264.52L228.344,261.77L228.401,258.02L228.557,251.02L228.686,241.02L228.729,236.77L228.753,233.52L228.773,228.77L228.93,211.02L228.895,187.02L228.931,156.02L229.007,154.27L228.872,154.02L228.812,152.52L228.807,152.27L228.824,102.52L228.822,52.02L229.81,52.02L229.812,102.52L229.795,152.27L229.79,152.52L229.728,154.02L229.583,154.27L229.482,156.02L229.537,187.02L229.617,211.02L229.518,229.27L229.529,233.02L229.547,236.27L229.583,240.52L229.634,245.27L229.709,251.27L229.803,255.52L229.867,258.77L229.907,261.77L229.93,264.52L229.992,276.77L230.039,294.52L230.08,325.52L230.072,326.77L230.276,331.77L230.346,342.52L230.374,352.52L230.401,359.52L230.427,363.77L230.449,365.34L230.449,365.79Z
M229.295,154.26L229.174,154.27L229.071,156.02L229.089,187.02L229.132,211.02L228.997,230.77L229.003,234.77L229.027,239.27L229.065,244.27L229.129,251.02L229.133,251.02L229.204,244.27L229.247,239.52L229.278,235.02L229.29,231.52L229.344,187.02L229.342,156.02L229.415,154.27Z
M229.144,326.76L229.143,326.77L229.305,331.77L229.264,342.52L229.271,349.52L229.246,356.77L229.205,360.27L229.179,362.77L229.173,363.77L229.174,365.34L229.787,365.34L229.744,363.77L229.674,360.52L229.596,356.77L229.522,349.52L229.492,342.52L229.405,331.77L229.146,326.77Z
M230.481,365.79L230.481,365.34L230.445,363.77L230.407,359.52L230.368,352.52L230.33,342.52L230.346,331.77L230.215,326.77L230.201,325.52L230.198,294.77L230.248,276.77L230.317,264.52L230.342,261.77L230.399,258.02L230.554,251.02L230.682,241.02L230.725,236.77L230.749,233.52L230.768,228.77L230.886,211.02L230.75,187.02L230.781,156.02L230.897,154.27L230.768,154.02L230.708,152.52L230.703,152.27L230.725,102.52L230.723,52.02L231.71,52.02L231.713,102.52L231.691,152.27L231.686,152.52L231.624,154.02L231.473,154.27L231.331,156.02L231.392,187.02L231.572,211.02L231.513,229.27L231.524,233.02L231.543,236.27L231.579,240.52L231.631,245.27L231.706,251.27L231.801,255.52L231.865,258.77L231.905,261.77L231.928,264.52L231.991,276.77L232.038,294.52L232.079,325.52L232.071,326.77L232.188,331.77L232.267,342.52L232.305,352.52L232.343,359.52L232.381,363.77L232.418,365.34L232.418,365.79Z
M231.186,154.26L231.065,154.27L230.92,156.02L230.944,187.02L231.087,211.02L230.992,230.77L230.999,234.77L231.023,239.27L231.062,244.27L231.126,251.02L231.13,251.02L231.201,244.27L231.244,239.52L231.274,235.02L231.285,231.52L231.199,187.02L231.192,156.02L231.306,154.27Z
M231.143,326.76L231.142,326.77L231.217,331.77L231.184,342.52L231.198,349.52L231.183,356.77L231.149,360.27L231.13,362.77L231.128,363.77L231.143,365.34L231.756,365.34L231.698,363.77L231.618,360.52L231.533,356.77L231.449,349.52L231.413,342.52L231.317,331.77L231.144,326.77Z
M232.431,365.79L232.431,365.34L232.378,363.77L232.326,359.52L232.275,352.52L232.225,342.52L232.232,331.77L232.209,326.77L232.195,325.52L232.192,294.77L232.239,276.77L232.306,264.52L232.33,261.77L232.387,258.02L232.541,251.02L232.667,241.02L232.709,236.77L232.733,233.52L232.752,228.77L232.82,211.02L232.608,187.02L232.648,156.02L232.761,154.27L232.636,154.02L232.577,152.52L232.572,152.27L232.599,102.52L232.596,52.02L233.584,52.02L233.587,102.52L233.56,152.27L233.555,152.52L233.493,154.02L233.336,154.27L233.198,156.02L233.25,187.02L233.506,211.02L233.497,229.27L233.508,233.02L233.527,236.27L233.565,240.52L233.617,245.27L233.693,251.27L233.788,255.52L233.853,258.77L233.894,261.77L233.917,264.52L233.982,276.77L234.031,294.52L234.074,325.52L234.066,326.77L234.075,331.77L234.162,342.52L234.211,352.52L234.263,359.52L234.315,363.77L234.368,365.34L234.368,365.79Z
M233.049,154.26L232.928,154.27L232.787,156.02L232.801,187.02L233.022,211.02L232.976,230.77L232.983,234.77L233.008,239.27L233.048,244.27L233.113,251.02L233.117,251.02L233.187,244.27L233.229,239.52L233.258,235.02L233.269,231.52L233.056,187.02L233.059,156.02L233.169,154.27Z
M233.137,326.76L233.136,326.77L233.103,331.77L233.079,342.52L233.1,349.52L233.097,356.77L233.07,360.27L233.059,362.77L233.061,363.77L233.093,365.34L233.706,365.34L233.632,363.77L233.54,360.52L233.446,356.77L233.352,349.52L233.308,342.52L233.204,331.77L233.139,326.77Z
M234.359,365.79L234.359,365.34L234.288,363.77L234.22,359.52L234.155,352.52L234.093,342.52L234.091,331.77L234.192,326.77L234.178,325.52L234.172,294.77L234.216,276.77L234.281,264.52L234.305,261.77L234.36,258.02L234.513,251.02L234.637,241.02L234.678,236.77L234.701,233.52L234.719,228.77L234.731,211.02L234.493,187.02L234.542,156.02L234.612,154.27L234.485,154.02L234.426,152.52L234.421,152.27L234.448,102.52L234.445,52.02L235.433,52.02L235.436,102.52L235.409,152.27L235.404,152.52L235.342,154.02L235.187,154.27L235.093,156.02L235.135,187.02L235.417,211.02L235.464,229.27L235.476,233.02L235.496,236.27L235.534,240.52L235.588,245.27L235.665,251.27L235.761,255.52L235.827,258.77L235.868,261.77L235.892,264.52L235.959,276.77L236.011,294.52L236.057,325.52L236.048,326.77L235.933,331.77L236.029,342.52L236.091,352.52L236.157,359.52L236.224,363.77L236.296,365.34L236.296,365.79Z
M234.9,154.26L234.779,154.27L234.682,156.02L234.687,187.02L234.932,211.02L234.943,230.77L234.951,234.77L234.977,239.27L235.018,244.27L235.085,251.02L235.089,251.02L235.157,244.27L235.198,239.52L235.227,235.02L235.237,231.52L234.942,187.02L234.953,156.02L235.02,154.27Z
M235.12,326.76L235.119,326.77L234.962,331.77L234.947,342.52L234.976,349.52L234.984,356.77L234.966,360.27L234.964,362.77L234.971,363.77L235.021,365.34L235.634,365.34L235.541,363.77L235.436,360.52L235.334,356.77L235.228,349.52L235.176,342.52L235.062,331.77L235.121,326.77Z
M236.263,365.79L236.263,365.34L236.171,363.77L236.087,359.52L236.007,352.52L235.942,342.52L235.945,331.77L236.158,326.77L236.145,325.52L236.135,294.77L236.175,276.77L236.238,264.52L236.261,261.77L236.316,258.02L236.466,251.02L236.588,241.02L236.628,236.77L236.65,233.52L236.667,228.77L236.615,211.02L236.405,187.02L236.462,156.02L236.489,154.27L236.358,154.02L236.298,152.52L236.294,152.27L236.315,102.52L236.313,52.02L237.301,52.02L237.303,102.52L237.281,152.27L237.276,152.52L237.214,154.02L237.065,154.27L237.012,156.02L237.047,187.02L237.301,211.02L237.412,229.27L237.425,233.02L237.446,236.27L237.485,240.52L237.54,245.27L237.619,251.27L237.716,255.52L237.782,258.77L237.824,261.77L237.849,264.52L237.919,276.77L237.975,294.52L238.023,325.52L238.014,326.77L237.788,331.77L237.879,342.52L237.944,352.52L238.023,359.52L238.108,363.77L238.199,365.34L238.199,365.79Z
M236.778,154.26L236.657,154.27L236.601,156.02L236.598,187.02L236.817,211.02L236.892,230.77L236.901,234.77L236.928,239.27L236.97,244.27L237.039,251.02L237.042,251.02L237.109,244.27L237.149,239.52L237.176,235.02L237.185,231.52L236.853,187.02L236.873,156.02L236.898,154.27Z
M237.086,326.76L237.085,326.77L236.816,331.77L236.796,342.52L236.826,349.52L236.844,356.77L236.835,360.27L236.843,362.77L236.854,363.77L236.924,365.34L237.538,365.34L237.425,363.77L237.306,360.52L237.193,356.77L237.078,349.52L237.025,342.52L236.916,331.77L237.088,326.77Z
M238.14,365.79L238.14,365.34L238.027,363.77L237.936,359.52L237.868,352.52L237.815,342.52L237.827,331.77L238.105,326.77L238.092,325.52L238.079,294.77L238.114,276.77L238.173,264.52L238.196,261.77L238.25,258.02L238.399,251.02L238.518,241.02L238.556,236.77L238.577,233.52L238.592,228.77L238.472,211.02L238.34,187.02L238.404,156.02L238.394,154.27L238.258,154.02L238.198,152.52L238.193,152.27L238.21,102.52L238.208,52.02L239.196,52.02L239.198,102.52L239.181,152.27L239.176,152.52L239.114,154.02L238.97,154.27L238.955,156.02L238.982,187.02L239.158,211.02L239.338,229.27L239.352,233.02L239.374,236.27L239.414,240.52L239.471,245.27L239.551,251.27L239.649,255.52L239.717,258.77L239.76,261.77L239.785,264.52L239.858,276.77L239.918,294.52L239.971,325.52L239.961,326.77L239.67,331.77L239.752,342.52L239.804,352.52L239.873,359.52L239.963,363.77L240.076,365.34L240.076,365.79Z
M238.682,154.26L238.561,154.27L238.543,156.02L238.533,187.02L238.673,211.02L238.818,230.77L238.828,234.77L238.857,239.27L238.9,244.27L238.971,251.02L238.975,251.02L239.039,244.27L239.078,239.52L239.104,235.02L239.112,231.52L238.788,187.02L238.815,156.02L238.803,154.27Z
M239.033,326.76L239.032,326.77L238.698,331.77L238.669,342.52L238.691,349.52L238.697,356.77L238.684,360.27L238.694,362.77L238.71,363.77L238.802,365.34L239.415,365.34L239.28,363.77L239.155,360.52L239.046,356.77L238.943,349.52L238.898,342.52L238.799,331.77L239.034,326.77Z
M239.99,365.79L239.99,365.34L239.884,363.77L239.811,359.52L239.757,352.52L239.716,342.52L239.736,331.77L240.03,326.77L240.017,325.52L240,294.77L240.031,276.77L240.086,264.52L240.108,261.77L240.16,258.02L240.307,251.02L240.423,241.02L240.46,236.77L240.48,233.52L240.494,228.77L240.328,211.02L240.296,187.02L240.366,156.02L240.323,154.27L240.182,154.02L240.122,152.52L240.117,152.27L240.13,102.52L240.128,52.02L241.116,52.02L241.117,102.52L241.105,152.27L241.1,152.52L241.039,154.02L240.899,154.27L240.917,156.02L240.938,187.02L241.014,211.02L241.239,229.27L241.255,233.02L241.277,236.27L241.319,240.52L241.377,245.27L241.459,251.27L241.559,255.52L241.627,258.77L241.671,261.77L241.697,264.52L241.774,276.77L241.839,294.52L241.896,325.52L241.886,326.77L241.578,331.77L241.652,342.52L241.693,352.52L241.747,359.52L241.82,363.77L241.927,365.34L241.927,365.79Z
M240.611,154.26L240.49,154.27L240.506,156.02L240.489,187.02L240.529,211.02L240.72,230.77L240.731,234.77L240.761,239.27L240.807,244.27L240.879,251.02L240.883,251.02L240.946,244.27L240.982,239.52L241.007,235.02L241.014,231.52L240.744,187.02L240.778,156.02L240.731,154.27Z
M240.958,326.76L240.956,326.77L240.607,331.77L240.57,342.52L240.584,349.52L240.578,356.77L240.557,360.27L240.556,362.77L240.567,363.77L240.652,365.34L241.265,365.34L241.137,363.77L241.027,360.52L240.928,356.77L240.836,349.52L240.798,342.52L240.707,331.77L240.959,326.77Z
M241.854,365.79L241.854,365.34L241.769,363.77L241.712,359.52L241.671,352.52L241.641,342.52L241.668,331.77L241.93,326.77L241.918,325.52L241.896,294.77L241.921,276.77L241.972,264.52L241.993,261.77L242.044,258.02L242.189,251.02L242.301,241.02L242.337,236.77L242.356,233.52L242.368,228.77L242.212,211.02L242.27,187.02L242.346,156.02L242.273,154.27L242.129,154.02L242.068,152.52L242.064,152.27L242.072,102.52L242.071,52.02L243.059,52.02L243.06,102.52L243.051,152.27L243.046,152.52L242.985,154.02L242.849,154.27L242.896,156.02L242.912,187.02L242.898,211.02L243.114,229.27L243.131,233.02L243.154,236.27L243.198,240.52L243.257,245.27L243.341,251.27L243.443,255.52L243.512,258.77L243.557,261.77L243.584,264.52L243.664,276.77L243.735,294.52L243.796,325.52L243.786,326.77L243.511,331.77L243.577,342.52L243.607,352.52L243.649,359.52L243.706,363.77L243.791,365.34L243.791,365.79Z
M242.561,154.26L242.44,154.27L242.485,156.02L242.463,187.02L242.413,211.02L242.595,230.77L242.608,234.77L242.639,239.27L242.686,244.27L242.761,251.02L242.765,251.02L242.825,244.27L242.86,239.52L242.883,235.02L242.889,231.52L242.718,187.02L242.757,156.02L242.682,154.27Z
M242.858,326.76L242.856,326.77L242.539,331.77L242.494,342.52L242.502,349.52L242.486,356.77L242.456,360.27L242.447,362.77L242.452,363.77L242.516,365.34L243.129,365.34L243.023,363.77L242.925,360.52L242.835,356.77L242.754,349.52L242.723,342.52L242.64,331.77L242.859,326.77Z
M243.746,365.79L243.746,365.34L243.68,363.77L243.638,359.52L243.609,352.52L243.588,342.52L243.622,331.77L243.802,326.77L243.791,325.52L243.765,294.77L243.784,276.77L243.831,264.52L243.851,261.77L243.901,258.02L244.043,251.02L244.153,241.02L244.188,236.77L244.206,233.52L244.217,228.77L244.122,211.02L244.258,187.02L244.338,156.02L244.243,154.27L244.095,154.02L244.034,152.52L244.03,152.27L244.035,102.52L244.034,52.02L245.022,52.02L245.022,102.52L245.017,152.27L245.012,152.52L244.951,154.02L244.818,154.27L244.889,156.02L244.9,187.02L244.808,211.02L244.963,229.27L244.981,233.02L245.005,236.27L245.049,240.52L245.109,245.27L245.195,251.27L245.298,255.52L245.368,258.77L245.414,261.77L245.442,264.52L245.527,276.77L245.604,294.52L245.67,325.52L245.659,326.77L245.465,331.77L245.524,342.52L245.545,352.52L245.575,359.52L245.617,363.77L245.683,365.34L245.683,365.79Z
M244.53,154.26L244.41,154.27L244.478,156.02L244.452,187.02L244.324,211.02L244.445,230.77L244.458,234.77L244.49,239.27L244.538,244.27L244.615,251.02L244.619,251.02L244.677,244.27L244.711,239.52L244.734,235.02L244.739,231.52L244.707,187.02L244.749,156.02L244.651,154.27Z
M244.731,326.76L244.729,326.77L244.493,331.77L244.442,342.52L244.443,349.52L244.417,356.77L244.38,360.27L244.363,362.77L244.363,363.77L244.408,365.34L245.021,365.34L244.934,363.77L244.849,360.52L244.767,356.77L244.695,349.52L244.671,342.52L244.593,331.77L244.732,326.77Z
M245.663,365.79L245.663,365.34L245.615,363.77L245.586,359.52L245.567,352.52L245.554,342.52L245.594,331.77L245.652,326.77L245.641,325.52L245.614,294.77L245.635,276.77L245.685,264.52L245.706,261.77L245.757,258.02L245.902,251.02L246.015,241.02L246.052,236.77L246.071,233.52L246.084,228.77L246.056,211.02L246.256,187.02L246.337,156.02L246.228,154.27L246.077,154.02L246.017,152.52L246.012,152.27L246.014,102.52L246.014,52.02L247.002,52.02L247.002,102.52L247,152.27L246.995,152.52L246.934,154.02L246.803,154.27L246.888,156.02L246.898,187.02L246.742,211.02L246.83,229.27L246.846,233.02L246.869,236.27L246.912,240.52L246.97,245.27L247.054,251.27L247.155,255.52L247.224,258.77L247.269,261.77L247.296,264.52L247.378,276.77L247.453,294.52L247.519,325.52L247.508,326.77L247.437,331.77L247.491,342.52L247.503,352.52L247.523,359.52L247.552,363.77L247.6,365.34L247.6,365.79Z
M246.515,154.26L246.395,154.27L246.477,156.02L246.45,187.02L246.258,211.02L246.311,230.77L246.323,234.77L246.353,239.27L246.4,244.27L246.474,251.02L246.477,251.02L246.539,244.27L246.574,239.52L246.598,235.02L246.605,231.52L246.705,187.02L246.748,156.02L246.636,154.27Z
M246.58,326.76L246.578,326.77L246.465,331.77L246.408,342.52L246.405,349.52L246.37,356.77L246.326,360.27L246.302,362.77L246.298,363.77L246.325,365.34L246.938,365.34L246.869,363.77L246.794,360.52L246.719,356.77L246.656,349.52L246.637,342.52L246.566,331.77L246.581,326.77Z
M247.603,365.79L247.603,365.34L247.571,363.77L247.553,359.52L247.543,352.52L247.537,342.52L247.581,331.77L247.52,326.77L247.508,325.52L247.486,294.77L247.513,276.77L247.567,264.52L247.589,261.77L247.641,258.02L247.788,251.02L247.905,241.02L247.943,236.77L247.964,233.52L247.978,228.77L248.011,211.02L248.252,187.02L248.33,156.02L248.224,154.27L248.072,154.02L248.011,152.52L248.006,152.27L248.007,102.52L248.007,52.02L248.994,52.02L248.994,102.52L248.994,152.27L248.989,152.52L248.928,154.02L248.8,154.27L248.881,156.02L248.894,187.02L248.698,211.02L248.724,229.27L248.739,233.02L248.761,236.27L248.802,240.52L248.859,245.27L248.941,251.27L249.04,255.52L249.109,258.77L249.152,261.77L249.179,264.52L249.257,276.77L249.325,294.52L249.387,325.52L249.376,326.77L249.424,331.77L249.474,342.52L249.48,352.52L249.49,359.52L249.508,363.77L249.54,365.34L249.54,365.79Z
M248.511,154.26L248.391,154.27L248.47,156.02L248.446,187.02L248.213,211.02L248.204,230.77L248.215,234.77L248.244,239.27L248.289,244.27L248.361,251.02L248.364,251.02L248.428,244.27L248.465,239.52L248.49,235.02L248.498,231.52L248.701,187.02L248.741,156.02L248.632,154.27Z
M248.448,326.76L248.447,326.77L248.453,331.77L248.391,342.52L248.383,349.52L248.342,356.77L248.292,360.27L248.261,362.77L248.254,363.77L248.265,365.34L248.878,365.34L248.825,363.77L248.76,360.52L248.691,356.77L248.635,349.52L248.62,342.52L248.553,331.77L248.449,326.77Z
M249.563,365.79L249.563,365.34L249.545,363.77L249.537,359.52L249.533,352.52L249.532,342.52L249.579,331.77L249.415,326.77L249.403,325.52L249.386,294.77L249.418,276.77L249.476,264.52L249.498,261.77L249.552,258.02L249.701,251.02L249.821,241.02L249.86,236.77L249.882,233.52L249.898,228.77L249.985,211.02L250.237,187.02L250.31,156.02L250.222,154.27L250.071,154.02L250.01,152.52L250.005,152.27L250.006,102.52L250.006,52.02L250.993,52.02L250.993,102.52L250.993,152.27L250.988,152.52L250.927,154.02L250.798,154.27L250.861,156.02L250.879,187.02L250.671,211.02L250.643,229.27L250.657,233.02L250.678,236.27L250.718,240.52L250.773,245.27L250.853,251.27L250.952,255.52L251.019,258.77L251.062,261.77L251.087,264.52L251.161,276.77L251.225,294.52L251.281,325.52L251.272,326.77L251.421,331.77L251.468,342.52L251.47,352.52L251.473,359.52L251.482,363.77L251.5,365.34L251.5,365.79Z
M250.509,154.26L250.389,154.27L250.449,156.02L250.431,187.02L250.186,211.02L250.123,230.77L250.133,234.77L250.16,239.27L250.203,244.27L250.273,251.02L250.277,251.02L250.342,244.27L250.381,239.52L250.408,235.02L250.417,231.52L250.685,187.02L250.721,156.02L250.63,154.27Z
M250.343,326.76L250.342,326.77L250.45,331.77L250.386,342.52L250.375,349.52L250.328,356.77L250.274,360.27L250.238,362.77L250.228,363.77L250.225,365.34L250.838,365.34L250.799,363.77L250.742,360.52L250.678,356.77L250.627,349.52L250.615,342.52L250.55,331.77L250.345,326.77Z
M251.541,365.79L251.541,365.34L251.534,363.77L251.532,359.52L251.532,352.52L251.53,342.52L251.576,331.77L251.336,326.77L251.323,325.52L251.31,294.77L251.347,276.77L251.408,264.52L251.431,261.77L251.486,258.02L251.637,251.02L251.76,241.02L251.8,236.77L251.823,233.52L251.84,228.77L251.973,211.02L252.206,187.02L252.273,156.02L252.21,154.27L252.061,154.02L252.001,152.52L251.996,152.27L251.998,102.52L251.998,52.02L252.986,52.02L252.986,102.52L252.983,152.27L252.978,152.52L252.918,154.02L252.786,154.27L252.823,156.02L252.848,187.02L252.659,211.02L252.585,229.27L252.598,233.02L252.618,236.27L252.657,240.52L252.711,245.27L252.789,251.27L252.887,255.52L252.953,258.77L252.995,261.77L253.02,264.52L253.09,276.77L253.149,294.52L253.202,325.52L253.192,326.77L253.418,331.77L253.467,342.52L253.468,352.52L253.468,359.52L253.47,363.77L253.478,365.34L253.478,365.79Z
M252.497,154.26L252.377,154.27L252.412,156.02L252.399,187.02L252.174,211.02L252.065,230.77L252.073,234.77L252.1,239.27L252.141,244.27L252.209,251.02L252.213,251.02L252.28,244.27L252.32,239.52L252.348,235.02L252.358,231.52L252.654,187.02L252.684,156.02L252.619,154.27Z
M252.264,326.76L252.263,326.77L252.447,331.77L252.384,342.52L252.374,349.52L252.325,356.77L252.269,360.27L252.229,362.77L252.217,363.77L252.203,365.34L252.816,365.34L252.787,363.77L252.736,360.52L252.675,356.77L252.625,349.52L252.613,342.52L252.547,331.77L252.265,326.77Z
M253.533,365.79L253.533,365.34L253.532,363.77L253.53,359.52L253.526,352.52L253.521,342.52L253.562,331.77L253.279,326.77L253.266,325.52L253.256,294.77L253.298,276.77L253.362,264.52L253.386,261.77L253.441,258.02L253.594,251.02L253.719,241.02L253.761,236.77L253.784,233.52L253.802,228.77L253.971,211.02L254.156,187.02L254.216,156.02L254.184,154.27L254.038,154.02L253.977,152.52L253.973,152.27L253.978,102.52L253.978,52.02L254.965,52.02L254.966,102.52L254.96,152.27L254.955,152.52L254.894,154.02L254.759,154.27L254.766,156.02L254.798,187.02L254.657,211.02L254.548,229.27L254.559,233.02L254.578,236.27L254.616,240.52L254.669,245.27L254.746,251.27L254.842,255.52L254.908,258.77L254.949,261.77L254.973,264.52L255.041,276.77L255.096,294.52L255.144,325.52L255.135,326.77L255.404,331.77L255.457,342.52L255.463,352.52L255.467,359.52L255.468,363.77L255.469,365.34L255.469,365.79Z
M254.471,154.26L254.351,154.27L254.355,156.02L254.349,187.02L254.172,211.02L254.026,230.77L254.034,234.77L254.059,239.27L254.1,244.27L254.166,251.02L254.17,251.02L254.239,244.27L254.28,239.52L254.309,235.02L254.32,231.52L254.604,187.02L254.627,156.02L254.592,154.27Z
M254.207,326.76L254.206,326.77L254.433,331.77L254.375,342.52L254.367,349.52L254.322,356.77L254.268,360.27L254.228,362.77L254.215,363.77L254.194,365.34L254.807,365.34L254.785,363.77L254.735,360.52L254.672,356.77L254.619,349.52L254.603,342.52L254.533,331.77L254.209,326.77Z
M255.531,365.79L255.531,365.34L255.528,363.77L255.52,359.52L255.509,352.52L255.497,342.52L255.533,331.77L255.242,326.77L255.229,325.52L255.222,294.77L255.267,276.77L255.334,264.52L255.359,261.77L255.415,258.02L255.569,251.02L255.696,241.02L255.738,236.77L255.762,233.52L255.782,228.77L255.967,211.02L256.084,187.02L256.136,156.02L256.139,154.27L255.997,154.02L255.937,152.52L255.932,152.27L255.941,102.52L255.94,52.02L256.928,52.02L256.929,102.52L256.919,152.27L256.915,152.52L256.853,154.02L256.715,154.27L256.687,156.02L256.726,187.02L256.653,211.02L256.527,229.27L256.537,233.02L256.556,236.27L256.593,240.52L256.645,245.27L256.721,251.27L256.816,255.52L256.881,258.77L256.922,261.77L256.946,264.52L257.011,276.77L257.062,294.52L257.107,325.52L257.099,326.77L257.375,331.77L257.434,342.52L257.446,352.52L257.457,359.52L257.464,363.77L257.468,365.34L257.468,365.79Z
M256.427,154.26L256.306,154.27L256.275,156.02L256.278,187.02L256.169,211.02L256.005,230.77L256.012,234.77L256.037,239.27L256.076,244.27L256.141,251.02L256.145,251.02L256.215,244.27L256.257,239.52L256.287,235.02L256.299,231.52L256.532,187.02L256.547,156.02L256.548,154.27Z
M256.171,326.76L256.169,326.77L256.404,331.77L256.351,342.52L256.348,349.52L256.309,356.77L256.258,360.27L256.222,362.77L256.211,363.77L256.193,365.34L256.806,365.34L256.781,363.77L256.725,360.52L256.659,356.77L256.6,349.52L256.58,342.52L256.504,331.77L256.172,326.77Z
M257.525,365.79L257.525,365.34L257.512,363.77L257.496,359.52L257.476,352.52L257.456,342.52L257.485,331.77L257.222,326.77L257.209,325.52L257.205,294.77L257.252,276.77L257.321,264.52L257.346,261.77L257.403,258.02L257.558,251.02L257.687,241.02L257.73,236.77L257.754,233.52L257.774,228.77L257.952,211.02L257.988,187.02L258.031,156.02L258.073,154.27L257.935,154.02L257.875,152.52L257.871,152.27L257.884,102.52L257.882,52.02L258.87,52.02L258.871,102.52L258.858,152.27L258.853,152.52L258.792,154.02L258.649,154.27L258.582,156.02L258.63,187.02L258.638,211.02L258.519,229.27L258.529,233.02L258.548,236.27L258.584,240.52L258.636,245.27L258.71,251.27L258.805,255.52L258.869,258.77L258.91,261.77L258.933,264.52L258.996,276.77L259.044,294.52L259.087,325.52L259.079,326.77L259.328,331.77L259.392,342.52L259.413,352.52L259.432,359.52L259.449,363.77L259.462,365.34L259.462,365.79Z
M258.362,154.26L258.241,154.27L258.171,156.02L258.181,187.02L258.154,211.02L257.997,230.77L258.004,234.77L258.028,239.27L258.066,244.27L258.131,251.02L258.134,251.02L258.205,244.27L258.248,239.52L258.279,235.02L258.291,231.52L258.436,187.02L258.442,156.02L258.482,154.27Z
M258.151,326.76L258.149,326.77L258.356,331.77L258.31,342.52L258.312,349.52L258.281,356.77L258.235,360.27L258.204,362.77L258.195,363.77L258.187,365.34L258.8,365.34L258.766,363.77L258.703,360.52L258.63,356.77L258.564,349.52L258.538,342.52L258.456,331.77L258.152,326.77Z
M259.507,365.79L259.507,365.34L259.481,363.77L259.453,359.52L259.424,352.52L259.394,342.52L259.416,331.77L259.215,326.77L259.201,325.52L259.199,294.77L259.249,276.77L259.319,264.52L259.344,261.77L259.401,258.02L259.557,251.02L259.685,241.02L259.729,236.77L259.753,233.52L259.773,228.77L259.922,211.02L259.865,187.02L259.899,156.02L259.984,154.27L259.851,154.02L259.791,152.52L259.786,152.27L259.804,102.52L259.802,52.02L260.79,52.02L260.791,102.52L260.774,152.27L260.769,152.52L260.707,154.02L260.56,154.27L260.449,156.02L260.507,187.02L260.608,211.02L260.518,229.27L260.528,233.02L260.546,236.27L260.583,240.52L260.634,245.27L260.709,251.27L260.803,255.52L260.867,258.77L260.907,261.77L260.93,264.52L260.992,276.77L261.039,294.52L261.08,325.52L261.072,326.77L261.258,331.77L261.33,342.52L261.36,352.52L261.39,359.52L261.418,363.77L261.443,365.34L261.443,365.79Z
M260.272,154.26L260.151,154.27L260.038,156.02L260.058,187.02L260.123,211.02L259.996,230.77L260.003,234.77L260.026,239.27L260.065,244.27L260.129,251.02L260.132,251.02L260.204,244.27L260.247,239.52L260.278,235.02L260.29,231.52L260.313,187.02L260.31,156.02L260.393,154.27Z
M260.143,326.76L260.142,326.77L260.287,331.77L260.248,342.52L260.256,349.52L260.234,356.77L260.194,360.27L260.17,362.77L260.164,363.77L260.168,365.34L260.782,365.34L260.735,363.77L260.663,360.52L260.583,356.77L260.508,349.52L260.476,342.52L260.387,331.77L260.145,326.77Z
M261.472,365.79L261.472,365.34L261.432,363.77L261.391,359.52L261.349,352.52L261.308,342.52L261.322,331.77L261.214,326.77L261.2,325.52L261.198,294.77L261.247,276.77L261.315,264.52L261.34,261.77L261.397,258.02L261.552,251.02L261.68,241.02L261.723,236.77L261.746,233.52L261.766,228.77L261.873,211.02L261.715,187.02L261.748,156.02L261.869,154.27L261.74,154.02L261.681,152.52L261.676,152.27L261.699,102.52L261.696,52.02L262.684,52.02L262.686,102.52L262.664,152.27L262.659,152.52L262.597,154.02L262.445,154.27L262.299,156.02L262.357,187.02L262.559,211.02L262.511,229.27L262.522,233.02L262.54,236.27L262.577,240.52L262.629,245.27L262.704,251.27L262.799,255.52L262.864,258.77L262.904,261.77L262.927,264.52L262.99,276.77L263.037,294.52L263.079,325.52L263.071,326.77L263.165,331.77L263.245,342.52L263.286,352.52L263.327,359.52L263.368,363.77L263.408,365.34L263.408,365.79Z
M262.157,154.26L262.036,154.27L261.888,156.02L261.909,187.02L262.074,211.02L261.989,230.77L261.996,234.77L262.021,239.27L262.06,244.27L262.124,251.02L262.128,251.02L262.199,244.27L262.241,239.52L262.271,235.02L262.283,231.52L262.164,187.02L262.159,156.02L262.278,154.27Z
M262.142,326.76L262.141,326.77L262.194,331.77L262.162,342.52L262.178,349.52L262.166,356.77L262.133,360.27L262.116,362.77L262.115,363.77L262.133,365.34L262.746,365.34L262.685,363.77L262.602,360.52L262.515,356.77L262.429,349.52L262.391,342.52L262.294,331.77L262.144,326.77Z
M263.417,365.79L263.417,365.34L263.36,363.77L263.304,359.52L263.25,352.52L263.197,342.52L263.203,331.77L263.207,326.77L263.193,325.52L263.188,294.77L263.235,276.77L263.302,264.52L263.326,261.77L263.382,258.02L263.536,251.02L263.662,241.02L263.704,236.77L263.727,233.52L263.746,228.77L263.802,211.02L263.579,187.02L263.621,156.02L263.725,154.27L263.602,154.02L263.543,152.52L263.538,152.27L263.566,102.52L263.563,52.02L264.551,52.02L264.554,102.52L264.526,152.27L264.521,152.52L264.459,154.02L264.301,154.27L264.172,156.02L264.221,187.02L264.488,211.02L264.491,229.27L264.502,233.02L264.522,236.27L264.559,240.52L264.612,245.27L264.688,251.27L264.784,255.52L264.849,258.77L264.89,261.77L264.913,264.52L264.978,276.77L265.028,294.52L265.071,325.52L265.063,326.77L265.045,331.77L265.134,342.52L265.186,352.52L265.241,359.52L265.296,363.77L265.353,365.34L265.353,365.79Z
M264.014,154.26L263.893,154.27L263.761,156.02L263.773,187.02L264.003,211.02L263.97,230.77L263.977,234.77L264.002,239.27L264.043,244.27L264.108,251.02L264.112,251.02L264.182,244.27L264.223,239.52L264.252,235.02L264.263,231.52L264.028,187.02L264.033,156.02L264.134,154.27Z
M264.135,326.76L264.133,326.77L264.074,331.77L264.051,342.52L264.075,349.52L264.073,356.77L264.049,360.27L264.04,362.77L264.043,363.77L264.078,365.34L264.692,365.34L264.613,363.77L264.519,360.52L264.423,356.77L264.326,349.52L264.28,342.52L264.174,331.77L264.136,326.77Z
M265.339,365.79L265.339,365.34L265.264,363.77L265.192,359.52L265.124,352.52L265.059,342.52L265.055,331.77L265.186,326.77L265.172,325.52L265.165,294.77L265.208,276.77L265.273,264.52L265.296,261.77L265.352,258.02L265.504,251.02L265.628,241.02L265.669,236.77L265.691,233.52L265.709,228.77L265.707,211.02L265.471,187.02L265.522,156.02L265.581,154.27L265.454,154.02L265.394,152.52L265.39,152.27L265.416,102.52L265.413,52.02L266.401,52.02L266.403,102.52L266.377,152.27L266.372,152.52L266.31,154.02L266.157,154.27L266.072,156.02L266.113,187.02L266.393,211.02L266.454,229.27L266.466,233.02L266.486,236.27L266.525,240.52L266.579,245.27L266.656,251.27L266.753,255.52L266.819,258.77L266.86,261.77L266.884,264.52L266.952,276.77L267.005,294.52L267.051,325.52L267.042,326.77L266.898,331.77L266.995,342.52L267.06,352.52L267.129,359.52L267.2,363.77L267.276,365.34L267.276,365.79Z
M265.87,154.26L265.749,154.27L265.661,156.02L265.664,187.02L265.908,211.02L265.933,230.77L265.942,234.77L265.968,239.27L266.009,244.27L266.076,251.02L266.08,251.02L266.148,244.27L266.189,239.52L266.217,235.02L266.227,231.52L265.919,187.02L265.933,156.02L265.99,154.27Z
M266.114,326.76L266.113,326.77L265.926,331.77L265.913,342.52L265.944,349.52L265.955,356.77L265.939,360.27L265.939,362.77L265.947,363.77L266.001,365.34L266.614,365.34L266.517,363.77L266.409,360.52L266.304,356.77L266.196,349.52L266.141,342.52L266.026,331.77L266.115,326.77Z
M267.237,365.79L267.237,365.34L267.141,363.77L267.052,359.52L266.973,352.52L266.911,342.52L266.916,331.77L267.148,326.77L267.135,325.52L267.124,294.77L267.163,276.77L267.225,264.52L267.248,261.77L267.303,258.02L267.453,251.02L267.574,241.02L267.614,236.77L267.636,233.52L267.652,228.77L267.585,211.02L267.388,187.02L267.447,156.02L267.465,154.27L267.333,154.02L267.273,152.52L267.268,152.27L267.289,102.52L267.287,52.02L268.275,52.02L268.277,102.52L268.256,152.27L268.251,152.52L268.189,154.02L268.041,154.27L267.997,156.02L268.03,187.02L268.271,211.02L268.397,229.27L268.411,233.02L268.431,236.27L268.471,240.52L268.526,245.27L268.605,251.27L268.703,255.52L268.769,258.77L268.812,261.77L268.836,264.52L268.907,276.77L268.964,294.52L269.013,325.52L269.004,326.77L268.758,331.77L268.847,342.52L268.909,352.52L268.989,359.52L269.078,363.77L269.174,365.34L269.174,365.79Z
M267.754,154.26L267.633,154.27L267.586,156.02L267.581,187.02L267.787,211.02L267.877,230.77L267.886,234.77L267.914,239.27L267.956,244.27L268.025,251.02L268.029,251.02L268.095,244.27L268.135,239.52L268.162,235.02L268.171,231.52L267.836,187.02L267.858,156.02L267.874,154.27Z
M268.076,326.76L268.075,326.77L267.787,331.77L267.765,342.52L267.793,349.52L267.808,356.77L267.801,360.27L267.811,362.77L267.824,363.77L267.899,365.34L268.512,365.34L268.395,363.77L268.272,360.52L268.158,356.77L268.045,349.52L267.994,342.52L267.887,331.77L268.077,326.77Z
M269.108,365.79L269.108,365.34L268.992,363.77L268.905,359.52L268.84,352.52L268.79,342.52L268.804,331.77L269.09,326.77L269.077,325.52L269.063,294.77L269.098,276.77L269.156,264.52L269.178,261.77L269.231,258.02L269.38,251.02L269.498,241.02L269.537,236.77L269.558,233.52L269.572,228.77L269.436,211.02L269.328,187.02L269.394,156.02L269.376,154.27L269.239,154.02L269.178,152.52L269.174,152.27L269.19,102.52L269.188,52.02L270.176,52.02L270.177,102.52L270.161,152.27L270.156,152.52L270.095,154.02L269.952,154.27L269.944,156.02L269.97,187.02L270.123,211.02L270.318,229.27L270.332,233.02L270.354,236.27L270.395,240.52L270.451,245.27L270.532,251.27L270.631,255.52L270.699,258.77L270.742,261.77L270.767,264.52L270.841,276.77L270.903,294.52L270.956,325.52L270.946,326.77L270.647,331.77L270.727,342.52L270.777,352.52L270.842,359.52L270.928,363.77L271.045,365.34L271.045,365.79Z
M269.664,154.26L269.543,154.27L269.533,156.02L269.521,187.02L269.638,211.02L269.798,230.77L269.809,234.77L269.837,239.27L269.881,244.27L269.952,251.02L269.956,251.02L270.02,244.27L270.058,239.52L270.084,235.02L270.092,231.52L269.776,187.02L269.805,156.02L269.784,154.27Z
M270.018,326.76L270.017,326.77L269.675,331.77L269.644,342.52L269.665,349.52L269.668,356.77L269.653,360.27L269.66,362.77L269.675,363.77L269.77,365.34L270.383,365.34L270.245,363.77L270.123,360.52L270.017,356.77L269.916,349.52L269.873,342.52L269.776,331.77L270.019,326.77Z
M270.957,365.79L270.957,365.34L270.855,363.77L270.786,359.52L270.735,352.52L270.697,342.52L270.718,331.77L271.009,326.77L270.997,325.52L270.979,294.77L271.008,276.77L271.062,264.52L271.084,261.77L271.136,258.02L271.282,251.02L271.397,241.02L271.435,236.77L271.454,233.52L271.467,228.77L271.299,211.02L271.288,187.02L271.36,156.02L271.31,154.27L271.168,154.02L271.108,152.52L271.103,152.27L271.115,102.52L271.113,52.02L272.101,52.02L272.102,102.52L272.091,152.27L272.086,152.52L272.025,154.02L271.885,154.27L271.911,156.02L271.93,187.02L271.985,211.02L272.213,229.27L272.229,233.02L272.252,236.27L272.294,240.52L272.352,245.27L272.435,251.27L272.535,255.52L272.604,258.77L272.647,261.77L272.674,264.52L272.751,276.77L272.818,294.52L272.875,325.52L272.865,326.77L272.561,331.77L272.633,342.52L272.671,352.52L272.723,359.52L272.792,363.77L272.894,365.34L272.894,365.79Z
M271.597,154.26L271.477,154.27L271.5,156.02L271.482,187.02L271.5,211.02L271.694,230.77L271.706,234.77L271.736,239.27L271.782,244.27L271.855,251.02L271.858,251.02L271.921,244.27L271.957,239.52L271.981,235.02L271.988,231.52L271.737,187.02L271.772,156.02L271.718,154.27Z
M271.937,326.76L271.936,326.77L271.59,331.77L271.55,342.52L271.563,349.52L271.555,356.77L271.531,360.27L271.529,362.77L271.538,363.77L271.619,365.34L272.232,365.34L272.109,363.77L272.001,360.52L271.904,356.77L271.815,349.52L271.779,342.52L271.69,331.77L271.939,326.77Z
M272.827,365.79L272.827,365.34L272.747,363.77L272.693,359.52L272.655,352.52L272.627,342.52L272.656,331.77L272.903,326.77L272.891,325.52L272.868,294.77L272.892,276.77L272.943,264.52L272.963,261.77L273.014,258.02L273.158,251.02L273.27,241.02L273.305,236.77L273.324,233.52L273.335,228.77L273.189,211.02L273.266,187.02L273.343,156.02L273.265,154.27L273.12,154.02L273.059,152.52L273.054,152.27L273.062,102.52L273.061,52.02L274.049,52.02L274.05,102.52L274.042,152.27L274.037,152.52L273.976,154.02L273.841,154.27L273.894,156.02L273.908,187.02L273.876,211.02L274.081,229.27L274.098,233.02L274.122,236.27L274.166,240.52L274.226,245.27L274.311,251.27L274.412,255.52L274.482,258.77L274.527,261.77L274.554,264.52L274.636,276.77L274.708,294.52L274.77,325.52L274.759,326.77L274.499,331.77L274.563,342.52L274.591,352.52L274.63,359.52L274.683,363.77L274.764,365.34L274.764,365.79Z
M273.552,154.26L273.432,154.27L273.483,156.02L273.46,187.02L273.391,211.02L273.562,230.77L273.576,234.77L273.608,239.27L273.655,244.27L273.73,251.02L273.734,251.02L273.794,244.27L273.829,239.52L273.851,235.02L273.857,231.52L273.714,187.02L273.754,156.02L273.673,154.27Z
M273.831,326.76L273.83,326.77L273.527,331.77L273.481,342.52L273.487,349.52L273.468,356.77L273.436,360.27L273.426,362.77L273.43,363.77L273.489,365.34L274.102,365.34L274,363.77L273.906,360.52L273.818,356.77L273.739,349.52L273.71,342.52L273.627,331.77L273.833,326.77Z
M274.725,365.79L274.725,365.34L274.664,363.77L274.624,359.52L274.597,352.52L274.579,342.52L274.614,331.77L274.77,326.77L274.759,325.52L274.731,294.77L274.749,276.77L274.795,264.52L274.815,261.77L274.865,258.02L275.008,251.02L275.119,241.02L275.154,236.77L275.173,233.52L275.185,228.77L275.105,211.02L275.257,187.02L275.338,156.02L275.238,154.27L275.09,154.02L275.029,152.52L275.024,152.27L275.029,102.52L275.028,52.02L276.016,52.02L276.016,102.52L276.012,152.27L276.007,152.52L275.946,154.02L275.814,154.27L275.889,156.02L275.899,187.02L275.791,211.02L275.931,229.27L275.947,233.02L275.971,236.27L276.015,240.52L276.075,245.27L276.161,251.27L276.263,255.52L276.333,258.77L276.379,261.77L276.407,264.52L276.492,276.77L276.57,294.52L276.637,325.52L276.626,326.77L276.457,331.77L276.515,342.52L276.534,352.52L276.561,359.52L276.6,363.77L276.662,365.34L276.662,365.79Z
M275.525,154.26L275.405,154.27L275.477,156.02L275.451,187.02L275.307,211.02L275.412,230.77L275.425,234.77L275.457,239.27L275.504,244.27L275.58,251.02L275.584,251.02L275.643,244.27L275.678,239.52L275.7,235.02L275.706,231.52L275.706,187.02L275.749,156.02L275.647,154.27Z
M275.698,326.76L275.696,326.77L275.485,331.77L275.432,342.52L275.433,349.52L275.405,356.77L275.366,360.27L275.347,362.77L275.347,363.77L275.387,365.34L276,365.34L275.917,363.77L275.834,360.52L275.754,356.77L275.684,349.52L275.661,342.52L275.586,331.77L275.699,326.77Z
M276.647,365.79L276.647,365.34L276.603,363.77L276.577,359.52L276.56,352.52L276.549,342.52L276.59,331.77L276.619,326.77L276.608,325.52L276.582,294.77L276.605,276.77L276.656,264.52L276.677,261.77L276.728,258.02L276.873,251.02L276.988,241.02L277.025,236.77L277.045,233.52L277.058,228.77L277.044,211.02L277.256,187.02L277.337,156.02L277.226,154.27L277.075,154.02L277.015,152.52L277.01,152.27L277.011,102.52L277.011,52.02L277.999,52.02L277.999,102.52L277.997,152.27L277.993,152.52L277.932,154.02L277.802,154.27L277.887,156.02L277.898,187.02L277.731,211.02L277.804,229.27L277.819,233.02L277.842,236.27L277.884,240.52L277.943,245.27L278.026,251.27L278.127,255.52L278.196,258.77L278.24,261.77L278.267,264.52L278.348,276.77L278.421,294.52L278.486,325.52L278.476,326.77L278.433,331.77L278.486,342.52L278.497,352.52L278.514,359.52L278.54,363.77L278.584,365.34L278.584,365.79Z
M277.513,154.26L277.393,154.27L277.476,156.02L277.45,187.02L277.246,211.02L277.284,230.77L277.296,234.77L277.326,239.27L277.372,244.27L277.446,251.02L277.449,251.02L277.511,244.27L277.547,239.52L277.571,235.02L277.578,231.52L277.705,187.02L277.748,156.02L277.635,154.27Z
M277.547,326.76L277.546,326.77L277.461,331.77L277.403,342.52L277.398,349.52L277.362,356.77L277.317,360.27L277.291,362.77L277.286,363.77L277.309,365.34L277.922,365.34L277.857,363.77L277.785,360.52L277.712,356.77L277.65,349.52L277.632,342.52L277.561,331.77L277.549,326.77Z
M278.592,365.79L278.592,365.34L278.564,363.77L278.548,359.52L278.54,352.52L278.535,342.52L278.58,331.77L278.494,326.77L278.482,325.52L278.461,294.77L278.489,276.77L278.544,264.52L278.566,261.77L278.619,258.02L278.766,251.02L278.884,241.02L278.922,236.77L278.943,233.52L278.958,228.77L279.004,211.02L279.25,187.02L279.327,156.02L279.224,154.27L279.072,154.02L279.011,152.52L279.006,152.27L279.006,102.52L279.006,52.02L279.994,52.02L279.994,102.52L279.994,152.27L279.989,152.52L279.928,154.02L279.8,154.27L279.877,156.02L279.892,187.02L279.69,211.02L279.704,229.27L279.718,233.02L279.74,236.27L279.781,240.52L279.837,245.27L279.919,251.27L280.018,255.52L280.086,258.77L280.13,261.77L280.156,264.52L280.233,276.77L280.3,294.52L280.36,325.52L280.35,326.77L280.423,331.77L280.472,342.52L280.476,352.52L280.485,359.52L280.5,363.77L280.529,365.34L280.529,365.79Z
M279.511,154.26L279.391,154.27L279.466,156.02L279.444,187.02L279.205,211.02L279.184,230.77L279.194,234.77L279.223,239.27L279.267,244.27L279.339,251.02L279.342,251.02L279.406,244.27L279.444,239.52L279.469,235.02L279.478,231.52L279.698,187.02L279.738,156.02L279.632,154.27Z
M279.422,326.76L279.421,326.77L279.451,331.77L279.389,342.52L279.38,349.52L279.337,356.77L279.287,360.27L279.255,362.77L279.247,363.77L279.254,365.34L279.867,365.34L279.817,363.77L279.754,360.52L279.687,356.77L279.632,349.52L279.618,342.52L279.551,331.77L279.423,326.77Z
M280.557,365.79L280.557,365.34L280.541,363.77L280.535,359.52L280.532,352.52L280.532,342.52L280.579,331.77L280.395,326.77L280.383,325.52L280.366,294.77L280.4,276.77L280.458,264.52L280.481,261.77L280.535,258.02L280.684,251.02L280.805,241.02L280.845,236.77L280.867,233.52L280.883,228.77L280.981,211.02L281.231,187.02L281.303,156.02L281.22,154.27L281.069,154.02L281.009,152.52L281.004,152.27L281.005,102.52L281.005,52.02L281.992,52.02L281.993,102.52L281.992,152.27L281.987,152.52L281.926,154.02L281.796,154.27L281.854,156.02L281.873,187.02L281.667,211.02L281.628,229.27L281.641,233.02L281.662,236.27L281.702,240.52L281.757,245.27L281.837,251.27L281.935,255.52L282.002,258.77L282.045,261.77L282.07,264.52L282.143,276.77L282.206,294.52L282.261,325.52L282.251,326.77L282.421,331.77L282.468,342.52L282.469,352.52L282.471,359.52L282.478,363.77L282.494,365.34L282.494,365.79Z
M281.507,154.26L281.387,154.27L281.443,156.02L281.425,187.02L281.182,211.02L281.108,230.77L281.117,234.77L281.144,239.27L281.187,244.27L281.257,251.02L281.26,251.02L281.326,244.27L281.365,239.52L281.392,235.02L281.402,231.52L281.68,187.02L281.714,156.02L281.629,154.27Z
M281.323,326.76L281.322,326.77L281.45,331.77L281.386,342.52L281.374,349.52L281.327,356.77L281.272,360.27L281.235,362.77L281.224,363.77L281.219,365.34L281.832,365.34L281.795,363.77L281.739,360.52L281.676,356.77L281.626,349.52L281.614,342.52L281.55,331.77L281.325,326.77Z
M282.538,365.79L282.538,365.34L282.533,363.77L282.532,359.52L282.531,352.52L282.529,342.52L282.573,331.77L282.321,326.77L282.308,325.52L282.296,294.77L282.334,276.77L282.396,264.52L282.419,261.77L282.474,258.02L282.626,251.02L282.749,241.02L282.79,236.77L282.812,233.52L282.83,228.77L282.972,211.02L283.196,187.02L283.262,156.02L283.205,154.27L283.057,154.02L282.997,152.52L282.992,152.27L282.995,102.52L282.995,52.02L283.982,52.02L283.983,102.52L283.979,152.27L283.975,152.52L283.914,154.02L283.781,154.27L283.812,156.02L283.838,187.02L283.658,211.02L283.575,229.27L283.587,233.02L283.607,236.27L283.646,240.52L283.7,245.27L283.778,251.27L283.875,255.52L283.941,258.77L283.983,261.77L284.007,264.52L284.077,276.77L284.135,294.52L284.187,325.52L284.177,326.77L284.416,331.77L284.466,342.52L284.468,352.52L284.468,359.52L284.469,363.77L284.475,365.34L284.475,365.79Z
M283.493,154.26L283.373,154.27L283.401,156.02L283.39,187.02L283.173,211.02L283.054,230.77L283.063,234.77L283.089,239.27L283.13,244.27L283.198,251.02L283.202,251.02L283.269,244.27L283.31,239.52L283.338,235.02L283.348,231.52L283.645,187.02L283.673,156.02L283.614,154.27Z
M283.249,326.76L283.248,326.77L283.445,331.77L283.383,342.52L283.373,349.52L283.325,356.77L283.269,360.27L283.229,362.77L283.216,363.77L283.2,365.34L283.813,365.34L283.786,363.77L283.735,360.52L283.675,356.77L283.625,349.52L283.612,342.52L283.545,331.77L283.251,326.77Z
M284.532,365.79L284.532,365.34L284.531,363.77L284.529,359.52L284.524,352.52L284.517,342.52L284.557,331.77L284.269,326.77L284.256,325.52L284.247,294.77L284.289,276.77L284.354,264.52L284.378,261.77L284.434,258.02L284.587,251.02L284.712,241.02L284.754,236.77L284.778,233.52L284.796,228.77L284.971,211.02L285.141,187.02L285.2,156.02L285.175,154.27L285.03,154.02L284.97,152.52L284.965,152.27L284.971,102.52L284.971,52.02L285.958,52.02L285.959,102.52L285.953,152.27L285.948,152.52L285.887,154.02L285.751,154.27L285.75,156.02L285.784,187.02L285.657,211.02L285.541,229.27L285.553,233.02L285.572,236.27L285.61,240.52L285.663,245.27L285.739,251.27L285.835,255.52L285.9,258.77L285.942,261.77L285.966,264.52L286.033,276.77L286.086,294.52L286.134,325.52L286.125,326.77L286.399,331.77L286.453,342.52L286.46,352.52L286.466,359.52L286.468,363.77L286.469,365.34L286.469,365.79Z
M285.463,154.26L285.342,154.27L285.339,156.02L285.335,187.02L285.172,211.02L285.02,230.77L285.028,234.77L285.053,239.27L285.093,244.27L285.159,251.02L285.163,251.02L285.232,244.27L285.274,239.52L285.303,235.02L285.314,231.52L285.59,187.02L285.611,156.02L285.584,154.27Z
M285.197,326.76L285.196,326.77L285.428,331.77L285.371,342.52L285.364,349.52L285.321,356.77L285.266,360.27L285.228,362.77L285.214,363.77L285.194,365.34L285.807,365.34L285.785,363.77L285.733,360.52L285.67,356.77L285.616,349.52L285.599,342.52L285.528,331.77L285.199,326.77Z
M286.531,365.79L286.531,365.34L286.525,363.77L286.516,359.52L286.503,352.52L286.489,342.52L286.524,331.77L286.236,326.77L286.223,325.52L286.217,294.77L286.263,276.77L286.33,264.52L286.355,261.77L286.411,258.02L286.565,251.02L286.693,241.02L286.735,236.77L286.759,233.52L286.779,228.77L286.965,211.02L287.064,187.02L287.114,156.02L287.126,154.27L286.985,154.02L286.925,152.52L286.92,152.27L286.93,102.52L286.929,52.02L287.916,52.02L287.917,102.52L287.907,152.27L287.903,152.52L287.841,154.02L287.702,154.27L287.665,156.02L287.706,187.02L287.651,211.02L287.524,229.27L287.535,233.02L287.553,236.27L287.59,240.52L287.642,245.27L287.718,251.27L287.813,255.52L287.877,258.77L287.918,261.77L287.941,264.52L288.006,276.77L288.057,294.52L288.101,325.52L288.093,326.77L288.366,331.77L288.426,342.52L288.44,352.52L288.452,359.52L288.462,363.77L288.467,365.34L288.467,365.79Z
M287.414,154.26L287.293,154.27L287.254,156.02L287.258,187.02L287.166,211.02L287.002,230.77L287.009,234.77L287.034,239.27L287.073,244.27L287.138,251.02L287.141,251.02L287.212,244.27L287.254,239.52L287.284,235.02L287.296,231.52L287.513,187.02L287.526,156.02L287.535,154.27Z
M287.165,326.76L287.163,326.77L287.395,331.77L287.343,342.52L287.341,349.52L287.304,356.77L287.254,360.27L287.219,362.77L287.208,363.77L287.193,365.34L287.806,365.34L287.779,363.77L287.722,360.52L287.654,356.77L287.593,349.52L287.572,342.52L287.495,331.77L287.166,326.77Z
M288.522,365.79L288.522,365.34L288.507,363.77L288.488,359.52L288.466,352.52L288.443,342.52L288.471,331.77L288.22,326.77L288.206,325.52L288.202,294.77L288.251,276.77L288.32,264.52L288.345,261.77L288.402,258.02L288.557,251.02L288.686,241.02L288.729,236.77L288.754,233.52L288.774,228.77L288.947,211.02L288.962,187.02L289.003,156.02L289.055,154.27L288.918,154.02L288.858,152.52L288.853,152.27L288.868,102.52L288.866,52.02L289.854,52.02L289.855,102.52L289.841,152.27L289.836,152.52L289.775,154.02L289.631,154.27L289.554,156.02L289.604,187.02L289.633,211.02L289.519,229.27L289.529,233.02L289.547,236.27L289.583,240.52L289.635,245.27L289.709,251.27L289.804,255.52L289.868,258.77L289.908,261.77L289.931,264.52L289.994,276.77L290.042,294.52L290.084,325.52L290.076,326.77L290.314,331.77L290.38,342.52L290.403,352.52L290.424,359.52L290.443,363.77L290.459,365.34L290.459,365.79Z
M289.343,154.26L289.223,154.27L289.143,156.02L289.156,187.02L289.148,211.02L288.997,230.77L289.003,234.77L289.027,239.27L289.066,244.27L289.13,251.02L289.133,251.02L289.205,244.27L289.248,239.52L289.278,235.02L289.29,231.52L289.411,187.02L289.415,156.02L289.464,154.27Z
M289.148,326.76L289.147,326.77L289.342,331.77L289.297,342.52L289.301,349.52L289.272,356.77L289.227,360.27L289.198,362.77L289.19,363.77L289.184,365.34L289.797,365.34L289.76,363.77L289.695,360.52L289.621,356.77L289.553,349.52L289.526,342.52L289.443,331.77L289.149,326.77Z
M290.5,365.79L290.5,365.34L290.472,363.77L290.441,359.52L290.409,352.52L290.376,342.52L290.397,331.77L290.215,326.77L290.201,325.52L290.199,294.77L290.249,276.77L290.318,264.52L290.344,261.77L290.401,258.02L290.556,251.02L290.685,241.02L290.728,236.77L290.752,233.52L290.772,228.77L290.913,211.02L290.833,187.02L290.865,156.02L290.96,154.27L290.828,154.02L290.768,152.52L290.763,152.27L290.782,102.52L290.78,52.02L291.768,52.02L291.77,102.52L291.751,152.27L291.746,152.52L291.684,154.02L291.536,154.27L291.415,156.02L291.475,187.02L291.599,211.02L291.517,229.27L291.528,233.02L291.546,236.27L291.582,240.52L291.634,245.27L291.708,251.27L291.803,255.52L291.867,258.77L291.907,261.77L291.93,264.52L291.992,276.77L292.038,294.52L292.079,325.52L292.071,326.77L292.239,331.77L292.313,342.52L292.345,352.52L292.378,359.52L292.408,363.77L292.437,365.34L292.437,365.79Z
M291.249,154.26L291.128,154.27L291.004,156.02L291.027,187.02L291.114,211.02L290.996,230.77L291.002,234.77L291.026,239.27L291.065,244.27L291.129,251.02L291.132,251.02L291.204,244.27L291.247,239.52L291.277,235.02L291.289,231.52L291.281,187.02L291.276,156.02L291.369,154.27Z
M291.143,326.76L291.142,326.77L291.268,331.77L291.23,342.52L291.24,349.52L291.22,356.77L291.182,360.27L291.16,362.77L291.155,363.77L291.162,365.34L291.775,365.34L291.725,363.77L291.651,360.52L291.57,356.77L291.492,349.52L291.459,342.52L291.368,331.77L291.144,326.77Z
M292.461,365.79L292.461,365.34L292.417,363.77L292.373,359.52L292.329,352.52L292.286,342.52L292.297,331.77L292.213,326.77L292.199,325.52L292.197,294.77L292.245,276.77L292.313,264.52L292.338,261.77L292.395,258.02L292.55,251.02L292.677,241.02L292.72,236.77L292.743,233.52L292.763,228.77L292.859,211.02L292.682,187.02L292.717,156.02L292.839,154.27L292.712,154.02L292.652,152.52L292.647,152.27L292.671,102.52L292.669,52.02L293.656,52.02L293.659,102.52L293.635,152.27L293.63,152.52L293.568,154.02L293.415,154.27L293.267,156.02L293.324,187.02L293.545,211.02L293.508,229.27L293.519,233.02L293.537,236.27L293.574,240.52L293.626,245.27L293.702,251.27L293.797,255.52L293.861,258.77L293.902,261.77L293.925,264.52L293.988,276.77L294.036,294.52L294.078,325.52L294.07,326.77L294.14,331.77L294.222,342.52L294.265,352.52L294.31,359.52L294.354,363.77L294.398,365.34L294.398,365.79Z
M293.127,154.26L293.006,154.27L292.856,156.02L292.876,187.02L293.06,211.02L292.986,230.77L292.993,234.77L293.018,239.27L293.057,244.27L293.122,251.02L293.126,251.02L293.196,244.27L293.238,239.52L293.268,235.02L293.28,231.52L293.13,187.02L293.128,156.02L293.247,154.27Z
M293.142,326.76L293.14,326.77L293.169,331.77L293.139,342.52L293.157,349.52L293.147,356.77L293.116,360.27L293.101,362.77L293.1,363.77L293.123,365.34L293.736,365.34L293.671,363.77L293.585,360.52L293.496,356.77L293.408,349.52L293.368,342.52L293.269,331.77L293.143,326.77Z
M294.401,365.79L294.401,365.34L294.34,363.77L294.281,359.52L294.223,352.52L294.168,342.52L294.171,331.77L294.203,326.77L294.189,325.52L294.184,294.77L294.23,276.77L294.297,264.52L294.321,261.77L294.377,258.02L294.53,251.02L294.656,241.02L294.698,236.77L294.721,233.52L294.739,228.77L294.783,211.02L294.552,187.02L294.596,156.02L294.69,154.27L294.567,154.02L294.508,152.52L294.503,152.27L294.532,102.52L294.529,52.02L295.517,52.02L295.52,102.52L295.491,152.27L295.485,152.52L295.423,154.02L295.266,154.27L295.147,156.02L295.194,187.02L295.469,211.02L295.484,229.27L295.496,233.02L295.515,236.27L295.553,240.52L295.606,245.27L295.683,251.27L295.778,255.52L295.843,258.77L295.884,261.77L295.908,264.52L295.974,276.77L296.024,294.52L296.068,325.52L296.059,326.77L296.014,331.77L296.105,342.52L296.16,352.52L296.218,359.52L296.277,363.77L296.338,365.34L296.338,365.79Z
M294.979,154.26L294.857,154.27L294.736,156.02L294.746,187.02L294.984,211.02L294.963,230.77L294.971,234.77L294.996,239.27L295.037,244.27L295.103,251.02L295.106,251.02L295.176,244.27L295.217,239.52L295.246,235.02L295.257,231.52L295.001,187.02L295.008,156.02L295.099,154.27Z
M295.131,326.76L295.13,326.77L295.043,331.77L295.022,342.52L295.047,349.52L295.049,356.77L295.026,360.27L295.019,362.77L295.023,363.77L295.063,365.34L295.676,365.34L295.594,363.77L295.496,360.52L295.398,356.77L295.299,349.52L295.251,342.52L295.143,331.77L295.133,326.77Z
M296.319,365.79L296.319,365.34L296.238,363.77L296.163,359.52L296.091,352.52L296.023,342.52L296.021,331.77L296.179,326.77L296.165,325.52L296.158,294.77L296.2,276.77L296.264,264.52L296.287,261.77L296.342,258.02L296.494,251.02L296.618,241.02L296.658,236.77L296.681,233.52L296.698,228.77L296.682,211.02L296.45,187.02L296.503,156.02L296.553,154.27L296.424,154.02L296.364,152.52L296.36,152.27L296.384,102.52L296.382,52.02L297.369,52.02L297.372,102.52L297.347,152.27L297.342,152.52L297.28,154.02L297.129,154.27L297.053,156.02L297.092,187.02L297.368,211.02L297.443,229.27L297.456,233.02L297.476,236.27L297.515,240.52L297.569,245.27L297.647,251.27L297.743,255.52L297.809,258.77L297.851,261.77L297.875,264.52L297.943,276.77L297.997,294.52L298.044,325.52L298.035,326.77L297.864,331.77L297.96,342.52L298.028,352.52L298.1,359.52L298.175,363.77L298.255,365.34L298.255,365.79Z
M296.841,154.26L296.72,154.27L296.642,156.02L296.643,187.02L296.883,211.02L296.922,230.77L296.931,234.77L296.957,239.27L296.999,244.27L297.067,251.02L297.07,251.02L297.138,244.27L297.178,239.52L297.206,235.02L297.216,231.52L296.898,187.02L296.914,156.02L296.961,154.27Z
M297.107,326.76L297.106,326.77L296.892,331.77L296.877,342.52L296.91,349.52L296.924,356.77L296.91,360.27L296.912,362.77L296.921,363.77L296.98,365.34L297.593,365.34L297.492,363.77L297.381,360.52L297.273,356.77L297.162,349.52L297.106,342.52L296.992,331.77L297.108,326.77Z
M298.21,365.79L298.21,365.34L298.109,363.77L298.017,359.52L297.94,352.52L297.881,342.52L297.888,331.77L298.137,326.77L298.124,325.52L298.112,294.77L298.15,276.77L298.211,264.52L298.234,261.77L298.288,258.02L298.438,251.02L298.559,241.02L298.599,236.77L298.62,233.52L298.636,228.77L298.554,211.02L298.372,187.02L298.433,156.02L298.443,154.27L298.309,154.02L298.249,152.52L298.245,152.27L298.264,102.52L298.262,52.02L299.25,52.02L299.252,102.52L299.232,152.27L299.227,152.52L299.166,154.02L299.019,154.27L298.983,156.02L299.014,187.02L299.24,211.02L299.381,229.27L299.395,233.02L299.416,236.27L299.456,240.52L299.511,245.27L299.591,251.27L299.689,255.52L299.755,258.77L299.798,261.77L299.823,264.52L299.894,276.77L299.952,294.52L300.002,325.52L299.993,326.77L299.731,331.77L299.818,342.52L299.877,352.52L299.953,359.52L300.046,363.77L300.147,365.34L300.147,365.79Z
M298.731,154.26L298.61,154.27L298.572,156.02L298.566,187.02L298.755,211.02L298.861,230.77L298.871,234.77L298.898,239.27L298.941,244.27L299.011,251.02L299.014,251.02L299.08,244.27L299.119,239.52L299.146,235.02L299.155,231.52L298.821,187.02L298.844,156.02L298.852,154.27Z
M299.065,326.76L299.063,326.77L298.759,331.77L298.735,342.52L298.761,349.52L298.774,356.77L298.766,360.27L298.778,362.77L298.792,363.77L298.872,365.34L299.485,365.34L299.363,363.77L299.237,360.52L299.123,356.77L299.013,349.52L298.964,342.52L298.859,331.77L299.066,326.77Z
M300.075,365.79L300.075,365.34L299.958,363.77L299.876,359.52L299.814,352.52L299.767,342.52L299.782,331.77L300.074,326.77L300.061,325.52L300.046,294.77L300.079,276.77L300.137,264.52L300.159,261.77L300.212,258.02L300.36,251.02L300.478,241.02L300.516,236.77L300.536,233.52L300.551,228.77L300.403,211.02L300.317,187.02L300.385,156.02L300.359,154.27L300.221,154.02L300.16,152.52L300.156,152.27L300.171,102.52L300.169,52.02L301.157,52.02L301.158,102.52L301.143,152.27L301.138,152.52L301.077,154.02L300.935,154.27L300.935,156.02L300.959,187.02L301.089,211.02L301.296,229.27L301.311,233.02L301.333,236.27L301.374,240.52L301.431,245.27L301.512,251.27L301.612,255.52L301.679,258.77L301.722,261.77L301.748,264.52L301.823,276.77L301.885,294.52L301.939,325.52L301.93,326.77L301.625,331.77L301.704,342.52L301.751,352.52L301.812,359.52L301.895,363.77L302.011,365.34L302.011,365.79Z
M300.647,154.26L300.526,154.27L300.524,156.02L300.511,187.02L300.604,211.02L300.777,230.77L300.788,234.77L300.816,239.27L300.861,244.27L300.932,251.02L300.936,251.02L301,244.27L301.038,239.52L301.063,235.02L301.071,231.52L300.766,187.02L300.796,156.02L300.767,154.27Z
M301.002,326.76L301.001,326.77L300.654,331.77L300.621,342.52L300.639,349.52L300.64,356.77L300.623,360.27L300.628,362.77L300.641,363.77L300.736,365.34L301.35,365.34L301.212,363.77L301.093,360.52L300.989,356.77L300.891,349.52L300.85,342.52L300.754,331.77L301.003,326.77Z
M301.925,365.79L301.925,365.34L301.828,363.77L301.763,359.52L301.715,352.52L301.679,342.52L301.702,331.77L301.987,326.77L301.975,325.52L301.956,294.77L301.984,276.77L302.038,264.52L302.059,261.77L302.111,258.02L302.257,251.02L302.371,241.02L302.408,236.77L302.427,233.52L302.44,228.77L302.272,211.02L302.282,187.02L302.355,156.02L302.298,154.27L302.155,154.02L302.095,152.52L302.09,152.27L302.101,102.52L302.1,52.02L303.087,52.02L303.089,102.52L303.078,152.27L303.073,152.52L303.012,154.02L302.873,154.27L302.906,156.02L302.924,187.02L302.958,211.02L303.186,229.27L303.202,233.02L303.225,236.27L303.268,240.52L303.326,245.27L303.409,251.27L303.51,255.52L303.578,258.77L303.622,261.77L303.649,264.52L303.727,276.77L303.795,294.52L303.854,325.52L303.844,326.77L303.545,331.77L303.615,342.52L303.651,352.52L303.699,359.52L303.765,363.77L303.862,365.34L303.862,365.79Z
M302.585,154.26L302.465,154.27L302.495,156.02L302.475,187.02L302.473,211.02L302.666,230.77L302.679,234.77L302.709,239.27L302.755,244.27L302.829,251.02L302.833,251.02L302.894,244.27L302.93,239.52L302.954,235.02L302.961,231.52L302.73,187.02L302.766,156.02L302.706,154.27Z
M302.916,326.76L302.914,326.77L302.573,331.77L302.533,342.52L302.544,349.52L302.533,356.77L302.508,360.27L302.503,362.77L302.511,363.77L302.587,365.34L303.2,365.34L303.082,363.77L302.977,360.52L302.882,356.77L302.796,349.52L302.761,342.52L302.674,331.77L302.917,326.77Z
M303.802,365.79L303.802,365.34L303.726,363.77L303.675,359.52L303.64,352.52L303.614,342.52L303.645,331.77L303.875,326.77L303.864,325.52L303.84,294.77L303.862,276.77L303.912,264.52L303.932,261.77L303.983,258.02L304.126,251.02L304.237,241.02L304.272,236.77L304.29,233.52L304.301,228.77L304.168,211.02L304.263,187.02L304.341,156.02L304.257,154.27L304.111,154.02L304.051,152.52L304.046,152.27L304.053,102.52L304.052,52.02L305.04,52.02L305.04,102.52L305.034,152.27L305.029,152.52L304.968,154.02L304.833,154.27L304.892,156.02L304.905,187.02L304.854,211.02L305.047,229.27L305.065,233.02L305.089,236.27L305.133,240.52L305.193,245.27L305.279,251.27L305.381,255.52L305.45,258.77L305.496,261.77L305.523,264.52L305.606,276.77L305.679,294.52L305.742,325.52L305.732,326.77L305.487,331.77L305.551,342.52L305.576,352.52L305.612,359.52L305.662,363.77L305.738,365.34L305.738,365.79Z
M304.545,154.26L304.424,154.27L304.481,156.02L304.457,187.02L304.37,211.02L304.529,230.77L304.542,234.77L304.574,239.27L304.622,244.27L304.698,251.02L304.702,251.02L304.761,244.27L304.796,239.52L304.818,235.02L304.823,231.52L304.711,187.02L304.752,156.02L304.666,154.27Z
M304.803,326.76L304.802,326.77L304.516,331.77L304.468,342.52L304.473,349.52L304.452,356.77L304.418,360.27L304.406,362.77L304.409,363.77L304.464,365.34L305.077,365.34L304.979,363.77L304.887,360.52L304.801,356.77L304.724,349.52L304.697,342.52L304.616,331.77L304.805,326.77Z
M305.705,365.79L305.705,365.34L305.648,363.77L305.612,359.52L305.587,352.52L305.57,342.52L305.607,331.77L305.735,326.77L305.724,325.52L305.695,294.77L305.713,276.77L305.761,264.52L305.781,261.77L305.832,258.02L305.975,251.02L306.087,241.02L306.123,236.77L306.141,233.52L306.153,228.77L306.089,211.02L306.257,187.02L306.338,156.02L306.234,154.27L306.085,154.02L306.025,152.52L306.02,152.27L306.023,102.52L306.023,52.02L307.011,52.02L307.011,102.52L307.007,152.27L307.003,152.52L306.942,154.02L306.81,154.27L306.888,156.02L306.899,187.02L306.776,211.02L306.899,229.27L306.916,233.02L306.939,236.27L306.983,240.52L307.043,245.27L307.128,251.27L307.229,255.52L307.299,258.77L307.345,261.77L307.373,264.52L307.457,276.77L307.535,294.52L307.603,325.52L307.592,326.77L307.45,331.77L307.507,342.52L307.524,352.52L307.548,359.52L307.585,363.77L307.642,365.34L307.642,365.79Z
M306.522,154.26L306.401,154.27L306.477,156.02L306.45,187.02L306.291,211.02L306.38,230.77L306.393,234.77L306.424,239.27L306.472,244.27L306.547,251.02L306.551,251.02L306.611,244.27L306.646,239.52L306.669,235.02L306.675,231.52L306.705,187.02L306.749,156.02L306.643,154.27Z
M306.663,326.76L306.662,326.77L306.478,331.77L306.424,342.52L306.423,349.52L306.393,356.77L306.353,360.27L306.332,362.77L306.331,363.77L306.367,365.34L306.98,365.34L306.902,363.77L306.821,360.52L306.743,356.77L306.675,349.52L306.653,342.52L306.579,331.77L306.665,326.77Z
M307.633,365.79L307.633,365.34L307.593,363.77L307.569,359.52L307.554,352.52L307.545,342.52L307.587,331.77L307.588,326.77L307.577,325.52L307.552,294.77L307.576,276.77L307.628,264.52L307.649,261.77L307.701,258.02L307.847,251.02L307.962,241.02L307.999,236.77L308.019,233.52L308.033,228.77L308.033,211.02L308.256,187.02L308.335,156.02L308.225,154.27L308.074,154.02L308.013,152.52L308.008,152.27L308.009,102.52L308.009,52.02L308.997,52.02L308.997,102.52L308.996,152.27L308.991,152.52L308.93,154.02L308.801,154.27L308.886,156.02L308.898,187.02L308.72,211.02L308.779,229.27L308.794,233.02L308.816,236.27L308.858,240.52L308.916,245.27L308.999,251.27L309.1,255.52L309.168,258.77L309.213,261.77L309.24,264.52L309.32,276.77L309.391,294.52L309.455,325.52L309.445,326.77L309.429,331.77L309.481,342.52L309.491,352.52L309.506,359.52L309.529,363.77L309.57,365.34L309.57,365.79Z
M308.512,154.26L308.392,154.27L308.475,156.02L308.449,187.02L308.235,211.02L308.259,230.77L308.271,234.77L308.3,239.27L308.346,244.27L308.419,251.02L308.423,251.02L308.485,244.27L308.521,239.52L308.546,235.02L308.553,231.52L308.704,187.02L308.746,156.02L308.633,154.27Z
M308.516,326.76L308.515,326.77L308.458,331.77L308.399,342.52L308.393,349.52L308.355,356.77L308.309,360.27L308.281,362.77L308.276,363.77L308.295,365.34L308.908,365.34L308.846,363.77L308.776,360.52L308.704,356.77L308.645,349.52L308.627,342.52L308.558,331.77L308.518,326.77Z
M309.583,365.79L309.583,365.34L309.557,363.77L309.544,359.52L309.537,352.52L309.534,342.52L309.579,331.77L309.469,326.77L309.457,325.52L309.437,294.77L309.467,276.77L309.523,264.52L309.545,261.77L309.598,258.02L309.746,251.02L309.864,241.02L309.903,236.77L309.924,233.52L309.939,228.77L309.997,211.02L310.247,187.02L310.323,156.02L310.224,154.27L310.072,154.02L310.011,152.52L310.006,152.27L310.006,102.52L310.006,52.02L310.994,52.02L310.994,102.52L310.994,152.27L310.989,152.52L310.928,154.02L310.799,154.27L310.873,156.02L310.889,187.02L310.683,211.02L310.684,229.27L310.698,233.02L310.72,236.27L310.761,240.52L310.817,245.27L310.898,251.27L310.997,255.52L311.065,258.77L311.108,261.77L311.134,264.52L311.21,276.77L311.277,294.52L311.336,325.52L311.325,326.77L311.422,331.77L311.47,342.52L311.474,352.52L311.481,359.52L311.494,363.77L311.519,365.34L311.519,365.79Z
M310.511,154.26L310.391,154.27L310.462,156.02L310.441,187.02L310.199,211.02L310.164,230.77L310.175,234.77L310.203,239.27L310.247,244.27L310.318,251.02L310.322,251.02L310.386,244.27L310.424,239.52L310.45,235.02L310.458,231.52L310.695,187.02L310.734,156.02L310.632,154.27Z
M310.397,326.76L310.396,326.77L310.45,331.77L310.387,342.52L310.378,349.52L310.334,356.77L310.282,360.27L310.249,362.77L310.24,363.77L310.244,365.34L310.858,365.34L310.811,363.77L310.75,360.52L310.683,356.77L310.63,349.52L310.616,342.52L310.551,331.77L310.399,326.77Z
M311.551,365.79L311.551,365.34L311.538,363.77L311.533,359.52L311.532,352.52L311.532,342.52L311.578,331.77L311.376,326.77L311.364,325.52L311.348,294.77L311.383,276.77L311.442,264.52L311.465,261.77L311.519,258.02L311.669,251.02L311.79,241.02L311.83,236.77L311.852,233.52L311.869,228.77L311.978,211.02L312.225,187.02L312.295,156.02L312.218,154.27L312.068,154.02L312.007,152.52L312.002,152.27L312.004,102.52L312.004,52.02L312.991,52.02L312.991,102.52L312.99,152.27L312.985,152.52L312.924,154.02L312.794,154.27L312.846,156.02L312.867,187.02L312.664,211.02L312.614,229.27L312.627,233.02L312.648,236.27L312.687,240.52L312.742,245.27L312.822,251.27L312.919,255.52L312.986,258.77L313.029,261.77L313.054,264.52L313.126,276.77L313.188,294.52L313.242,325.52L313.233,326.77L313.421,331.77L313.468,342.52L313.468,352.52L313.47,359.52L313.475,363.77L313.488,365.34L313.488,365.79Z
M312.505,154.26L312.385,154.27L312.435,156.02L312.419,187.02L312.179,211.02L312.094,230.77L312.103,234.77L312.13,239.27L312.172,244.27L312.241,251.02L312.245,251.02L312.311,244.27L312.351,239.52L312.378,235.02L312.387,231.52L312.673,187.02L312.706,156.02L312.627,154.27Z
M312.304,326.76L312.303,326.77L312.449,331.77L312.386,342.52L312.374,349.52L312.326,356.77L312.271,360.27L312.233,362.77L312.221,363.77L312.213,365.34L312.826,365.34L312.792,363.77L312.738,360.52L312.675,356.77L312.626,349.52L312.614,342.52L312.55,331.77L312.306,326.77Z
M313.536,365.79L313.536,365.34L313.532,363.77L313.532,359.52L313.53,352.52L313.527,342.52L313.571,331.77L313.307,326.77L313.295,325.52L313.283,294.77L313.322,276.77L313.385,264.52L313.408,261.77L313.463,258.02L313.615,251.02L313.739,241.02L313.78,236.77L313.803,233.52L313.821,228.77L313.971,211.02L314.186,187.02L314.25,156.02L314.2,154.27L314.053,154.02L313.992,152.52L313.987,152.27L313.991,102.52L313.991,52.02L314.978,52.02L314.979,102.52L314.975,152.27L314.97,152.52L314.909,154.02L314.776,154.27L314.8,156.02L314.828,187.02L314.657,211.02L314.566,229.27L314.578,233.02L314.598,236.27L314.636,240.52L314.69,245.27L314.767,251.27L314.864,255.52L314.93,258.77L314.972,261.77L314.996,264.52L315.065,276.77L315.122,294.52L315.173,325.52L315.164,326.77L315.414,331.77L315.464,342.52L315.467,352.52L315.468,359.52L315.469,363.77L315.472,365.34L315.472,365.79Z
M314.488,154.26L314.367,154.27L314.389,156.02L314.379,187.02L314.173,211.02L314.045,230.77L314.053,234.77L314.079,239.27L314.12,244.27L314.187,251.02L314.191,251.02L314.259,244.27L314.3,239.52L314.328,235.02L314.338,231.52L314.634,187.02L314.661,156.02L314.609,154.27Z
M314.236,326.76L314.234,326.77L314.442,331.77L314.381,342.52L314.372,349.52L314.325,356.77L314.269,360.27L314.228,362.77L314.215,363.77L314.198,365.34L314.811,365.34L314.786,363.77L314.735,360.52L314.674,356.77L314.624,349.52L314.61,342.52L314.542,331.77L314.237,326.77Z
M315.532,365.79L315.532,365.34L315.531,363.77L315.527,359.52L315.52,352.52L315.512,342.52L315.551,331.77L315.26,326.77L315.247,325.52L315.239,294.77L315.282,276.77L315.347,264.52L315.371,261.77L315.427,258.02L315.581,251.02L315.707,241.02L315.749,236.77L315.772,233.52L315.791,228.77L315.97,211.02L316.126,187.02L316.182,156.02L316.166,154.27L316.022,154.02L315.961,152.52L315.956,152.27L315.964,102.52L315.963,52.02L316.95,52.02L316.951,102.52L316.944,152.27L316.939,152.52L316.878,154.02L316.742,154.27L316.733,156.02L316.768,187.02L316.656,211.02L316.536,229.27L316.547,233.02L316.566,236.27L316.604,240.52L316.657,245.27L316.733,251.27L316.829,255.52L316.894,258.77L316.935,261.77L316.959,264.52L317.025,276.77L317.078,294.52L317.125,325.52L317.116,326.77L317.393,331.77L317.449,342.52L317.457,352.52L317.464,359.52L317.468,363.77L317.468,365.34L317.468,365.79Z
M316.454,154.26L316.333,154.27L316.322,156.02L316.32,187.02L316.172,211.02L316.015,230.77L316.022,234.77L316.047,239.27L316.087,244.27L316.153,251.02L316.157,251.02L316.226,244.27L316.268,239.52L316.297,235.02L316.308,231.52L316.575,187.02L316.594,156.02L316.574,154.27Z
M316.188,326.76L316.187,326.77L316.422,331.77L316.366,342.52L316.36,349.52L316.318,356.77L316.265,360.27L316.227,362.77L316.214,363.77L316.193,365.34L316.807,365.34L316.785,363.77L316.732,360.52L316.667,356.77L316.612,349.52L316.595,342.52L316.522,331.77L316.19,326.77Z
M317.53,365.79L317.53,365.34L317.522,363.77L317.511,359.52L317.497,352.52L317.481,342.52L317.513,331.77L317.231,326.77L317.218,325.52L317.212,294.77L317.259,276.77L317.327,264.52L317.351,261.77L317.408,258.02L317.563,251.02L317.69,241.02L317.733,236.77L317.757,233.52L317.777,228.77L317.962,211.02L318.043,187.02L318.092,156.02L318.112,154.27L317.972,154.02L317.911,152.52L317.907,152.27L317.918,102.52L317.916,52.02L318.904,52.02L318.905,102.52L318.894,152.27L318.889,152.52L318.828,154.02L318.688,154.27L318.642,156.02L318.685,187.02L318.648,211.02L318.522,229.27L318.532,233.02L318.551,236.27L318.588,240.52L318.639,245.27L318.715,251.27L318.81,255.52L318.874,258.77L318.915,261.77L318.938,264.52L319.002,276.77L319.052,294.52L319.096,325.52L319.088,326.77L319.356,331.77L319.417,342.52L319.433,352.52L319.448,359.52L319.459,363.77L319.466,365.34L319.466,365.79Z
M318.4,154.26L318.279,154.27L318.231,156.02L318.237,187.02L318.163,211.02L318,230.77L318.007,234.77L318.031,239.27L318.07,244.27L318.135,251.02L318.139,251.02L318.209,244.27L318.252,239.52L318.282,235.02L318.294,231.52L318.492,187.02L318.503,156.02L318.521,154.27Z
M318.16,326.76L318.158,326.77L318.385,331.77L318.334,342.52L318.334,349.52L318.298,356.77L318.25,360.27L318.216,362.77L318.205,363.77L318.192,365.34L318.805,365.34L318.776,363.77L318.717,360.52L318.648,356.77L318.585,349.52L318.563,342.52L318.485,331.77L318.161,326.77Z
M319.519,365.79L319.519,365.34L319.5,363.77L319.479,359.52L319.455,352.52L319.43,342.52L319.456,331.77L319.218,326.77L319.204,325.52L319.201,294.77L319.25,276.77L319.319,264.52L319.344,261.77L319.401,258.02L319.557,251.02L319.686,241.02L319.729,236.77L319.753,233.52L319.773,228.77L319.941,211.02L319.935,187.02L319.974,156.02L320.036,154.27L319.9,154.02L319.84,152.52L319.835,152.27L319.85,102.52L319.849,52.02L320.837,52.02L320.838,102.52L320.823,152.27L320.818,152.52L320.756,154.02L320.612,154.27L320.525,156.02L320.577,187.02L320.627,211.02L320.518,229.27L320.529,233.02L320.547,236.27L320.583,240.52L320.634,245.27L320.709,251.27L320.803,255.52L320.868,258.77L320.908,261.77L320.931,264.52L320.993,276.77L321.04,294.52L321.082,325.52L321.074,326.77L321.299,331.77L321.367,342.52L321.392,352.52L321.415,359.52L321.437,363.77L321.455,365.34L321.455,365.79Z
M320.324,154.26L320.203,154.27L320.114,156.02L320.129,187.02L320.142,211.02L319.997,230.77L320.003,234.77L320.027,239.27L320.065,244.27L320.129,251.02L320.133,251.02L320.204,244.27L320.247,239.52L320.278,235.02L320.29,231.52L320.384,187.02L320.386,156.02L320.445,154.27Z
M320.146,326.76L320.145,326.77L320.328,331.77L320.284,342.52L320.289,349.52L320.262,356.77L320.219,360.27L320.191,362.77L320.183,363.77L320.18,365.34L320.794,365.34L320.754,363.77L320.687,360.52L320.611,356.77L320.541,349.52L320.513,342.52L320.428,331.77L320.147,326.77Z
M321.493,365.79L321.493,365.34L321.461,363.77L321.428,359.52L321.393,352.52L321.358,342.52L321.376,331.77L321.215,326.77L321.201,325.52L321.199,294.77L321.249,276.77L321.318,264.52L321.343,261.77L321.4,258.02L321.556,251.02L321.684,241.02L321.727,236.77L321.751,233.52L321.771,228.77L321.902,211.02L321.8,187.02L321.829,156.02L321.935,154.27L321.804,154.02L321.744,152.52L321.739,152.27L321.759,102.52L321.757,52.02L322.745,52.02L322.747,102.52L322.727,152.27L322.722,152.52L322.66,154.02L322.511,154.27L322.38,156.02L322.442,187.02L322.588,211.02L322.516,229.27L322.527,233.02L322.545,236.27L322.581,240.52L322.633,245.27L322.708,251.27L322.802,255.52L322.867,258.77L322.907,261.77L322.93,264.52L322.992,276.77L323.038,294.52L323.079,325.52L323.071,326.77L323.219,331.77L323.295,342.52L323.329,352.52L323.364,359.52L323.398,363.77L323.43,365.34L323.43,365.79Z
M322.224,154.26L322.102,154.27L321.969,156.02L321.993,187.02L322.104,211.02L321.995,230.77L322.001,234.77L322.025,239.27L322.064,244.27L322.128,251.02L322.132,251.02L322.203,244.27L322.246,239.52L322.276,235.02L322.288,231.52L322.248,187.02L322.24,156.02L322.344,154.27Z
M322.143,326.76L322.142,326.77L322.248,331.77L322.212,342.52L322.224,349.52L322.206,356.77L322.169,360.27L322.148,362.77L322.144,363.77L322.155,365.34L322.768,365.34L322.715,363.77L322.638,360.52L322.555,356.77L322.475,349.52L322.441,342.52L322.348,331.77L322.144,326.77Z
M323.449,365.79L323.449,365.34L323.402,363.77L323.354,359.52L323.307,352.52L323.261,342.52L323.271,331.77L323.212,326.77L323.198,325.52L323.195,294.77L323.243,276.77L323.311,264.52L323.335,261.77L323.392,258.02L323.546,251.02L323.674,241.02L323.716,236.77L323.74,233.52L323.759,228.77L323.843,211.02L323.65,187.02L323.687,156.02L323.807,154.27L323.681,154.02L323.622,152.52L323.617,152.27L323.642,102.52L323.64,52.02L324.627,52.02L324.63,102.52L324.605,152.27L324.6,152.52L324.538,154.02L324.383,154.27L324.238,156.02L324.292,187.02L324.53,211.02L324.504,229.27L324.515,233.02L324.534,236.27L324.571,240.52L324.623,245.27L324.699,251.27L324.794,255.52L324.859,258.77L324.899,261.77L324.922,264.52L324.986,276.77L325.035,294.52L325.076,325.52L325.068,326.77L325.114,331.77L325.198,342.52L325.244,352.52L325.291,359.52L325.338,363.77L325.386,365.34L325.386,365.79Z
M324.096,154.26L323.975,154.27L323.827,156.02L323.844,187.02L324.045,211.02L323.982,230.77L323.989,234.77L324.014,239.27L324.054,244.27L324.119,251.02L324.122,251.02L324.193,244.27L324.235,239.52L324.265,235.02L324.276,231.52L324.098,187.02L324.098,156.02L324.216,154.27Z
M324.14,326.76L324.139,326.77L324.143,331.77L324.115,342.52L324.134,349.52L324.127,356.77L324.098,360.27L324.084,362.77L324.085,363.77L324.111,365.34L324.724,365.34L324.655,363.77L324.567,360.52L324.476,356.77L324.386,349.52L324.344,342.52L324.243,331.77L324.142,326.77Z"/>
<path id="series-v" fill="#f00" fill-rule="nonzero" d="M56.248,330.66L56.248,330.21L56.268,329.82L56.276,329.07L56.289,324.57L56.276,300.32L56.311,280.32L56.354,263.57L56.334,256.32L56.33,240.82L56.312,222.82L56.032,169.07L56.069,154.07L56.956,154.07L57,169.07L57.86,222.82L57.995,240.82L58.038,256.32L58.04,263.57L58.128,280.32L58.213,300.57L58.225,324.57L58.213,329.07L58.204,329.82L58.184,330.21L58.184,330.66Z
M57.197,263.56L57.196,263.57L57.166,270.82L57.115,280.32L57.06,288.57L56.961,300.32L56.937,304.32L56.824,318.32L56.784,327.82L56.767,329.57L56.755,330.07L56.741,330.21L57.691,330.21L57.704,330.07L57.713,329.57L57.718,327.82L57.694,318.57L57.559,304.32L57.527,300.32L57.403,288.82L57.347,282.82L57.248,270.82L57.197,263.57Z
M58.121,330.66L58.121,330.21L58.146,329.82L58.157,329.07L58.173,324.57L58.156,300.32L58.186,280.32L58.222,263.57L58.2,256.32L58.19,240.82L58.161,222.82L58.019,169.07L58.058,154.07L58.945,154.07L58.987,169.07L59.709,222.82L59.856,240.82L59.904,256.32L59.908,263.57L60.002,280.32L60.093,300.57L60.109,324.57L60.093,329.07L60.083,329.82L60.058,330.21L60.058,330.66Z
M59.065,263.56L59.065,263.57L59.037,270.82L58.989,280.32L58.937,288.57L58.841,300.32L58.818,304.32L58.708,318.32L58.666,327.82L58.646,329.57L58.631,330.07L58.614,330.21L59.564,330.21L59.581,330.07L59.592,329.57L59.6,327.82L59.578,318.57L59.441,304.32L59.408,300.32L59.28,288.82L59.223,282.82L59.119,270.82L59.066,263.57Z
M59.97,330.66L59.97,330.21L59.997,329.82L60.009,329.07L60.028,324.57L60.009,300.32L60.035,280.32L60.072,263.57L60.05,256.32L60.043,240.82L60.029,222.82L60.016,169.07L60.056,154.07L60.943,154.07L60.984,169.07L61.578,222.82L61.708,240.82L61.754,256.32L61.757,263.57L61.852,280.32L61.946,300.57L61.965,324.57L61.946,329.07L61.934,329.82L61.907,330.21L61.907,330.66Z
M60.914,263.56L60.914,263.57L60.886,270.82L60.839,280.32L60.788,288.57L60.694,300.32L60.672,304.32L60.564,318.32L60.52,327.82L60.498,329.57L60.482,330.07L60.463,330.21L61.414,330.21L61.431,330.07L61.444,329.57L61.454,327.82L61.434,318.57L61.294,304.32L61.26,300.32L61.131,288.82L61.072,282.82L60.968,270.82L60.915,263.57Z
M61.838,330.66L61.838,330.21L61.86,329.82L61.87,329.07L61.885,324.57L61.87,300.32L61.902,280.32L61.944,263.57L61.925,256.32L61.923,240.82L61.925,222.82L62.013,169.07L62.052,154.07L62.939,154.07L62.981,169.07L63.474,222.82L63.589,240.82L63.629,256.32L63.63,263.57L63.719,280.32L63.806,300.57L63.822,324.57L63.806,329.07L63.796,329.82L63.775,330.21L63.775,330.66Z
M62.787,263.56L62.786,263.57L62.756,270.82L62.705,280.32L62.652,288.57L62.554,300.32L62.531,304.32L62.421,318.32L62.379,327.82L62.359,329.57L62.346,330.07L62.331,330.21L63.282,330.21L63.296,330.07L63.306,329.57L63.313,327.82L63.291,318.57L63.154,304.32L63.121,300.32L62.995,288.82L62.938,282.82L62.838,270.82L62.787,263.57Z
M63.733,330.66L63.733,330.21L63.75,329.82L63.758,329.07L63.77,324.57L63.758,300.32L63.796,280.32L63.844,263.57L63.827,256.32L63.83,240.82L63.846,222.82L64,169.07L64.036,154.07L64.923,154.07L64.968,169.07L65.394,222.82L65.495,240.82L65.531,256.32L65.529,263.57L65.613,280.32L65.694,300.57L65.707,324.57L65.695,329.07L65.687,329.82L65.67,330.21L65.67,330.66Z
M64.687,263.56L64.686,263.57L64.653,270.82L64.6,280.32L64.543,288.57L64.443,300.32L64.418,304.32L64.305,318.32L64.265,327.82L64.249,329.57L64.238,330.07L64.226,330.21L65.177,330.21L65.188,330.07L65.195,329.57L65.2,327.82L65.176,318.57L65.041,304.32L65.009,300.32L64.886,288.82L64.832,282.82L64.735,270.82L64.687,263.57Z
M65.653,330.66L65.653,330.21L65.666,329.82L65.672,329.07L65.681,324.57L65.672,300.32L65.716,280.32L65.768,263.57L65.753,256.32L65.761,240.82L65.79,222.82L65.971,169.07L66.004,154.07L66.891,154.07L66.939,169.07L67.338,222.82L67.426,240.82L67.457,256.32L67.454,263.57L67.533,280.32L67.608,300.57L67.618,324.57L67.609,329.07L67.603,329.82L67.59,330.21L67.59,330.66Z
M66.611,263.56L66.61,263.57L66.575,270.82L66.519,280.32L66.461,288.57L66.357,300.32L66.332,304.32L66.216,318.32L66.178,327.82L66.164,329.57L66.155,330.07L66.147,330.21L67.097,330.21L67.105,330.07L67.11,329.57L67.112,327.82L67.086,318.57L66.954,304.32L66.923,300.32L66.803,288.82L66.751,282.82L66.658,270.82L66.611,263.57Z
M67.596,330.66L67.596,330.21L67.605,329.82L67.609,329.07L67.616,324.57L67.609,300.32L67.658,280.32L67.714,263.57L67.701,256.32L67.713,240.82L67.753,222.82L67.924,169.07L67.953,154.07L68.84,154.07L68.892,169.07L69.301,222.82L69.379,240.82L69.406,256.32L69.4,263.57L69.475,280.32L69.546,300.57L69.552,324.57L69.546,329.07L69.542,329.82L69.533,330.21L69.533,330.66Z
M68.557,263.56L68.557,263.57L68.52,270.82L68.461,280.32L68.401,288.57L68.294,300.32L68.268,304.32L68.151,318.32L68.114,327.82L68.102,329.57L68.096,330.07L68.09,330.21L69.04,330.21L69.045,330.07L69.048,329.57L69.048,327.82L69.021,318.57L68.891,304.32L68.861,300.32L68.744,288.82L68.692,282.82L68.602,270.82L68.558,263.57Z
M69.559,330.66L69.559,330.21L69.565,329.82L69.567,329.07L69.571,324.57L69.568,300.32L69.62,280.32L69.68,263.57L69.669,256.32L69.684,240.82L69.733,222.82L69.855,169.07L69.88,154.07L70.767,154.07L70.823,169.07L71.282,222.82L71.35,240.82L71.373,256.32L71.366,263.57L71.437,280.32L71.504,300.57L71.508,324.57L71.504,329.07L71.501,329.82L71.496,330.21L71.496,330.66Z
M70.523,263.56L70.523,263.57L70.485,270.82L70.424,280.32L70.361,288.57L70.252,300.32L70.226,304.32L70.106,318.32L70.071,327.82L70.061,329.57L70.057,330.07L70.053,330.21L71.003,330.21L71.006,330.07L71.007,329.57L71.005,327.82L70.976,318.57L70.848,304.32L70.819,300.32L70.704,288.82L70.654,282.82L70.567,270.82L70.524,263.57Z
M71.539,330.66L71.539,330.21L71.542,329.82L71.543,329.07L71.545,324.57L71.543,300.32L71.6,280.32L71.663,263.57L71.653,256.32L71.67,240.82L71.726,222.82L71.762,169.07L71.783,154.07L72.67,154.07L72.73,169.07L73.275,222.82L73.336,240.82L73.357,256.32L73.349,263.57L73.417,280.32L73.48,300.57L73.482,324.57L73.48,329.07L73.479,329.82L73.476,330.21L73.476,330.66Z
M72.506,263.56L72.505,263.57L72.466,270.82L72.403,280.32L72.339,288.57L72.228,300.32L72.201,304.32L72.08,318.32L72.045,327.82L72.038,329.57L72.035,330.07L72.032,330.21L72.983,330.21L72.984,330.07L72.984,329.57L72.98,327.82L72.95,318.57L72.823,304.32L72.795,300.32L72.682,288.82L72.633,282.82L72.548,270.82L72.506,263.57Z
M73.532,330.66L73.532,330.21L73.533,329.82L73.533,329.07L73.534,324.57L73.533,300.32L73.592,280.32L73.657,263.57L73.648,256.32L73.667,240.82L73.725,222.82L73.643,169.07L73.659,154.07L74.546,154.07L74.611,169.07L75.274,222.82L75.333,240.82L75.352,256.32L75.343,263.57L75.409,280.32L75.47,300.57L75.47,324.57L75.47,329.07L75.469,329.82L75.469,330.21L75.469,330.66Z
M74.5,263.56L74.5,263.57L74.459,270.82L74.396,280.32L74.331,288.57L74.218,300.32L74.19,304.32L74.068,318.32L74.034,327.82L74.028,329.57L74.026,330.07L74.025,330.21L74.976,330.21L74.976,330.07L74.974,329.57L74.969,327.82L74.938,318.57L74.813,304.32L74.785,300.32L74.673,288.82L74.625,282.82L74.541,270.82L74.501,263.57Z
M75.531,330.66L75.531,330.21L75.532,329.82L75.532,329.07L75.532,324.57L75.532,300.32L75.591,280.32L75.656,263.57L75.646,256.32L75.665,240.82L75.717,222.82L75.496,169.07L75.509,154.07L76.396,154.07L76.464,169.07L77.266,222.82L77.33,240.82L77.351,256.32L77.342,263.57L77.408,280.32L77.468,300.57L77.468,324.57L77.468,329.07L77.468,329.82L77.468,330.21L77.468,330.66Z
M76.499,263.56L76.498,263.57L76.458,270.82L76.395,280.32L76.33,288.57L76.217,300.32L76.189,304.32L76.066,318.32L76.033,327.82L76.027,329.57L76.025,330.07L76.024,330.21L76.975,330.21L76.975,330.07L76.973,329.57L76.967,327.82L76.936,318.57L76.811,304.32L76.783,300.32L76.672,288.82L76.624,282.82L76.54,270.82L76.499,263.57Z
M77.524,330.66L77.524,330.21L77.526,329.82L77.527,329.07L77.528,324.57L77.527,300.32L77.584,280.32L77.647,263.57L77.636,256.32L77.652,240.82L77.696,222.82L77.356,169.07L77.374,154.07L78.261,154.07L78.324,169.07L79.245,222.82L79.317,240.82L79.34,256.32L79.332,263.57L79.401,280.32L79.463,300.57L79.464,324.57L79.463,329.07L79.462,329.82L79.46,330.21L79.46,330.66Z
M78.489,263.56L78.489,263.57L78.45,270.82L78.387,280.32L78.323,288.57L78.212,300.32L78.184,304.32L78.062,318.32L78.028,327.82L78.021,329.57L78.019,330.07L78.017,330.21L78.967,330.21L78.968,330.07L78.968,329.57L78.963,327.82L78.932,318.57L78.807,304.32L78.778,300.32L78.666,288.82L78.617,282.82L78.532,270.82L78.49,263.57Z
M79.503,330.66L79.503,330.21L79.508,329.82L79.51,329.07L79.513,324.57L79.51,300.32L79.564,280.32L79.623,263.57L79.611,256.32L79.624,240.82L79.658,222.82L79.244,169.07L79.267,154.07L80.154,154.07L80.212,169.07L81.207,222.82L81.289,240.82L81.315,256.32L81.309,263.57L81.381,280.32L81.446,300.57L81.449,324.57L81.446,329.07L81.444,329.82L81.44,330.21L81.44,330.66Z
M80.466,263.56L80.466,263.57L80.428,270.82L80.367,280.32L80.305,288.57L80.195,300.32L80.168,304.32L80.047,318.32L80.012,327.82L80.004,329.57L80,330.07L79.996,330.21L80.946,330.21L80.949,330.07L80.95,329.57L80.947,327.82L80.917,318.57L80.79,304.32L80.761,300.32L80.647,288.82L80.597,282.82L80.51,270.82L80.467,263.57Z
M81.465,330.66L81.465,330.21L81.474,329.82L81.477,329.07L81.482,324.57L81.477,300.32L81.527,280.32L81.583,263.57L81.569,256.32L81.578,240.82L81.6,222.82L81.158,169.07L81.185,154.07L82.072,154.07L82.126,169.07L83.148,222.82L83.243,240.82L83.273,256.32L83.268,263.57L83.344,280.32L83.413,300.57L83.419,324.57L83.414,329.07L83.41,329.82L83.402,330.21L83.402,330.66Z
M82.425,263.56L82.425,263.57L82.389,270.82L82.33,280.32L82.269,288.57L82.162,300.32L82.135,304.32L82.016,318.32L81.981,327.82L81.97,329.57L81.964,330.07L81.958,330.21L82.909,330.21L82.914,330.07L82.916,329.57L82.915,327.82L82.887,318.57L82.758,304.32L82.728,300.32L82.612,288.82L82.561,282.82L82.471,270.82L82.426,263.57Z
M83.408,330.66L83.408,330.21L83.42,329.82L83.425,329.07L83.432,324.57L83.425,300.32L83.47,280.32L83.521,263.57L83.505,256.32L83.51,240.82L83.519,222.82L83.095,169.07L83.126,154.07L84.013,154.07L84.063,169.07L85.067,222.82L85.175,240.82L85.21,256.32L85.207,263.57L85.287,280.32L85.361,300.57L85.369,324.57L85.361,329.07L85.356,329.82L85.344,330.21L85.344,330.66Z
M84.364,263.56L84.364,263.57L84.329,270.82L84.273,280.32L84.214,288.57L84.11,300.32L84.084,304.32L83.967,318.32L83.93,327.82L83.917,329.57L83.909,330.07L83.901,330.21L84.851,330.21L84.859,330.07L84.863,329.57L84.864,327.82L84.837,318.57L84.706,304.32L84.676,300.32L84.557,288.82L84.505,282.82L84.411,270.82L84.365,263.57Z
M85.327,330.66L85.327,330.21L85.343,329.82L85.35,329.07L85.361,324.57L85.35,300.32L85.39,280.32L85.437,263.57L85.419,256.32L85.418,240.82L85.413,222.82L85.052,169.07L85.087,154.07L85.974,154.07L86.02,169.07L86.961,222.82L87.084,240.82L87.123,256.32L87.122,263.57L87.207,280.32L87.287,300.57L87.297,324.57L87.287,329.07L87.28,329.82L87.264,330.21L87.264,330.66Z
M86.279,263.56L86.279,263.57L86.247,270.82L86.194,280.32L86.137,288.57L86.035,300.32L86.01,304.32L85.896,318.32L85.857,327.82L85.842,329.57L85.832,330.07L85.82,330.21L86.771,330.21L86.781,330.07L86.788,329.57L86.791,327.82L86.766,318.57L86.633,304.32L86.601,300.32L86.48,288.82L86.426,282.82L86.329,270.82L86.28,263.57Z
M87.221,330.66L87.221,330.21L87.242,329.82L87.251,329.07L87.265,324.57L87.251,300.32L87.285,280.32L87.326,263.57L87.306,256.32L87.301,240.82L87.279,222.82L87.028,169.07L87.065,154.07L87.952,154.07L87.996,169.07L88.827,222.82L88.966,240.82L89.01,256.32L89.012,263.57L89.102,280.32L89.188,300.57L89.201,324.57L89.188,329.07L89.179,329.82L89.158,330.21L89.158,330.66Z
M88.169,263.56L88.169,263.57L88.139,270.82L88.089,280.32L88.035,288.57L87.936,300.32L87.912,304.32L87.8,318.32L87.759,327.82L87.742,329.57L87.729,330.07L87.714,330.21L88.665,330.21L88.679,330.07L88.688,329.57L88.694,327.82L88.67,318.57L88.535,304.32L88.502,300.32L88.378,288.82L88.322,282.82L88.221,270.82L88.17,263.57Z
M89.088,330.66L89.088,330.21L89.114,329.82L89.126,329.07L89.142,324.57L89.125,300.32L89.153,280.32L89.189,263.57L89.166,256.32L89.155,240.82L89.129,222.82L89.017,169.07L89.057,154.07L89.944,154.07L89.985,169.07L90.677,222.82L90.82,240.82L90.87,256.32L90.874,263.57L90.97,280.32L91.062,300.57L91.079,324.57L91.062,329.07L91.051,329.82L91.025,330.21L91.025,330.66Z
M90.031,263.56L90.031,263.57L90.004,270.82L89.957,280.32L89.905,288.57L89.81,300.32L89.788,304.32L89.678,318.32L89.635,327.82L89.615,329.57L89.6,330.07L89.581,330.21L90.532,330.21L90.549,330.07L90.561,329.57L90.57,327.82L90.548,318.57L90.41,304.32L90.376,300.32L90.248,288.82L90.19,282.82L90.086,270.82L90.032,263.57Z
M90.938,330.66L90.938,330.21L90.963,329.82L90.975,329.07L90.993,324.57L90.975,300.32L91.002,280.32L91.04,263.57L91.019,256.32L91.013,240.82L91.003,222.82L91.016,169.07L91.056,154.07L91.943,154.07L91.984,169.07L92.552,222.82L92.679,240.82L92.723,256.32L92.726,263.57L92.819,280.32L92.911,300.57L92.93,324.57L92.912,329.07L92.9,329.82L92.874,330.21L92.874,330.66Z
M91.883,263.56L91.882,263.57L91.854,270.82L91.806,280.32L91.754,288.57L91.66,300.32L91.637,304.32L91.529,318.32L91.485,327.82L91.464,329.57L91.449,330.07L91.431,330.21L92.381,330.21L92.398,330.07L92.41,329.57L92.42,327.82L92.399,318.57L92.26,304.32L92.226,300.32L92.097,288.82L92.039,282.82L91.936,270.82L91.883,263.57Z
M92.812,330.66L92.812,330.21L92.833,329.82L92.842,329.07L92.857,324.57L92.842,300.32L92.876,280.32L92.919,263.57L92.9,256.32L92.9,240.82L92.905,222.82L93.011,169.07L93.05,154.07L93.937,154.07L93.979,169.07L94.453,222.82L94.565,240.82L94.604,256.32L94.605,263.57L94.692,280.32L94.778,300.57L94.793,324.57L94.779,329.07L94.769,329.82L94.748,330.21L94.748,330.66Z
M93.762,263.56L93.761,263.57L93.73,270.82L93.679,280.32L93.625,288.57L93.527,300.32L93.503,304.32L93.392,318.32L93.351,327.82L93.332,329.57L93.319,330.07L93.305,330.21L94.255,330.21L94.269,330.07L94.278,329.57L94.285,327.82L94.262,318.57L94.126,304.32L94.093,300.32L93.968,288.82L93.912,282.82L93.813,270.82L93.762,263.57Z
M94.713,330.66L94.713,330.21L94.729,329.82L94.736,329.07L94.748,324.57L94.736,300.32L94.776,280.32L94.824,263.57L94.808,256.32L94.812,240.82L94.831,222.82L94.995,169.07L95.03,154.07L95.917,154.07L95.963,169.07L96.38,222.82L96.478,240.82L96.512,256.32L96.51,263.57L96.593,280.32L96.673,300.57L96.684,324.57L96.673,329.07L96.666,329.82L96.65,330.21L96.65,330.66Z
M95.667,263.56L95.667,263.57L95.633,270.82L95.579,280.32L95.522,288.57L95.421,300.32L95.397,304.32L95.283,318.32L95.243,327.82L95.227,329.57L95.217,330.07L95.206,330.21L96.157,330.21L96.167,330.07L96.174,329.57L96.178,327.82L96.153,318.57L96.019,304.32L95.987,300.32L95.865,288.82L95.811,282.82L95.716,270.82L95.668,263.57Z
M96.639,330.66L96.639,330.21L96.65,329.82L96.656,329.07L96.664,324.57L96.656,300.32L96.701,280.32L96.754,263.57L96.74,256.32L96.748,240.82L96.78,222.82L96.962,169.07L96.994,154.07L97.881,154.07L97.93,169.07L98.328,222.82L98.414,240.82L98.444,256.32L98.44,263.57L98.518,280.32L98.592,300.57L98.601,324.57L98.592,329.07L98.587,329.82L98.575,330.21L98.575,330.66Z
M97.597,263.56L97.596,263.57L97.561,270.82L97.504,280.32L97.445,288.57L97.341,300.32L97.315,304.32L97.199,318.32L97.161,327.82L97.148,329.57L97.14,330.07L97.132,330.21L98.082,330.21L98.09,330.07L98.094,329.57L98.096,327.82L98.069,318.57L97.938,304.32L97.907,300.32L97.788,288.82L97.735,282.82L97.643,270.82L97.597,263.57Z
M98.586,330.66L98.586,330.21L98.594,329.82L98.598,329.07L98.604,324.57L98.598,300.32L98.648,280.32L98.705,263.57L98.693,256.32L98.705,240.82L98.747,222.82L98.91,169.07L98.939,154.07L99.826,154.07L99.878,169.07L100.296,222.82L100.371,240.82L100.397,256.32L100.391,263.57L100.465,280.32L100.535,300.57L100.541,324.57L100.535,329.07L100.531,329.82L100.523,330.21L100.523,330.66Z
M99.548,263.56L99.547,263.57L99.51,270.82L99.451,280.32L99.39,288.57L99.283,300.32L99.257,304.32L99.139,318.32L99.102,327.82L99.091,329.57L99.085,330.07L99.079,330.21L100.03,330.21L100.035,330.07L100.037,329.57L100.037,327.82L100.009,318.57L99.879,304.32L99.849,300.32L99.733,288.82L99.682,282.82L99.593,270.82L99.549,263.57Z
M100.554,330.66L100.554,330.21L100.558,329.82L100.56,329.07L100.564,324.57L100.561,300.32L100.614,280.32L100.675,263.57L100.664,256.32L100.68,240.82L100.731,222.82L100.836,169.07L100.86,154.07L101.747,154.07L101.804,169.07L102.279,222.82L102.345,240.82L102.368,256.32L102.361,263.57L102.431,280.32L102.497,300.57L102.501,324.57L102.497,329.07L102.495,329.82L102.49,330.21L102.49,330.66Z
M101.518,263.56L101.518,263.57L101.479,270.82L101.418,280.32L101.355,288.57L101.245,300.32L101.219,304.32L101.099,318.32L101.063,327.82L101.054,329.57L101.05,330.07L101.047,330.21L101.997,330.21L102,330.07L102.001,329.57L101.998,327.82L101.969,318.57L101.841,304.32L101.812,300.32L101.698,288.82L101.648,282.82L101.561,270.82L101.519,263.57Z
M102.537,330.66L102.537,330.21L102.539,329.82L102.54,329.07L102.542,324.57L102.54,300.32L102.597,280.32L102.661,263.57L102.651,256.32L102.669,240.82L102.726,222.82L102.738,169.07L102.757,154.07L103.644,154.07L103.706,169.07L104.274,222.82L104.334,240.82L104.355,256.32L104.346,263.57L104.414,280.32L104.476,300.57L104.478,324.57L104.476,329.07L104.475,329.82L104.473,330.21L104.473,330.66Z
M103.504,263.56L103.503,263.57L103.463,270.82L103.4,280.32L103.336,288.57L103.225,300.32L103.197,304.32L103.076,318.32L103.042,327.82L103.034,329.57L103.032,330.07L103.03,330.21L103.98,330.21L103.981,330.07L103.981,329.57L103.976,327.82L103.946,318.57L103.82,304.32L103.791,300.32L103.679,288.82L103.63,282.82L103.545,270.82L103.504,263.57Z
M104.532,330.66L104.532,330.21L104.532,329.82L104.532,329.07L104.533,324.57L104.533,300.32L104.592,280.32L104.657,263.57L104.648,256.32L104.667,240.82L104.724,222.82L104.612,169.07L104.627,154.07L105.514,154.07L105.58,169.07L106.273,222.82L106.333,240.82L106.352,256.32L106.343,263.57L106.409,280.32L106.469,300.57L106.469,324.57L106.469,329.07L106.469,329.82L106.468,330.21L106.468,330.66Z
M105.5,263.56L105.5,263.57L105.459,270.82L105.395,280.32L105.33,288.57L105.217,300.32L105.189,304.32L105.067,318.32L105.034,327.82L105.027,329.57L105.025,330.07L105.025,330.21L105.975,330.21L105.975,330.07L105.974,329.57L105.968,327.82L105.937,318.57L105.812,304.32L105.784,300.32L105.673,288.82L105.625,282.82L105.541,270.82L105.501,263.57Z
M106.53,330.66L106.53,330.21L106.531,329.82L106.531,329.07L106.531,324.57L106.532,300.32L106.59,280.32L106.655,263.57L106.645,256.32L106.663,240.82L106.714,222.82L106.462,169.07L106.476,154.07L107.363,154.07L107.43,169.07L108.262,222.82L108.328,240.82L108.349,256.32L108.341,263.57L108.407,280.32L108.468,300.57L108.468,324.57L108.468,329.07L108.468,329.82L108.467,330.21L108.467,330.66Z
M107.498,263.56L107.497,263.57L107.457,270.82L107.394,280.32L107.329,288.57L107.216,300.32L107.188,304.32L107.066,318.32L107.032,327.82L107.026,329.57L107.024,330.07L107.023,330.21L107.974,330.21L107.974,330.07L107.973,329.57L107.967,327.82L107.936,318.57L107.811,304.32L107.783,300.32L107.672,288.82L107.623,282.82L107.539,270.82L107.498,263.57Z
M108.52,330.66L108.52,330.21L108.523,329.82L108.524,329.07L108.526,324.57L108.524,300.32L108.581,280.32L108.643,263.57L108.632,256.32L108.647,240.82L108.689,222.82L108.328,169.07L108.347,154.07L109.234,154.07L109.296,169.07L110.238,222.82L110.312,240.82L110.336,256.32L110.328,263.57L110.397,280.32L110.461,300.57L110.462,324.57L110.461,329.07L110.46,329.82L110.457,330.21L110.457,330.66Z
M109.486,263.56L109.485,263.57L109.446,270.82L109.384,280.32L109.32,288.57L109.209,300.32L109.182,304.32L109.06,318.32L109.026,327.82L109.019,329.57L109.016,330.07L109.013,330.21L109.964,330.21L109.965,330.07L109.965,329.57L109.96,327.82L109.93,318.57L109.804,304.32L109.775,300.32L109.663,288.82L109.614,282.82L109.528,270.82L109.486,263.57Z
M110.496,330.66L110.496,330.21L110.502,329.82L110.504,329.07L110.507,324.57L110.504,300.32L110.557,280.32L110.616,263.57L110.603,256.32L110.615,240.82L110.647,222.82L110.222,169.07L110.246,154.07L111.133,154.07L111.19,169.07L112.195,222.82L112.281,240.82L112.307,256.32L112.301,263.57L112.374,280.32L112.44,300.57L112.444,324.57L112.44,329.07L112.438,329.82L112.433,330.21L112.433,330.66Z
M111.459,263.56L111.458,263.57L111.421,270.82L111.36,280.32L111.298,288.57L111.189,300.32L111.162,304.32L111.042,318.32L111.007,327.82L110.998,329.57L110.993,330.07L110.989,330.21L111.94,330.21L111.943,330.07L111.944,329.57L111.941,327.82L111.912,318.57L111.784,304.32L111.755,300.32L111.641,288.82L111.591,282.82L111.503,270.82L111.459,263.57Z
M112.454,330.66L112.454,330.21L112.463,329.82L112.467,329.07L112.472,324.57L112.467,300.32L112.516,280.32L112.571,263.57L112.556,256.32L112.564,240.82L112.584,222.82L112.141,169.07L112.169,154.07L113.056,154.07L113.109,169.07L114.132,222.82L114.23,240.82L114.26,256.32L114.256,263.57L114.333,280.32L114.403,300.57L114.409,324.57L114.403,329.07L114.4,329.82L114.391,330.21L114.391,330.66Z
M113.413,263.56L113.413,263.57L113.377,270.82L113.319,280.32L113.259,288.57L113.152,300.32L113.126,304.32L113.007,318.32L112.971,327.82L112.96,329.57L112.954,330.07L112.947,330.21L113.898,330.21L113.903,330.07L113.906,329.57L113.905,327.82L113.877,318.57L113.748,304.32L113.718,300.32L113.601,288.82L113.55,282.82L113.459,270.82L113.414,263.57Z
M114.391,330.66L114.391,330.21L114.404,329.82L114.41,329.07L114.418,324.57L114.41,300.32L114.454,280.32L114.504,263.57L114.488,256.32L114.491,240.82L114.497,222.82L114.083,169.07L114.115,154.07L115.002,154.07L115.051,169.07L116.046,222.82L116.157,240.82L116.192,256.32L116.19,263.57L116.271,280.32L116.346,300.57L116.355,324.57L116.346,329.07L116.341,329.82L116.328,330.21L116.328,330.66Z
M115.347,263.56L115.346,263.57L115.313,270.82L115.257,280.32L115.199,288.57L115.095,300.32L115.069,304.32L114.953,318.32L114.915,327.82L114.902,329.57L114.894,330.07L114.884,330.21L115.835,330.21L115.843,330.07L115.848,329.57L115.85,327.82L115.823,318.57L115.692,304.32L115.661,300.32L115.542,288.82L115.489,282.82L115.395,270.82L115.347,263.57Z
M116.305,330.66L116.305,330.21L116.323,329.82L116.33,329.07L116.341,324.57L116.33,300.32L116.369,280.32L116.414,263.57L116.395,256.32L116.394,240.82L116.385,222.82L116.045,169.07L116.081,154.07L116.968,154.07L117.013,169.07L117.933,222.82L118.059,240.82L118.1,256.32L118.1,263.57L118.185,280.32L118.267,300.57L118.278,324.57L118.267,329.07L118.259,329.82L118.242,330.21L118.242,330.66Z
M117.257,263.56L117.256,263.57L117.225,270.82L117.172,280.32L117.116,288.57L117.015,300.32L116.99,304.32L116.876,318.32L116.837,327.82L116.821,329.57L116.811,330.07L116.798,330.21L117.749,330.21L117.76,330.07L117.767,329.57L117.771,327.82L117.746,318.57L117.613,304.32L117.581,300.32L117.459,288.82L117.404,282.82L117.307,270.82L117.257,263.57Z
M118.194,330.66L118.194,330.21L118.216,329.82L118.225,329.07L118.239,324.57L118.225,300.32L118.258,280.32L118.298,263.57L118.277,256.32L118.27,240.82L118.244,222.82L118.024,169.07L118.063,154.07L118.95,154.07L118.992,169.07L119.793,222.82L119.935,240.82L119.981,256.32L119.983,263.57L120.075,280.32L120.162,300.57L120.176,324.57L120.162,329.07L120.152,329.82L120.13,330.21L120.13,330.66Z
M119.141,263.56L119.14,263.57L119.111,270.82L119.061,280.32L119.008,288.57L118.91,300.32L118.886,304.32L118.775,318.32L118.734,327.82L118.715,329.57L118.702,330.07L118.687,330.21L119.637,330.21L119.652,330.07L119.661,329.57L119.668,327.82L119.645,318.57L119.509,304.32L119.476,300.32L119.351,288.82L119.294,282.82L119.193,270.82L119.141,263.57Z
M120.054,330.66L120.054,330.21L120.081,329.82L120.093,329.07L120.111,324.57L120.093,300.32L120.119,280.32L120.153,263.57L120.13,256.32L120.12,240.82L120.098,222.82L120.017,169.07L120.057,154.07L120.944,154.07L120.985,169.07L121.646,222.82L121.786,240.82L121.834,256.32L121.839,263.57L121.936,280.32L122.029,300.57L122.047,324.57L122.03,329.07L122.018,329.82L121.99,330.21L121.99,330.66Z
M120.996,263.56L120.996,263.57L120.969,270.82L120.923,280.32L120.872,288.57L120.778,300.32L120.755,304.32L120.646,318.32L120.603,327.82L120.582,329.57L120.566,330.07L120.547,330.21L121.497,330.21L121.516,330.07L121.528,329.57L121.538,327.82L121.517,318.57L121.378,304.32L121.344,300.32L121.215,288.82L121.156,282.82L121.051,270.82L120.997,263.57Z
M121.907,330.66L121.907,330.21L121.931,329.82L121.942,329.07L121.96,324.57L121.942,300.32L121.971,280.32L122.01,263.57L121.99,256.32L121.985,240.82L121.979,222.82L122.016,169.07L122.056,154.07L122.943,154.07L122.984,169.07L123.527,222.82L123.651,240.82L123.694,256.32L123.696,263.57L123.788,280.32L123.879,300.57L123.896,324.57L123.879,329.07L123.868,329.82L123.843,330.21L123.843,330.66Z
M122.853,263.56L122.853,263.57L122.823,270.82L122.775,280.32L122.722,288.57L122.627,300.32L122.604,304.32L122.495,318.32L122.452,327.82L122.431,329.57L122.417,330.07L122.4,330.21L123.35,330.21L123.366,330.07L123.377,329.57L123.387,327.82L123.366,318.57L123.227,304.32L123.193,300.32L123.065,288.82L123.008,282.82L122.906,270.82L122.854,263.57Z
M123.787,330.66L123.787,330.21L123.807,329.82L123.816,329.07L123.83,324.57L123.816,300.32L123.851,280.32L123.895,263.57L123.877,256.32L123.878,240.82L123.886,222.82L124.009,169.07L124.047,154.07L124.933,154.07L124.977,169.07L125.435,222.82L125.543,240.82L125.581,256.32L125.581,263.57L125.668,280.32L125.752,300.57L125.766,324.57L125.752,329.07L125.743,329.82L125.724,330.21L125.724,330.66Z
M124.738,263.56L124.738,263.57L124.706,270.82L124.654,280.32L124.599,288.57L124.5,300.32L124.477,304.32L124.365,318.32L124.324,327.82L124.306,329.57L124.294,330.07L124.28,330.21L125.231,330.21L125.243,330.07L125.252,329.57L125.258,327.82L125.235,318.57L125.099,304.32L125.067,300.32L124.942,288.82L124.887,282.82L124.788,270.82L124.739,263.57Z
M125.694,330.66L125.694,330.21L125.709,329.82L125.716,329.07L125.727,324.57L125.716,300.32L125.757,280.32L125.806,263.57L125.79,256.32L125.796,240.82L125.818,222.82L125.989,169.07L126.024,154.07L126.911,154.07L126.957,169.07L127.366,222.82L127.461,240.82L127.494,256.32L127.492,263.57L127.574,280.32L127.652,300.57L127.663,324.57L127.653,329.07L127.646,329.82L127.631,330.21L127.631,330.66Z
M126.649,263.56L126.649,263.57L126.615,270.82L126.56,280.32L126.503,288.57L126.401,300.32L126.376,304.32L126.262,318.32L126.222,327.82L126.207,329.57L126.198,330.07L126.187,330.21L127.138,330.21L127.147,330.07L127.153,329.57L127.157,327.82L127.132,318.57L126.998,304.32L126.967,300.32L126.846,288.82L126.792,282.82L126.697,270.82L126.65,263.57Z
M127.625,330.66L127.625,330.21L127.636,329.82L127.641,329.07L127.649,324.57L127.641,300.32L127.687,280.32L127.741,263.57L127.727,256.32L127.737,240.82L127.771,222.82L127.952,169.07L127.984,154.07L128.871,154.07L128.92,169.07L129.319,222.82L129.402,240.82L129.431,256.32L129.427,263.57L129.504,280.32L129.577,300.57L129.585,324.57L129.577,329.07L129.572,329.82L129.562,330.21L129.562,330.66Z
M128.584,263.56L128.583,263.57L128.548,270.82L128.49,280.32L128.431,288.57L128.326,300.32L128.3,304.32L128.184,318.32L128.146,327.82L128.133,329.57L128.126,330.07L128.118,330.21L129.069,330.21L129.075,330.07L129.079,329.57L129.08,327.82L129.054,318.57L128.923,304.32L128.892,300.32L128.774,288.82L128.721,282.82L128.63,270.82L128.584,263.57Z
M129.577,330.66L129.577,330.21L129.585,329.82L129.588,329.07L129.593,324.57L129.588,300.32L129.639,280.32L129.697,263.57L129.685,256.32L129.698,240.82L129.742,222.82L129.895,169.07L129.923,154.07L130.81,154.07L130.863,169.07L131.29,222.82L131.363,240.82L131.389,256.32L131.383,263.57L131.455,280.32L131.524,300.57L131.53,324.57L131.524,329.07L131.521,329.82L131.514,330.21L131.514,330.66Z
M130.54,263.56L130.539,263.57L130.502,270.82L130.442,280.32L130.381,288.57L130.273,300.32L130.246,304.32L130.128,318.32L130.092,327.82L130.081,329.57L130.076,330.07L130.07,330.21L131.021,330.21L131.025,330.07L131.027,329.57L131.026,327.82L130.998,318.57L130.869,304.32L130.839,300.32L130.723,288.82L130.673,282.82L130.584,270.82L130.54,263.57Z
M131.548,330.66L131.548,330.21L131.552,329.82L131.554,329.07L131.558,324.57L131.555,300.32L131.609,280.32L131.671,263.57L131.66,256.32L131.676,240.82L131.729,222.82L131.816,169.07L131.839,154.07L132.726,154.07L132.784,169.07L133.277,222.82L133.342,240.82L133.364,256.32L133.356,263.57L133.426,280.32L133.491,300.57L133.494,324.57L133.491,329.07L133.489,329.82L133.485,330.21L133.485,330.66Z
M132.514,263.56L132.513,263.57L132.474,270.82L132.413,280.32L132.349,288.57L132.239,300.32L132.212,304.32L132.092,318.32L132.057,327.82L132.049,329.57L132.045,330.07L132.041,330.21L132.992,330.21L132.994,330.07L132.995,329.57L132.991,327.82L132.962,318.57L132.835,304.32L132.806,300.32L132.692,288.82L132.643,282.82L132.556,270.82L132.514,263.57Z
M133.535,330.66L133.535,330.21L133.536,329.82L133.537,329.07L133.538,324.57L133.537,300.32L133.595,280.32L133.659,263.57L133.649,256.32L133.668,240.82L133.726,222.82L133.712,169.07L133.73,154.07L134.617,154.07L134.68,169.07L135.274,222.82L135.333,240.82L135.354,256.32L135.345,263.57L135.412,280.32L135.474,300.57L135.475,324.57L135.474,329.07L135.473,329.82L135.471,330.21L135.471,330.66Z
M134.502,263.56L134.501,263.57L134.461,270.82L134.398,280.32L134.334,288.57L134.222,300.32L134.195,304.32L134.073,318.32L134.039,327.82L134.032,329.57L134.029,330.07L134.028,330.21L134.978,330.21L134.979,330.07L134.978,329.57L134.973,327.82L134.943,318.57L134.817,304.32L134.789,300.32L134.677,288.82L134.628,282.82L134.544,270.82L134.502,263.57Z
M135.532,330.66L135.532,330.21L135.532,329.82L135.532,329.07L135.532,324.57L135.532,300.32L135.592,280.32L135.657,263.57L135.648,256.32L135.667,240.82L135.723,222.82L135.58,169.07L135.593,154.07L136.48,154.07L136.548,169.07L137.271,222.82L137.332,240.82L137.352,256.32L137.343,263.57L137.408,280.32L137.468,300.57L137.469,324.57L137.468,329.07L137.468,329.82L137.468,330.21L137.468,330.66Z
M136.5,263.56L136.499,263.57L136.459,270.82L136.395,280.32L136.33,288.57L136.217,300.32L136.189,304.32L136.066,318.32L136.033,327.82L136.027,329.57L136.025,330.07L136.025,330.21L136.975,330.21L136.975,330.07L136.973,329.57L136.967,327.82L136.936,318.57L136.811,304.32L136.783,300.32L136.672,288.82L136.624,282.82L136.541,270.82L136.5,263.57Z
M137.529,330.66L137.529,330.21L137.53,329.82L137.53,329.07L137.531,324.57L137.531,300.32L137.589,280.32L137.653,263.57L137.643,256.32L137.66,240.82L137.71,222.82L137.429,169.07L137.444,154.07L138.331,154.07L138.397,169.07L139.258,222.82L139.326,240.82L139.347,256.32L139.339,263.57L139.406,280.32L139.467,300.57L139.468,324.57L139.467,329.07L139.467,329.82L139.466,330.21L139.466,330.66Z
M138.496,263.56L138.496,263.57L138.456,270.82L138.393,280.32L138.328,288.57L138.216,300.32L138.188,304.32L138.065,318.32L138.032,327.82L138.025,329.57L138.023,330.07L138.022,330.21L138.973,330.21L138.973,330.07L138.972,329.57L138.966,327.82L138.935,318.57L138.81,304.32L138.782,300.32L138.671,288.82L138.622,282.82L138.538,270.82L138.497,263.57Z
M139.516,330.66L139.516,330.21L139.519,329.82L139.521,329.07L139.523,324.57L139.521,300.32L139.577,280.32L139.638,263.57L139.627,256.32L139.641,240.82L139.681,222.82L139.302,169.07L139.322,154.07L140.209,154.07L140.27,169.07L141.23,222.82L141.307,240.82L141.331,256.32L141.324,263.57L141.393,280.32L141.457,300.57L141.459,324.57L141.457,329.07L141.456,329.82L141.453,330.21L141.453,330.66Z
M140.481,263.56L140.48,263.57L140.442,270.82L140.38,280.32L140.317,288.57L140.206,300.32L140.178,304.32L140.057,318.32L140.023,327.82L140.015,329.57L140.012,330.07L140.009,330.21L140.96,330.21L140.961,330.07L140.961,329.57L140.957,327.82L140.927,318.57L140.801,304.32L140.772,300.32L140.659,288.82L140.61,282.82L140.524,270.82L140.481,263.57Z
M141.488,330.66L141.488,330.21L141.494,329.82L141.497,329.07L141.501,324.57L141.497,300.32L141.549,280.32L141.607,263.57L141.594,256.32L141.605,240.82L141.635,222.82L141.202,169.07L141.227,154.07L142.113,154.07L142.17,169.07L143.183,222.82L143.271,240.82L143.298,256.32L143.293,263.57L143.366,280.32L143.434,300.57L143.437,324.57L143.434,329.07L143.431,329.82L143.425,330.21L143.425,330.66Z
M142.45,263.56L142.45,263.57L142.412,270.82L142.353,280.32L142.291,288.57L142.182,300.32L142.155,304.32L142.035,318.32L142,327.82L141.991,329.57L141.986,330.07L141.981,330.21L142.932,330.21L142.936,330.07L142.937,329.57L142.935,327.82L142.905,318.57L142.778,304.32L142.748,300.32L142.634,288.82L142.583,282.82L142.495,270.82L142.451,263.57Z
M143.442,330.66L143.442,330.21L143.452,329.82L143.456,329.07L143.462,324.57L143.456,300.32L143.504,280.32L143.557,263.57L143.543,256.32L143.55,240.82L143.566,222.82L143.126,169.07L143.155,154.07L144.042,154.07L144.094,169.07L145.115,222.82L145.215,240.82L145.247,256.32L145.243,263.57L145.32,280.32L145.392,300.57L145.398,324.57L145.392,329.07L145.388,329.82L145.378,330.21L145.378,330.66Z
M144.4,263.56L144.4,263.57L144.364,270.82L144.307,280.32L144.247,288.57L144.141,300.32L144.115,304.32L143.997,318.32L143.96,327.82L143.949,329.57L143.942,330.07L143.935,330.21L144.885,330.21L144.892,330.07L144.895,329.57L144.894,327.82L144.867,318.57L144.737,304.32L144.707,300.32L144.59,288.82L144.538,282.82L144.447,270.82L144.401,263.57Z
M145.374,330.66L145.374,330.21L145.388,329.82L145.394,329.07L145.403,324.57L145.394,300.32L145.437,280.32L145.486,263.57L145.469,256.32L145.471,240.82L145.474,222.82L145.073,169.07L145.106,154.07L145.993,154.07L146.041,169.07L147.022,222.82L147.137,240.82L147.173,256.32L147.172,263.57L147.253,280.32L147.33,300.57L147.339,324.57L147.33,329.07L147.325,329.82L147.311,330.21L147.311,330.66Z
M146.329,263.56L146.328,263.57L146.295,270.82L146.24,280.32L146.182,288.57L146.079,300.32L146.053,304.32L145.937,318.32L145.899,327.82L145.886,329.57L145.877,330.07L145.867,330.21L146.818,330.21L146.827,330.07L146.832,329.57L146.834,327.82L146.808,318.57L146.676,304.32L146.645,300.32L146.525,288.82L146.472,282.82L146.377,270.82L146.329,263.57Z
M147.282,330.66L147.282,330.21L147.301,329.82L147.309,329.07L147.32,324.57L147.309,300.32L147.346,280.32L147.39,263.57L147.371,256.32L147.368,240.82L147.355,222.82L147.039,169.07L147.075,154.07L147.962,154.07L148.007,169.07L148.904,222.82L149.034,240.82L149.075,256.32L149.076,263.57L149.163,280.32L149.245,300.57L149.257,324.57L149.245,329.07L149.237,329.82L149.219,330.21L149.219,330.66Z
M148.233,263.56L148.232,263.57L148.201,270.82L148.149,280.32L148.094,288.57L147.993,300.32L147.969,304.32L147.855,318.32L147.816,327.82L147.799,329.57L147.788,330.07L147.775,330.21L148.726,330.21L148.738,330.07L148.746,329.57L148.75,327.82L148.726,318.57L148.591,304.32L148.56,300.32L148.437,288.82L148.382,282.82L148.283,270.82L148.233,263.57Z
M149.164,330.66L149.164,330.21L149.188,329.82L149.198,329.07L149.213,324.57L149.198,300.32L149.229,280.32L149.267,263.57L149.246,256.32L149.238,240.82L149.209,222.82L149.022,169.07L149.06,154.07L149.947,154.07L149.99,169.07L150.757,222.82L150.903,240.82L150.95,256.32L150.953,263.57L151.046,280.32L151.134,300.57L151.149,324.57L151.134,329.07L151.124,329.82L151.101,330.21L151.101,330.66Z
M150.11,263.56L150.11,263.57L150.081,270.82L150.032,280.32L149.979,288.57L149.882,300.32L149.859,304.32L149.748,318.32L149.706,327.82L149.687,329.57L149.674,330.07L149.657,330.21L150.608,330.21L150.623,330.07L150.634,329.57L150.641,327.82L150.618,318.57L150.482,304.32L150.449,300.32L150.322,288.82L150.265,282.82L150.163,270.82L150.111,263.57Z
M151.018,330.66L151.018,330.21L151.047,329.82L151.059,329.07L151.078,324.57L151.059,300.32L151.084,280.32L151.118,263.57L151.096,256.32L151.087,240.82L151.068,222.82L151.016,169.07L151.057,154.07L151.943,154.07L151.984,169.07L152.617,222.82L152.752,240.82L152.8,256.32L152.804,263.57L152.9,280.32L152.995,300.57L153.014,324.57L152.996,329.07L152.983,329.82L152.955,330.21L152.955,330.66Z
M151.961,263.56L151.961,263.57L151.933,270.82L151.887,280.32L151.837,288.57L151.744,300.32L151.721,304.32L151.613,318.32L151.57,327.82L151.547,329.57L151.531,330.07L151.511,330.21L152.462,330.21L152.481,330.07L152.494,329.57L152.504,327.82L152.483,318.57L152.344,304.32L152.31,300.32L152.18,288.82L152.121,282.82L152.016,270.82L151.962,263.57Z
M152.877,330.66L152.877,330.21L152.9,329.82L152.911,329.07L152.928,324.57L152.911,300.32L152.941,280.32L152.982,263.57L152.962,256.32L152.958,240.82L152.956,222.82L153.015,169.07L153.054,154.07L153.941,154.07L153.983,169.07L154.504,222.82L154.624,240.82L154.666,256.32L154.667,263.57L154.758,280.32L154.847,300.57L154.864,324.57L154.848,329.07L154.837,329.82L154.814,330.21L154.814,330.66Z
M153.825,263.56L153.824,263.57L153.794,270.82L153.745,280.32L153.692,288.57L153.596,300.32L153.573,304.32L153.463,318.32L153.421,327.82L153.4,329.57L153.386,330.07L153.37,330.21L154.321,330.21L154.336,330.07L154.347,329.57L154.355,327.82L154.333,318.57L154.195,304.32L154.162,300.32L154.035,288.82L153.978,282.82L153.877,270.82L153.825,263.57Z
M154.764,330.66L154.764,330.21L154.782,329.82L154.791,329.07L154.804,324.57L154.791,300.32L154.827,280.32L154.873,263.57L154.855,256.32L154.857,240.82L154.869,222.82L155.005,169.07L155.043,154.07L155.93,154.07L155.973,169.07L156.417,222.82L156.522,240.82L156.559,256.32L156.559,263.57L156.644,280.32L156.727,300.57L156.741,324.57L156.727,329.07L156.719,329.82L156.7,330.21L156.7,330.66Z
M155.716,263.56L155.715,263.57L155.683,270.82L155.631,280.32L155.575,288.57L155.475,300.32L155.451,304.32L155.339,318.32L155.298,327.82L155.281,329.57L155.27,330.07L155.257,330.21L156.207,330.21L156.219,330.07L156.227,329.57L156.233,327.82L156.209,318.57L156.074,304.32L156.042,300.32L155.918,288.82L155.863,282.82L155.765,270.82L155.716,263.57Z
M156.676,330.66L156.676,330.21L156.69,329.82L156.697,329.07L156.707,324.57L156.697,300.32L156.739,280.32L156.789,263.57L156.774,256.32L156.78,240.82L156.805,222.82L156.982,169.07L157.016,154.07L157.903,154.07L157.95,169.07L158.354,222.82L158.446,240.82L158.478,256.32L158.475,263.57L158.556,280.32L158.633,300.57L158.643,324.57L158.633,329.07L158.627,329.82L158.613,330.21L158.613,330.66Z
M157.632,263.56L157.632,263.57L157.598,270.82L157.542,280.32L157.484,288.57L157.382,300.32L157.357,304.32L157.242,318.32L157.203,327.82L157.188,329.57L157.179,330.07L157.169,330.21L158.12,330.21L158.129,330.07L158.135,329.57L158.137,327.82L158.112,318.57L157.979,304.32L157.948,300.32L157.827,288.82L157.774,282.82L157.68,270.82L157.633,263.57Z
M158.612,330.66L158.612,330.21L158.622,329.82L158.627,329.07L158.634,324.57L158.627,300.32L158.674,280.32L158.729,263.57L158.716,256.32L158.726,240.82L158.763,222.82L158.941,169.07L158.972,154.07L159.859,154.07L159.909,169.07L160.311,222.82L160.392,240.82L160.42,256.32L160.415,263.57L160.491,280.32L160.563,300.57L160.571,324.57L160.564,329.07L160.559,329.82L160.549,330.21L160.549,330.66Z
M159.572,263.56L159.572,263.57L159.535,270.82L159.478,280.32L159.418,288.57L159.312,300.32L159.286,304.32L159.169,318.32L159.132,327.82L159.119,329.57L159.113,330.07L159.105,330.21L160.056,330.21L160.062,330.07L160.066,329.57L160.066,327.82L160.039,318.57L159.908,304.32L159.878,300.32L159.76,288.82L159.708,282.82L159.618,270.82L159.573,263.57Z
M160.569,330.66L160.569,330.21L160.576,329.82L160.579,329.07L160.583,324.57L160.579,300.32L160.63,280.32L160.689,263.57L160.678,256.32L160.692,240.82L160.738,222.82L160.879,169.07L160.906,154.07L161.793,154.07L161.847,169.07L162.286,222.82L162.357,240.82L162.382,256.32L162.375,263.57L162.447,280.32L162.515,300.57L162.52,324.57L162.515,329.07L162.512,329.82L162.506,330.21L162.506,330.66Z
M161.532,263.56L161.532,263.57L161.494,270.82L161.434,280.32L161.372,288.57L161.264,300.32L161.237,304.32L161.118,318.32L161.082,327.82L161.072,329.57L161.067,330.07L161.062,330.21L162.013,330.21L162.017,330.07L162.018,329.57L162.017,327.82L161.988,318.57L161.86,304.32L161.83,300.32L161.715,288.82L161.664,282.82L161.576,270.82L161.533,263.57Z
M162.544,330.66L162.544,330.21L162.548,329.82L162.549,329.07L162.552,324.57L162.549,300.32L162.605,280.32L162.667,263.57L162.656,256.32L162.673,240.82L162.727,222.82L162.795,169.07L162.817,154.07L163.704,154.07L163.763,169.07L164.276,222.82L164.339,240.82L164.361,256.32L164.353,263.57L164.421,280.32L164.486,300.57L164.488,324.57L164.486,329.07L164.484,329.82L164.481,330.21L164.481,330.66Z
M163.51,263.56L163.509,263.57L163.47,270.82L163.408,280.32L163.345,288.57L163.234,300.32L163.207,304.32L163.086,318.32L163.052,327.82L163.043,329.57L163.04,330.07L163.037,330.21L163.988,330.21L163.989,330.07L163.99,329.57L163.986,327.82L163.956,318.57L163.829,304.32L163.801,300.32L163.687,288.82L163.638,282.82L163.552,270.82L163.51,263.57Z
M164.533,330.66L164.533,330.21L164.534,329.82L164.535,329.07L164.536,324.57L164.535,300.32L164.593,280.32L164.658,263.57L164.649,256.32L164.667,240.82L164.726,222.82L164.684,169.07L164.701,154.07L165.588,154.07L165.652,169.07L166.274,222.82L166.333,240.82L166.353,256.32L166.344,263.57L166.41,280.32L166.472,300.57L166.473,324.57L166.472,329.07L166.471,329.82L166.47,330.21L166.47,330.66Z
M165.501,263.56L165.5,263.57L165.46,270.82L165.397,280.32L165.332,288.57L165.22,300.32L165.192,304.32L165.07,318.32L165.037,327.82L165.03,329.57L165.028,330.07L165.026,330.21L165.977,330.21L165.977,330.07L165.976,329.57L165.971,327.82L165.94,318.57L165.815,304.32L165.786,300.32L165.675,288.82L165.626,282.82L165.542,270.82L165.501,263.57Z
M166.532,330.66L166.532,330.21L166.532,329.82L166.532,329.07L166.532,324.57L166.532,300.32L166.592,280.32L166.657,263.57L166.648,256.32L166.666,240.82L166.721,222.82L166.546,169.07L166.558,154.07L167.445,154.07L167.514,169.07L168.269,222.82L168.332,240.82L168.352,256.32L168.343,263.57L168.408,280.32L168.468,300.57L168.468,324.57L168.468,329.07L168.468,329.82L168.468,330.21L168.468,330.66Z
M167.5,263.56L167.499,263.57L167.459,270.82L167.395,280.32L167.33,288.57L167.217,300.32L167.189,304.32L167.066,318.32L167.033,327.82L167.027,329.57L167.025,330.07L167.025,330.21L167.975,330.21L167.975,330.07L167.973,329.57L167.967,327.82L167.936,318.57L167.811,304.32L167.783,300.32L167.672,288.82L167.624,282.82L167.541,270.82L167.5,263.57Z
M168.527,330.66L168.527,330.21L168.529,329.82L168.529,329.07L168.53,324.57L168.53,300.32L168.587,280.32L168.651,263.57L168.641,256.32L168.657,240.82L168.705,222.82L168.398,169.07L168.414,154.07L169.301,154.07L169.366,169.07L170.253,222.82L170.323,240.82L170.345,256.32L170.337,263.57L170.404,280.32L170.466,300.57L170.467,324.57L170.466,329.07L170.465,329.82L170.464,330.21L170.464,330.66Z
M169.494,263.56L169.493,263.57L169.454,270.82L169.391,280.32L169.326,288.57L169.214,300.32L169.187,304.32L169.064,318.32L169.031,327.82L169.024,329.57L169.022,330.07L169.02,330.21L169.971,330.21L169.971,330.07L169.97,329.57L169.965,327.82L169.934,318.57L169.809,304.32L169.781,300.32L169.669,288.82L169.62,282.82L169.536,270.82L169.494,263.57Z
M170.511,330.66L170.511,330.21L170.515,329.82L170.517,329.07L170.519,324.57L170.517,300.32L170.572,280.32L170.632,263.57L170.621,256.32L170.635,240.82L170.672,222.82L170.277,169.07L170.298,154.07L171.185,154.07L171.245,169.07L172.221,222.82L172.3,240.82L172.325,256.32L172.318,263.57L172.389,280.32L172.453,300.57L172.456,324.57L172.453,329.07L172.452,329.82L172.448,330.21L172.448,330.66Z
M171.475,263.56L171.475,263.57L171.437,270.82L171.375,280.32L171.312,288.57L171.202,300.32L171.174,304.32L171.053,318.32L171.019,327.82L171.011,329.57L171.007,330.07L171.004,330.21L171.955,330.21L171.957,330.07L171.957,329.57L171.953,327.82L171.923,318.57L171.797,304.32L171.768,300.32L171.655,288.82L171.605,282.82L171.519,270.82L171.476,263.57Z
M172.479,330.66L172.479,330.21L172.486,329.82L172.489,329.07L172.494,324.57L172.49,300.32L172.541,280.32L172.598,263.57L172.584,256.32L172.595,240.82L172.621,222.82L172.183,169.07L172.208,154.07L173.095,154.07L173.151,169.07L174.169,222.82L174.26,240.82L174.289,256.32L174.283,263.57L174.357,280.32L174.426,300.57L174.43,324.57L174.426,329.07L174.423,329.82L174.416,330.21L174.416,330.66Z
M173.441,263.56L173.44,263.57L173.403,270.82L173.344,280.32L173.283,288.57L173.174,300.32L173.148,304.32L173.028,318.32L172.993,327.82L172.983,329.57L172.978,330.07L172.972,330.21L173.923,330.21L173.927,330.07L173.929,329.57L173.927,327.82L173.898,318.57L173.77,304.32L173.741,300.32L173.625,288.82L173.575,282.82L173.485,270.82L173.441,263.57Z
M174.428,330.66L174.428,330.21L174.439,329.82L174.444,329.07L174.45,324.57L174.444,300.32L174.49,280.32L174.543,263.57L174.528,256.32L174.534,240.82L174.547,222.82L174.112,169.07L174.142,154.07L175.029,154.07L175.08,169.07L176.096,222.82L176.199,240.82L176.232,256.32L176.229,263.57L176.307,280.32L176.38,300.57L176.387,324.57L176.38,329.07L176.376,329.82L176.365,330.21L176.365,330.66Z
M175.386,263.56L175.386,263.57L175.351,270.82L175.294,280.32L175.234,288.57L175.129,300.32L175.103,304.32L174.985,318.32L174.948,327.82L174.936,329.57L174.929,330.07L174.921,330.21L175.872,330.21L175.879,330.07L175.882,329.57L175.883,327.82L175.855,318.57L175.725,304.32L175.695,300.32L175.577,288.82L175.525,282.82L175.433,270.82L175.387,263.57Z
M176.355,330.66L176.355,330.21L176.37,329.82L176.377,329.07L176.386,324.57L176.377,300.32L176.418,280.32L176.466,263.57L176.449,256.32L176.45,240.82L176.449,222.82L176.064,169.07L176.097,154.07L176.984,154.07L177.032,169.07L177.998,222.82L178.116,240.82L178.153,256.32L178.152,263.57L178.235,280.32L178.313,300.57L178.323,324.57L178.313,329.07L178.307,329.82L178.292,330.21L178.292,330.66Z
M177.309,263.56L177.309,263.57L177.276,270.82L177.222,280.32L177.164,288.57L177.061,300.32L177.036,304.32L176.921,318.32L176.883,327.82L176.868,329.57L176.859,330.07L176.848,330.21L177.799,330.21L177.809,330.07L177.814,329.57L177.817,327.82L177.791,318.57L177.659,304.32L177.628,300.32L177.507,288.82L177.453,282.82L177.358,270.82L177.31,263.57Z
M178.258,330.66L178.258,330.21L178.277,329.82L178.286,329.07L178.298,324.57L178.286,300.32L178.322,280.32L178.364,263.57L178.345,256.32L178.341,240.82L178.325,222.82L178.034,169.07L178.071,154.07L178.958,154.07L179.002,169.07L179.873,222.82L180.007,240.82L180.049,256.32L180.05,263.57L180.138,280.32L180.222,300.57L180.235,324.57L180.222,329.07L180.214,329.82L180.194,330.21L180.194,330.66Z
M179.207,263.56L179.207,263.57L179.176,270.82L179.125,280.32L179.07,288.57L178.97,300.32L178.946,304.32L178.833,318.32L178.793,327.82L178.776,329.57L178.765,330.07L178.751,330.21L179.701,330.21L179.714,330.07L179.722,329.57L179.728,327.82L179.704,318.57L179.569,304.32L179.537,300.32L179.413,288.82L179.358,282.82L179.258,270.82L179.208,263.57Z
M180.134,330.66L180.134,330.21L180.158,329.82L180.169,329.07L180.184,324.57L180.169,300.32L180.198,280.32L180.236,263.57L180.214,256.32L180.204,240.82L180.174,222.82L180.019,169.07L180.059,154.07L180.946,154.07L180.987,169.07L181.723,222.82L181.87,240.82L181.918,256.32L181.921,263.57L182.015,280.32L182.105,300.57L182.121,324.57L182.105,329.07L182.095,329.82L182.07,330.21L182.07,330.66Z
M181.079,263.56L181.078,263.57L181.05,270.82L181.002,280.32L180.949,288.57L180.853,300.32L180.83,304.32L180.72,318.32L180.678,327.82L180.658,329.57L180.644,330.07L180.627,330.21L181.577,330.21L181.594,330.07L181.604,329.57L181.612,327.82L181.59,318.57L181.453,304.32L181.42,300.32L181.293,288.82L181.235,282.82L181.132,270.82L181.079,263.57Z
M181.984,330.66L181.984,330.21L182.011,329.82L182.024,329.07L182.043,324.57L182.023,300.32L182.049,280.32L182.085,263.57L182.063,256.32L182.055,240.82L182.04,222.82L182.016,169.07L182.057,154.07L182.943,154.07L182.984,169.07L183.589,222.82L183.721,240.82L183.767,256.32L183.77,263.57L183.866,280.32L183.96,300.57L183.979,324.57L183.96,329.07L183.948,329.82L183.92,330.21L183.92,330.66Z
M182.927,263.56L182.927,263.57L182.899,270.82L182.852,280.32L182.801,288.57L182.708,300.32L182.686,304.32L182.579,318.32L182.534,327.82L182.512,329.57L182.496,330.07L182.477,330.21L183.427,330.21L183.445,330.07L183.458,329.57L183.469,327.82L183.449,318.57L183.309,304.32L183.274,300.32L183.144,288.82L183.086,282.82L182.981,270.82L182.928,263.57Z
M183.849,330.66L183.849,330.21L183.871,329.82L183.881,329.07L183.897,324.57L183.881,300.32L183.913,280.32L183.955,263.57L183.935,256.32L183.933,240.82L183.934,222.82L184.014,169.07L184.053,154.07L184.94,154.07L184.982,169.07L185.482,222.82L185.599,240.82L185.639,256.32L185.64,263.57L185.73,280.32L185.818,300.57L185.834,324.57L185.818,329.07L185.808,329.82L185.786,330.21L185.786,330.66Z
M184.797,263.56L184.797,263.57L184.767,270.82L184.716,280.32L184.663,288.57L184.566,300.32L184.543,304.32L184.433,318.32L184.39,327.82L184.371,329.57L184.357,330.07L184.342,330.21L185.292,330.21L185.307,330.07L185.317,329.57L185.325,327.82L185.303,318.57L185.165,304.32L185.132,300.32L185.006,288.82L184.949,282.82L184.849,270.82L184.798,263.57Z
M185.742,330.66L185.742,330.21L185.759,329.82L185.767,329.07L185.78,324.57L185.767,300.32L185.805,280.32L185.852,263.57L185.835,256.32L185.838,240.82L185.852,222.82L186.001,169.07L186.038,154.07L186.925,154.07L186.969,169.07L187.401,222.82L187.503,240.82L187.539,256.32L187.538,263.57L187.622,280.32L187.704,300.57L187.716,324.57L187.704,329.07L187.696,329.82L187.678,330.21L187.678,330.66Z
M186.695,263.56L186.694,263.57L186.662,270.82L186.608,280.32L186.552,288.57L186.452,300.32L186.428,304.32L186.315,318.32L186.275,327.82L186.258,329.57L186.247,330.07L186.235,330.21L187.185,330.21L187.197,330.07L187.204,329.57L187.209,327.82L187.185,318.57L187.05,304.32L187.018,300.32L186.895,288.82L186.84,282.82L186.744,270.82L186.695,263.57Z
M187.66,330.66L187.66,330.21L187.673,329.82L187.679,329.07L187.688,324.57L187.679,300.32L187.722,280.32L187.774,263.57L187.759,256.32L187.766,240.82L187.794,222.82L187.974,169.07L188.008,154.07L188.895,154.07L188.942,169.07L189.342,222.82L189.432,240.82L189.463,256.32L189.46,263.57L189.539,280.32L189.615,300.57L189.625,324.57L189.615,329.07L189.609,329.82L189.596,330.21L189.596,330.66Z
M188.617,263.56L188.616,263.57L188.582,270.82L188.526,280.32L188.467,288.57L188.364,300.32L188.339,304.32L188.223,318.32L188.185,327.82L188.171,329.57L188.162,330.07L188.153,330.21L189.103,330.21L189.112,330.07L189.117,329.57L189.119,327.82L189.093,318.57L188.961,304.32L188.93,300.32L188.81,288.82L188.757,282.82L188.664,270.82L188.617,263.57Z
M189.601,330.66L189.601,330.21L189.61,329.82L189.614,329.07L189.621,324.57L189.614,300.32L189.662,280.32L189.718,263.57L189.705,256.32L189.717,240.82L189.756,222.82L189.929,169.07L189.959,154.07L190.846,154.07L190.897,169.07L191.304,222.82L191.382,240.82L191.409,256.32L191.404,263.57L191.479,280.32L191.551,300.57L191.557,324.57L191.551,329.07L191.547,329.82L191.537,330.21L191.537,330.66Z
M190.561,263.56L190.561,263.57L190.524,270.82L190.466,280.32L190.405,288.57L190.299,300.32L190.273,304.32L190.156,318.32L190.119,327.82L190.107,329.57L190.1,330.07L190.094,330.21L191.044,330.21L191.05,330.07L191.053,329.57L191.053,327.82L191.026,318.57L190.896,304.32L190.865,300.32L190.748,288.82L190.697,282.82L190.606,270.82L190.562,263.57Z
M191.562,330.66L191.562,330.21L191.568,329.82L191.57,329.07L191.575,324.57L191.571,300.32L191.623,280.32L191.683,263.57L191.671,256.32L191.686,240.82L191.734,222.82L191.862,169.07L191.888,154.07L192.775,154.07L192.83,169.07L193.283,222.82L193.352,240.82L193.375,256.32L193.369,263.57L193.44,280.32L193.507,300.57L193.511,324.57L193.507,329.07L193.504,329.82L193.499,330.21L193.499,330.66Z
M192.526,263.56L192.525,263.57L192.487,270.82L192.426,280.32L192.364,288.57L192.255,300.32L192.229,304.32L192.109,318.32L192.074,327.82L192.064,329.57L192.059,330.07L192.055,330.21L193.006,330.21L193.009,330.07L193.01,329.57L193.008,327.82L192.979,318.57L192.851,304.32L192.822,300.32L192.707,288.82L192.657,282.82L192.569,270.82L192.526,263.57Z
M193.541,330.66L193.541,330.21L193.543,329.82L193.545,329.07L193.547,324.57L193.545,300.32L193.601,280.32L193.664,263.57L193.654,256.32L193.671,240.82L193.726,222.82L193.772,169.07L193.793,154.07L194.68,154.07L194.74,169.07L195.275,222.82L195.337,240.82L195.358,256.32L195.35,263.57L195.418,280.32L195.481,300.57L195.484,324.57L195.481,329.07L195.48,329.82L195.477,330.21L195.477,330.66Z
M194.507,263.56L194.506,263.57L194.467,270.82L194.404,280.32L194.341,288.57L194.23,300.32L194.202,304.32L194.081,318.32L194.047,327.82L194.039,329.57L194.036,330.07L194.034,330.21L194.984,330.21L194.986,330.07L194.985,329.57L194.981,327.82L194.952,318.57L194.825,304.32L194.796,300.32L194.683,288.82L194.634,282.82L194.549,270.82L194.507,263.57Z
M195.532,330.66L195.532,330.21L195.533,329.82L195.534,329.07L195.534,324.57L195.534,300.32L195.592,280.32L195.657,263.57L195.648,256.32L195.667,240.82L195.725,222.82L195.655,169.07L195.671,154.07L196.558,154.07L196.623,169.07L197.274,222.82L197.333,240.82L197.352,256.32L197.343,263.57L197.409,280.32L197.47,300.57L197.471,324.57L197.47,329.07L197.47,329.82L197.469,330.21L197.469,330.66Z
M196.5,263.56L196.5,263.57L196.459,270.82L196.396,280.32L196.331,288.57L196.219,300.32L196.191,304.32L196.068,318.32L196.035,327.82L196.028,329.57L196.026,330.07L196.025,330.21L196.976,330.21L196.976,330.07L196.975,329.57L196.969,327.82L196.939,318.57L196.813,304.32L196.785,300.32L196.674,288.82L196.625,282.82L196.542,270.82L196.501,263.57Z
M197.531,330.66L197.531,330.21L197.532,329.82L197.532,329.07L197.532,324.57L197.532,300.32L197.591,280.32L197.656,263.57L197.647,256.32L197.665,240.82L197.719,222.82L197.511,169.07L197.523,154.07L198.41,154.07L198.479,169.07L199.267,222.82L199.331,240.82L199.351,256.32L199.342,263.57L199.408,280.32L199.468,300.57L199.468,324.57L199.468,329.07L199.468,329.82L199.468,330.21L199.468,330.66Z
M198.499,263.56L198.499,263.57L198.458,270.82L198.395,280.32L198.33,288.57L198.217,300.32L198.189,304.32L198.066,318.32L198.033,327.82L198.027,329.57L198.025,330.07L198.024,330.21L198.975,330.21L198.975,330.07L198.973,329.57L198.967,327.82L198.936,318.57L198.811,304.32L198.783,300.32L198.672,288.82L198.624,282.82L198.541,270.82L198.5,263.57Z
M199.525,330.66L199.525,330.21L199.527,329.82L199.528,329.07L199.529,324.57L199.528,300.32L199.585,280.32L199.648,263.57L199.637,256.32L199.654,240.82L199.699,222.82L199.368,169.07L199.385,154.07L200.272,154.07L200.336,169.07L201.247,222.82L201.319,240.82L201.342,256.32L201.334,263.57L201.402,280.32L201.464,300.57L201.465,324.57L201.464,329.07L201.463,329.82L201.461,330.21L201.461,330.66Z
M200.491,263.56L200.49,263.57L200.451,270.82L200.388,280.32L200.324,288.57L200.213,300.32L200.185,304.32L200.063,318.32L200.029,327.82L200.022,329.57L200.02,330.07L200.018,330.21L200.968,330.21L200.969,330.07L200.968,329.57L200.964,327.82L200.933,318.57L200.807,304.32L200.779,300.32L200.667,288.82L200.618,282.82L200.533,270.82L200.491,263.57Z
M201.505,330.66L201.505,330.21L201.51,329.82L201.512,329.07L201.515,324.57L201.512,300.32L201.566,280.32L201.626,263.57L201.614,256.32L201.627,240.82L201.663,222.82L201.253,169.07L201.275,154.07L202.162,154.07L202.221,169.07L203.211,222.82L203.293,240.82L203.318,256.32L203.312,263.57L203.383,280.32L203.449,300.57L203.451,324.57L203.449,329.07L203.447,329.82L203.442,330.21L203.442,330.66Z
M202.469,263.56L202.469,263.57L202.43,270.82L202.37,280.32L202.307,288.57L202.197,300.32L202.17,304.32L202.049,318.32L202.014,327.82L202.006,329.57L202.002,330.07L201.998,330.21L202.949,330.21L202.952,330.07L202.952,329.57L202.949,327.82L202.919,318.57L202.792,304.32L202.763,300.32L202.65,288.82L202.6,282.82L202.513,270.82L202.47,263.57Z
M203.47,330.66L203.47,330.21L203.477,329.82L203.481,329.07L203.485,324.57L203.481,300.32L203.531,280.32L203.587,263.57L203.573,256.32L203.583,240.82L203.606,222.82L203.165,169.07L203.191,154.07L204.078,154.07L204.133,169.07L205.155,222.82L205.248,240.82L205.278,256.32L205.273,263.57L205.348,280.32L205.417,300.57L205.422,324.57L205.417,329.07L205.414,329.82L205.406,330.21L205.406,330.66Z
M204.43,263.56L204.429,263.57L204.393,270.82L204.334,280.32L204.273,288.57L204.166,300.32L204.139,304.32L204.02,318.32L203.984,327.82L203.974,329.57L203.968,330.07L203.963,330.21L204.913,330.21L204.918,330.07L204.92,329.57L204.919,327.82L204.89,318.57L204.762,304.32L204.732,300.32L204.616,288.82L204.565,282.82L204.475,270.82L204.43,263.57Z
M205.414,330.66L205.414,330.21L205.425,329.82L205.43,329.07L205.438,324.57L205.43,300.32L205.476,280.32L205.528,263.57L205.512,256.32L205.517,240.82L205.527,222.82L205.099,169.07L205.13,154.07L206.017,154.07L206.067,169.07L207.076,222.82L207.183,240.82L207.216,256.32L207.213,263.57L207.293,280.32L207.367,300.57L207.374,324.57L207.367,329.07L207.362,329.82L207.35,330.21L207.35,330.66Z
M206.371,263.56L206.37,263.57L206.336,270.82L206.279,280.32L206.22,288.57L206.115,300.32L206.089,304.32L205.972,318.32L205.935,327.82L205.923,329.57L205.915,330.07L205.907,330.21L206.857,330.21L206.865,330.07L206.869,329.57L206.87,327.82L206.843,318.57L206.712,304.32L206.682,300.32L206.563,288.82L206.511,282.82L206.418,270.82L206.371,263.57Z
M207.335,330.66L207.335,330.21L207.351,329.82L207.358,329.07L207.368,324.57L207.358,300.32L207.398,280.32L207.445,263.57L207.428,256.32L207.428,240.82L207.423,222.82L207.055,169.07L207.09,154.07L207.977,154.07L208.023,169.07L208.972,222.82L209.093,240.82L209.132,256.32L209.131,263.57L209.215,280.32L209.295,300.57L209.305,324.57L209.295,329.07L209.288,329.82L209.272,330.21L209.272,330.66Z
M208.288,263.56L208.288,263.57L208.255,270.82L208.202,280.32L208.145,288.57L208.043,300.32L208.018,304.32L207.903,318.32L207.864,327.82L207.85,329.57L207.84,330.07L207.828,330.21L208.779,330.21L208.789,330.07L208.796,329.57L208.799,327.82L208.773,318.57L208.641,304.32L208.609,300.32L208.488,288.82L208.434,282.82L208.338,270.82L208.289,263.57Z
M209.232,330.66L209.232,330.21L209.253,329.82L209.262,329.07L209.275,324.57L209.261,300.32L209.296,280.32L209.338,263.57L209.318,256.32L209.313,240.82L209.292,222.82L209.029,169.07L209.067,154.07L209.954,154.07L209.997,169.07L210.841,222.82L210.978,240.82L211.022,256.32L211.023,263.57L211.113,280.32L211.198,300.57L211.211,324.57L211.198,329.07L211.189,329.82L211.169,330.21L211.169,330.66Z
M210.181,263.56L210.18,263.57L210.15,270.82L210.099,280.32L210.045,288.57L209.946,300.32L209.922,304.32L209.81,318.32L209.769,327.82L209.752,329.57L209.74,330.07L209.725,330.21L210.676,330.21L210.689,330.07L210.698,329.57L210.704,327.82L210.68,318.57L210.545,304.32L210.513,300.32L210.388,288.82L210.332,282.82L210.232,270.82L210.181,263.57Z
M211.102,330.66L211.102,330.21L211.127,329.82L211.138,329.07L211.155,324.57L211.138,300.32L211.166,280.32L211.202,263.57L211.18,256.32L211.169,240.82L211.141,222.82L211.018,169.07L211.058,154.07L211.945,154.07L211.986,169.07L212.69,222.82L212.835,240.82L212.884,256.32L212.888,263.57L212.983,280.32L213.075,300.57L213.091,324.57L213.075,329.07L213.064,329.82L213.038,330.21L213.038,330.66Z
M212.045,263.56L212.045,263.57L212.017,270.82L211.97,280.32L211.918,288.57L211.823,300.32L211.8,304.32L211.69,318.32L211.648,327.82L211.627,329.57L211.613,330.07L211.595,330.21L212.545,330.21L212.562,330.07L212.574,329.57L212.582,327.82L212.561,318.57L212.423,304.32L212.389,300.32L212.261,288.82L212.203,282.82L212.099,270.82L212.046,263.57Z
M212.951,330.66L212.951,330.21L212.977,329.82L212.989,329.07L213.007,324.57L212.988,300.32L213.015,280.32L213.053,263.57L213.031,256.32L213.025,240.82L213.014,222.82L213.016,169.07L213.056,154.07L213.943,154.07L213.984,169.07L214.562,222.82L214.691,240.82L214.735,256.32L214.738,263.57L214.832,280.32L214.925,300.57L214.944,324.57L214.925,329.07L214.913,329.82L214.887,330.21L214.887,330.66Z
M213.895,263.56L213.895,263.57L213.867,270.82L213.819,280.32L213.767,288.57L213.673,300.32L213.651,304.32L213.543,318.32L213.499,327.82L213.477,329.57L213.462,330.07L213.444,330.21L214.394,330.21L214.411,330.07L214.423,329.57L214.434,327.82L214.413,318.57L214.273,304.32L214.239,300.32L214.11,288.82L214.052,282.82L213.949,270.82L213.896,263.57Z
M214.822,330.66L214.822,330.21L214.843,329.82L214.853,329.07L214.868,324.57L214.853,300.32L214.886,280.32L214.929,263.57L214.91,256.32L214.909,240.82L214.913,222.82L215.012,169.07L215.051,154.07L215.938,154.07L215.98,169.07L216.461,222.82L216.575,240.82L216.614,256.32L216.615,263.57L216.703,280.32L216.789,300.57L216.805,324.57L216.79,329.07L216.78,329.82L216.759,330.21L216.759,330.66Z
M215.772,263.56L215.771,263.57L215.741,270.82L215.69,280.32L215.635,288.57L215.538,300.32L215.514,304.32L215.403,318.32L215.362,327.82L215.343,329.57L215.33,330.07L215.315,330.21L216.266,330.21L216.28,330.07L216.289,329.57L216.296,327.82L216.274,318.57L216.137,304.32L216.104,300.32L215.978,288.82L215.922,282.82L215.823,270.82L215.772,263.57Z
M216.721,330.66L216.721,330.21L216.737,329.82L216.745,329.07L216.757,324.57L216.745,300.32L216.784,280.32L216.832,263.57L216.815,256.32L216.819,240.82L216.837,222.82L216.997,169.07L217.033,154.07L217.92,154.07L217.965,169.07L218.385,222.82L218.485,240.82L218.519,256.32L218.518,263.57L218.601,280.32L218.681,300.57L218.693,324.57L218.682,329.07L218.674,329.82L218.658,330.21L218.658,330.66Z
M217.675,263.56L217.674,263.57L217.641,270.82L217.587,280.32L217.531,288.57L217.43,300.32L217.405,304.32L217.292,318.32L217.252,327.82L217.236,329.57L217.226,330.07L217.214,330.21L218.165,330.21L218.175,330.07L218.182,329.57L218.186,327.82L218.162,318.57L218.028,304.32L217.996,300.32L217.874,288.82L217.819,282.82L217.723,270.82L217.675,263.57Z
M218.644,330.66L218.644,330.21L218.657,329.82L218.662,329.07L218.671,324.57L218.662,300.32L218.707,280.32L218.759,263.57L218.745,256.32L218.753,240.82L218.783,222.82L218.966,169.07L218.999,154.07L219.885,154.07L219.934,169.07L220.332,222.82L220.419,240.82L220.449,256.32L220.445,263.57L220.523,280.32L220.599,300.57L220.608,324.57L220.599,329.07L220.593,329.82L220.581,330.21L220.581,330.66Z
M219.602,263.56L219.602,263.57L219.567,270.82L219.51,280.32L219.451,288.57L219.347,300.32L219.322,304.32L219.206,318.32L219.168,327.82L219.154,329.57L219.146,330.07L219.138,330.21L220.088,330.21L220.096,330.07L220.1,329.57L220.102,327.82L220.076,318.57L219.944,304.32L219.913,300.32L219.794,288.82L219.741,282.82L219.649,270.82L219.603,263.57Z
M220.59,330.66L220.59,330.21L220.599,329.82L220.603,329.07L220.609,324.57L220.603,300.32L220.652,280.32L220.709,263.57L220.696,256.32L220.708,240.82L220.749,222.82L220.916,169.07L220.945,154.07L221.832,154.07L221.884,169.07L222.298,222.82L222.374,240.82L222.4,256.32L222.395,263.57L222.469,280.32L222.539,300.57L222.545,324.57L222.539,329.07L222.535,329.82L222.527,330.21L222.527,330.66Z
M221.552,263.56L221.551,263.57L221.514,270.82L221.455,280.32L221.394,288.57L221.287,300.32L221.261,304.32L221.143,318.32L221.107,327.82L221.095,329.57L221.089,330.07L221.083,330.21L222.034,330.21L222.039,330.07L222.042,329.57L222.041,327.82L222.013,318.57L221.884,304.32L221.854,300.32L221.737,288.82L221.686,282.82L221.596,270.82L221.552,263.57Z
M222.556,330.66L222.556,330.21L222.561,329.82L222.563,329.07L222.567,324.57L222.563,300.32L222.617,280.32L222.677,263.57L222.666,256.32L222.682,240.82L222.732,222.82L222.844,169.07L222.869,154.07L223.756,154.07L223.812,169.07L224.28,222.82L224.347,240.82L224.37,256.32L224.363,263.57L224.433,280.32L224.5,300.57L224.504,324.57L224.5,329.07L224.497,329.82L224.492,330.21L224.492,330.66Z
M223.52,263.56L223.52,263.57L223.481,270.82L223.42,280.32L223.357,288.57L223.248,300.32L223.221,304.32L223.101,318.32L223.066,327.82L223.057,329.57L223.053,330.07L223.049,330.21L223.999,330.21L224.002,330.07L224.003,329.57L224.001,327.82L223.972,318.57L223.844,304.32L223.814,300.32L223.7,288.82L223.65,282.82L223.563,270.82L223.521,263.57Z
M224.538,330.66L224.538,330.21L224.54,329.82L224.541,329.07L224.543,324.57L224.541,300.32L224.598,280.32L224.661,263.57L224.652,256.32L224.669,240.82L224.726,222.82L224.748,169.07L224.768,154.07L225.655,154.07L225.716,169.07L226.274,222.82L226.335,240.82L226.356,256.32L226.347,263.57L226.415,280.32L226.478,300.57L226.48,324.57L226.478,329.07L226.477,329.82L226.474,330.21L226.474,330.66Z
M225.504,263.56L225.504,263.57L225.464,270.82L225.401,280.32L225.337,288.57L225.226,300.32L225.199,304.32L225.077,318.32L225.043,327.82L225.036,329.57L225.033,330.07L225.031,330.21L225.981,330.21L225.982,330.07L225.982,329.57L225.978,327.82L225.947,318.57L225.821,304.32L225.792,300.32L225.68,288.82L225.631,282.82L225.546,270.82L225.505,263.57Z
M226.532,330.66L226.532,330.21L226.532,329.82L226.533,329.07L226.533,324.57L226.533,300.32L226.592,280.32L226.657,263.57L226.648,256.32L226.667,240.82L226.725,222.82L226.625,169.07L226.64,154.07L227.527,154.07L227.593,169.07L228.273,222.82L228.333,240.82L228.352,256.32L228.343,263.57L228.409,280.32L228.469,300.57L228.47,324.57L228.469,329.07L228.469,329.82L228.469,330.21L228.469,330.66Z
M227.5,263.56L227.5,263.57L227.459,270.82L227.395,280.32L227.33,288.57L227.218,300.32L227.19,304.32L227.067,318.32L227.034,327.82L227.028,329.57L227.026,330.07L227.025,330.21L227.975,330.21L227.975,330.07L227.974,329.57L227.968,327.82L227.937,318.57L227.812,304.32L227.784,300.32L227.673,288.82L227.625,282.82L227.541,270.82L227.501,263.57Z
M228.531,330.66L228.531,330.21L228.531,329.82L228.531,329.07L228.532,324.57L228.532,300.32L228.591,280.32L228.655,263.57L228.646,256.32L228.664,240.82L228.715,222.82L228.476,169.07L228.489,154.07L229.376,154.07L229.444,169.07L230.264,222.82L230.329,240.82L230.35,256.32L230.341,263.57L230.408,280.32L230.468,300.57L230.468,324.57L230.468,329.07L230.468,329.82L230.467,330.21L230.467,330.66Z
M229.498,263.56L229.498,263.57L229.458,270.82L229.394,280.32L229.329,288.57L229.217,300.32L229.189,304.32L229.066,318.32L229.033,327.82L229.027,329.57L229.025,330.07L229.024,330.21L229.974,330.21L229.974,330.07L229.973,329.57L229.967,327.82L229.936,318.57L229.811,304.32L229.783,300.32L229.672,288.82L229.624,282.82L229.54,270.82L229.499,263.57Z
M230.522,330.66L230.522,330.21L230.524,329.82L230.525,329.07L230.526,324.57L230.525,300.32L230.582,280.32L230.644,263.57L230.634,256.32L230.649,240.82L230.692,222.82L230.34,169.07L230.358,154.07L231.245,154.07L231.307,169.07L232.241,222.82L232.314,240.82L232.338,256.32L232.33,263.57L232.399,280.32L232.462,300.57L232.463,324.57L232.462,329.07L232.461,329.82L232.458,330.21L232.458,330.66Z
M231.487,263.56L231.487,263.57L231.448,270.82L231.385,280.32L231.322,288.57L231.21,300.32L231.183,304.32L231.061,318.32L231.027,327.82L231.02,329.57L231.017,330.07L231.015,330.21L231.965,330.21L231.966,330.07L231.966,329.57L231.961,327.82L231.931,318.57L231.805,304.32L231.777,300.32L231.664,288.82L231.615,282.82L231.53,270.82L231.488,263.57Z
M232.499,330.66L232.499,330.21L232.504,329.82L232.506,329.07L232.509,324.57L232.507,300.32L232.56,280.32L232.619,263.57L232.607,256.32L232.619,240.82L232.652,222.82L232.231,169.07L232.254,154.07L233.141,154.07L233.199,169.07L234.2,222.82L234.284,240.82L234.311,256.32L234.305,263.57L234.377,280.32L234.443,300.57L234.446,324.57L234.443,329.07L234.441,329.82L234.435,330.21L234.435,330.66Z
M233.462,263.56L233.461,263.57L233.424,270.82L233.363,280.32L233.301,288.57L233.191,300.32L233.164,304.32L233.044,318.32L233.009,327.82L233,329.57L232.996,330.07L232.992,330.21L233.942,330.21L233.946,330.07L233.947,329.57L233.943,327.82L233.914,318.57L233.787,304.32L233.758,300.32L233.644,288.82L233.594,282.82L233.506,270.82L233.462,263.57Z
M234.459,330.66L234.459,330.21L234.467,329.82L234.471,329.07L234.476,324.57L234.471,300.32L234.52,280.32L234.575,263.57L234.561,256.32L234.57,240.82L234.59,222.82L234.148,169.07L234.176,154.07L235.062,154.07L235.116,169.07L236.139,222.82L236.235,240.82L236.266,256.32L236.261,263.57L236.337,280.32L236.408,300.57L236.413,324.57L236.408,329.07L236.404,329.82L236.395,330.21L236.395,330.66Z
M235.418,263.56L235.418,263.57L235.382,270.82L235.324,280.32L235.263,288.57L235.156,300.32L235.13,304.32L235.011,318.32L234.975,327.82L234.964,329.57L234.958,330.07L234.952,330.21L235.902,330.21L235.908,330.07L235.91,329.57L235.909,327.82L235.881,318.57L235.752,304.32L235.722,300.32L235.606,288.82L235.555,282.82L235.464,270.82L235.419,263.57Z
M236.398,330.66L236.398,330.21L236.411,329.82L236.416,329.07L236.424,324.57L236.416,300.32L236.46,280.32L236.511,263.57L236.495,256.32L236.499,240.82L236.506,222.82L236.088,169.07L236.119,154.07L237.006,154.07L237.056,169.07L238.054,222.82L238.164,240.82L238.199,256.32L238.197,263.57L238.277,280.32L238.352,300.57L238.36,324.57L238.353,329.07L238.347,329.82L238.335,330.21L238.335,330.66Z
M237.354,263.56L237.353,263.57L237.32,270.82L237.264,280.32L237.205,288.57L237.101,300.32L237.075,304.32L236.959,318.32L236.921,327.82L236.908,329.57L236.9,330.07L236.891,330.21L237.842,330.21L237.85,330.07L237.854,329.57L237.855,327.82L237.829,318.57L237.698,304.32L237.667,300.32L237.548,288.82L237.495,282.82L237.402,270.82L237.355,263.57Z
M238.314,330.66L238.314,330.21L238.331,329.82L238.338,329.07L238.349,324.57L238.338,300.32L238.377,280.32L238.423,263.57L238.405,256.32L238.404,240.82L238.396,222.82L238.048,169.07L238.083,154.07L238.97,154.07L239.016,169.07L239.945,222.82L240.069,240.82L240.109,256.32L240.109,263.57L240.194,280.32L240.275,300.57L240.286,324.57L240.275,329.07L240.268,329.82L240.251,330.21L240.251,330.66Z
M239.266,263.56L239.266,263.57L239.234,270.82L239.181,280.32L239.125,288.57L239.023,300.32L238.999,304.32L238.884,318.32L238.845,327.82L238.83,329.57L238.819,330.07L238.807,330.21L239.758,330.21L239.769,330.07L239.776,329.57L239.779,327.82L239.754,318.57L239.621,304.32L239.589,300.32L239.467,288.82L239.413,282.82L239.316,270.82L239.267,263.57Z
M240.205,330.66L240.205,330.21L240.227,329.82L240.236,329.07L240.25,324.57L240.236,300.32L240.269,280.32L240.309,263.57L240.289,256.32L240.283,240.82L240.258,222.82L240.026,169.07L240.064,154.07L240.951,154.07L240.994,169.07L241.807,222.82L241.948,240.82L241.993,256.32L241.995,263.57L242.086,280.32L242.172,300.57L242.186,324.57L242.173,329.07L242.163,329.82L242.141,330.21L242.141,330.66Z
M241.152,263.56L241.152,263.57L241.122,270.82L241.072,280.32L241.019,288.57L240.921,300.32L240.897,304.32L240.785,318.32L240.744,327.82L240.726,329.57L240.713,330.07L240.698,330.21L241.648,330.21L241.663,330.07L241.672,329.57L241.679,327.82L241.655,318.57L241.519,304.32L241.487,300.32L241.362,288.82L241.305,282.82L241.205,270.82L241.153,263.57Z
M242.068,330.66L242.068,330.21L242.095,329.82L242.106,329.07L242.124,324.57L242.106,300.32L242.133,280.32L242.168,263.57L242.144,256.32L242.134,240.82L242.11,222.82L242.017,169.07L242.057,154.07L242.944,154.07L242.985,169.07L243.658,222.82L243.799,240.82L243.848,256.32L243.853,263.57L243.95,280.32L244.043,300.57L244.06,324.57L244.043,329.07L244.031,329.82L244.004,330.21L244.004,330.66Z
M243.01,263.56L243.01,263.57L242.983,270.82L242.936,280.32L242.885,288.57L242.791,300.32L242.768,304.32L242.659,318.32L242.616,327.82L242.595,329.57L242.58,330.07L242.561,330.21L243.511,330.21L243.529,330.07L243.541,329.57L243.551,327.82L243.53,318.57L243.391,304.32L243.357,300.32L243.228,288.82L243.17,282.82L243.065,270.82L243.011,263.57Z
M243.919,330.66L243.919,330.21L243.944,329.82L243.955,329.07L243.973,324.57L243.955,300.32L243.984,280.32L244.022,263.57L244.001,256.32L243.996,240.82L243.989,222.82L244.016,169.07L244.056,154.07L244.943,154.07L244.984,169.07L245.537,222.82L245.662,240.82L245.705,256.32L245.708,263.57L245.8,280.32L245.892,300.57L245.91,324.57L245.892,329.07L245.881,329.82L245.856,330.21L245.856,330.66Z
M244.865,263.56L244.864,263.57L244.836,270.82L244.787,280.32L244.735,288.57L244.64,300.32L244.617,304.32L244.509,318.32L244.465,327.82L244.444,329.57L244.429,330.07L244.412,330.21L245.362,330.21L245.379,330.07L245.39,329.57L245.4,327.82L245.379,318.57L245.24,304.32L245.206,300.32L245.078,288.82L245.02,282.82L244.918,270.82L244.865,263.57Z
M245.797,330.66L245.797,330.21L245.817,329.82L245.826,329.07L245.84,324.57L245.826,300.32L245.861,280.32L245.905,263.57L245.886,256.32L245.887,240.82L245.894,222.82L246.01,169.07L246.048,154.07L246.935,154.07L246.978,169.07L247.442,222.82L247.552,240.82L247.59,256.32L247.59,263.57L247.677,280.32L247.762,300.57L247.777,324.57L247.763,329.07L247.754,329.82L247.734,330.21L247.734,330.66Z
M246.748,263.56L246.747,263.57L246.716,270.82L246.664,280.32L246.609,288.57L246.511,300.32L246.487,304.32L246.376,318.32L246.334,327.82L246.316,329.57L246.304,330.07L246.29,330.21L247.24,330.21L247.254,330.07L247.262,329.57L247.269,327.82L247.246,318.57L247.11,304.32L247.077,300.32L246.952,288.82L246.897,282.82L246.798,270.82L246.748,263.57Z
M247.701,330.66L247.701,330.21L247.717,329.82L247.724,329.07L247.735,324.57L247.724,300.32L247.764,280.32L247.813,263.57L247.797,256.32L247.802,240.82L247.823,222.82L247.991,169.07L248.027,154.07L248.913,154.07L248.959,169.07L249.371,222.82L249.468,240.82L249.501,256.32L249.499,263.57L249.581,280.32L249.66,300.57L249.672,324.57L249.661,329.07L249.654,329.82L249.638,330.21L249.638,330.66Z
M248.656,263.56L248.656,263.57L248.622,270.82L248.568,280.32L248.511,288.57L248.409,300.32L248.384,304.32L248.27,318.32L248.231,327.82L248.215,329.57L248.205,330.07L248.195,330.21L249.145,330.21L249.155,330.07L249.161,329.57L249.165,327.82L249.14,318.57L249.007,304.32L248.975,300.32L248.853,288.82L248.8,282.82L248.704,270.82L248.657,263.57Z
M249.63,330.66L249.63,330.21L249.642,329.82L249.647,329.07L249.655,324.57L249.647,300.32L249.692,280.32L249.746,263.57L249.732,256.32L249.741,240.82L249.774,222.82L249.956,169.07L249.988,154.07L250.875,154.07L250.924,169.07L251.323,222.82L251.407,240.82L251.436,256.32L251.432,263.57L251.509,280.32L251.583,300.57L251.591,324.57L251.583,329.07L251.578,329.82L251.567,330.21L251.567,330.66Z
M250.589,263.56L250.588,263.57L250.553,270.82L250.496,280.32L250.436,288.57L250.332,300.32L250.306,304.32L250.19,318.32L250.152,327.82L250.139,329.57L250.131,330.07L250.123,330.21L251.074,330.21L251.081,330.07L251.085,329.57L251.086,327.82L251.06,318.57L250.928,304.32L250.898,300.32L250.779,288.82L250.727,282.82L250.635,270.82L250.589,263.57Z
M251.581,330.66L251.581,330.21L251.588,329.82L251.592,329.07L251.597,324.57L251.592,300.32L251.642,280.32L251.7,263.57L251.688,256.32L251.701,240.82L251.744,222.82L251.901,169.07L251.929,154.07L252.816,154.07L252.869,169.07L253.292,222.82L253.366,240.82L253.392,256.32L253.386,263.57L253.459,280.32L253.528,300.57L253.534,324.57L253.528,329.07L253.525,329.82L253.518,330.21L253.518,330.66Z
M252.543,263.56L252.542,263.57L252.505,270.82L252.446,280.32L252.384,288.57L252.277,300.32L252.25,304.32L252.132,318.32L252.096,327.82L252.085,329.57L252.079,330.07L252.074,330.21L253.024,330.21L253.029,330.07L253.031,329.57L253.03,327.82L253.002,318.57L252.873,304.32L252.843,300.32L252.727,288.82L252.676,282.82L252.587,270.82L252.543,263.57Z
M253.55,330.66L253.55,330.21L253.555,329.82L253.557,329.07L253.56,324.57L253.557,300.32L253.611,280.32L253.672,263.57L253.662,256.32L253.678,240.82L253.729,222.82L253.824,169.07L253.848,154.07L254.735,154.07L254.792,169.07L255.278,222.82L255.343,240.82L255.366,256.32L255.358,263.57L255.428,280.32L255.493,300.57L255.497,324.57L255.493,329.07L255.491,329.82L255.487,330.21L255.487,330.66Z
M254.515,263.56L254.515,263.57L254.476,270.82L254.415,280.32L254.352,288.57L254.242,300.32L254.215,304.32L254.095,318.32L254.059,327.82L254.051,329.57L254.047,330.07L254.043,330.21L254.994,330.21L254.996,330.07L254.997,329.57L254.994,327.82L254.965,318.57L254.837,304.32L254.808,300.32L254.694,288.82L254.645,282.82L254.558,270.82L254.516,263.57Z
M255.535,330.66L255.535,330.21L255.537,329.82L255.538,329.07L255.54,324.57L255.538,300.32L255.596,280.32L255.66,263.57L255.65,256.32L255.668,240.82L255.726,222.82L255.722,169.07L255.741,154.07L256.628,154.07L256.69,169.07L257.274,222.82L257.334,240.82L257.354,256.32L257.345,263.57L257.413,280.32L257.475,300.57L257.476,324.57L257.475,329.07L257.474,329.82L257.472,330.21L257.472,330.66Z
M256.503,263.56L256.502,263.57L256.462,270.82L256.399,280.32L256.335,288.57L256.223,300.32L256.196,304.32L256.074,318.32L256.04,327.82L256.033,329.57L256.03,330.07L256.029,330.21L256.979,330.21L256.98,330.07L256.979,329.57L256.974,327.82L256.944,318.57L256.818,304.32L256.79,300.32L256.677,288.82L256.629,282.82L256.544,270.82L256.503,263.57Z
M257.532,330.66L257.532,330.21L257.532,329.82L257.532,329.07L257.532,324.57L257.532,300.32L257.592,280.32L257.657,263.57L257.648,256.32L257.667,240.82L257.724,222.82L257.593,169.07L257.607,154.07L258.494,154.07L258.561,169.07L259.272,222.82L259.333,240.82L259.352,256.32L259.343,263.57L259.408,280.32L259.469,300.57L259.469,324.57L259.469,329.07L259.468,329.82L259.468,330.21L259.468,330.66Z
M258.5,263.56L258.499,263.57L258.459,270.82L258.395,280.32L258.33,288.57L258.217,300.32L258.189,304.32L258.066,318.32L258.033,327.82L258.027,329.57L258.025,330.07L258.025,330.21L258.975,330.21L258.975,330.07L258.973,329.57L258.968,327.82L258.937,318.57L258.812,304.32L258.783,300.32L258.673,288.82L258.624,282.82L258.541,270.82L258.501,263.57Z
M259.53,330.66L259.53,330.21L259.531,329.82L259.531,329.07L259.531,324.57L259.531,300.32L259.59,280.32L259.654,263.57L259.644,256.32L259.661,240.82L259.711,222.82L259.442,169.07L259.457,154.07L260.344,154.07L260.41,169.07L261.26,222.82L261.327,240.82L261.348,256.32L261.34,263.57L261.407,280.32L261.467,300.57L261.468,324.57L261.467,329.07L261.467,329.82L261.466,330.21L261.466,330.66Z
M260.497,263.56L260.496,263.57L260.456,270.82L260.393,280.32L260.328,288.57L260.216,300.32L260.188,304.32L260.065,318.32L260.032,327.82L260.026,329.57L260.024,330.07L260.023,330.21L260.973,330.21L260.973,330.07L260.972,329.57L260.967,327.82L260.935,318.57L260.81,304.32L260.782,300.32L260.671,288.82L260.623,282.82L260.539,270.82L260.497,263.57Z
M261.518,330.66L261.518,330.21L261.521,329.82L261.522,329.07L261.524,324.57L261.522,300.32L261.578,280.32L261.64,263.57L261.629,256.32L261.644,240.82L261.685,222.82L261.312,169.07L261.332,154.07L262.219,154.07L262.28,169.07L263.233,222.82L263.309,240.82L263.333,256.32L263.326,263.57L263.395,280.32L263.459,300.57L263.46,324.57L263.459,329.07L263.458,329.82L263.454,330.21L263.454,330.66Z
M262.483,263.56L262.482,263.57L262.444,270.82L262.382,280.32L262.318,288.57L262.207,300.32L262.18,304.32L262.058,318.32L262.024,327.82L262.017,329.57L262.013,330.07L262.011,330.21L262.961,330.21L262.963,330.07L262.963,329.57L262.959,327.82L262.928,318.57L262.802,304.32L262.774,300.32L262.661,288.82L262.612,282.82L262.526,270.82L262.483,263.57Z
M263.491,330.66L263.491,330.21L263.497,329.82L263.5,329.07L263.503,324.57L263.5,300.32L263.552,280.32L263.611,263.57L263.598,256.32L263.609,240.82L263.64,222.82L263.21,169.07L263.234,154.07L264.121,154.07L264.178,169.07L265.188,222.82L265.275,240.82L265.302,256.32L265.296,263.57L265.369,280.32L265.436,300.57L265.44,324.57L265.437,329.07L265.434,329.82L265.428,330.21L265.428,330.66Z
M264.454,263.56L264.453,263.57L264.416,270.82L264.356,280.32L264.294,288.57L264.185,300.32L264.158,304.32L264.038,318.32L264.003,327.82L263.994,329.57L263.989,330.07L263.984,330.21L264.935,330.21L264.939,330.07L264.94,329.57L264.937,327.82L264.908,318.57L264.78,304.32L264.751,300.32L264.637,288.82L264.586,282.82L264.498,270.82L264.454,263.57Z
M265.447,330.66L265.447,330.21L265.456,329.82L265.46,329.07L265.466,324.57L265.46,300.32L265.509,280.32L265.563,263.57L265.548,256.32L265.556,240.82L265.573,222.82L265.132,169.07L265.161,154.07L266.048,154.07L266.1,169.07L267.122,222.82L267.221,240.82L267.252,256.32L267.249,263.57L267.325,280.32L267.397,300.57L267.403,324.57L267.397,329.07L267.393,329.82L267.383,330.21L267.383,330.66Z
M266.406,263.56L266.405,263.57L266.37,270.82L266.312,280.32L266.252,288.57L266.145,300.32L266.119,304.32L266.001,318.32L265.964,327.82L265.953,329.57L265.947,330.07L265.94,330.21L266.89,330.21L266.896,330.07L266.9,329.57L266.899,327.82L266.871,318.57L266.742,304.32L266.712,300.32L266.595,288.82L266.543,282.82L266.452,270.82L266.406,263.57Z
M267.381,330.66L267.381,330.21L267.395,329.82L267.4,329.07L267.409,324.57L267.4,300.32L267.444,280.32L267.493,263.57L267.477,256.32L267.48,240.82L267.483,222.82L267.077,169.07L267.11,154.07L267.996,154.07L268.045,169.07L269.032,222.82L269.145,240.82L269.181,256.32L269.179,263.57L269.26,280.32L269.337,300.57L269.346,324.57L269.337,329.07L269.331,329.82L269.318,330.21L269.318,330.66Z
M268.336,263.56L268.336,263.57L268.302,270.82L268.247,280.32L268.189,288.57L268.085,300.32L268.06,304.32L267.944,318.32L267.906,327.82L267.892,329.57L267.884,330.07L267.874,330.21L268.825,330.21L268.833,330.07L268.839,329.57L268.84,327.82L268.814,318.57L268.682,304.32L268.652,300.32L268.532,288.82L268.479,282.82L268.384,270.82L268.337,263.57Z
M269.292,330.66L269.292,330.21L269.31,329.82L269.317,329.07L269.329,324.57L269.317,300.32L269.355,280.32L269.4,263.57L269.381,256.32L269.379,240.82L269.367,222.82L269.042,169.07L269.077,154.07L269.964,154.07L270.01,169.07L270.916,222.82L271.044,240.82L271.085,256.32L271.085,263.57L271.172,280.32L271.254,300.57L271.265,324.57L271.254,329.07L271.246,329.82L271.228,330.21L271.228,330.66Z
M270.243,263.56L270.242,263.57L270.211,270.82L270.159,280.32L270.103,288.57L270.002,300.32L269.978,304.32L269.864,318.32L269.824,327.82L269.808,329.57L269.798,330.07L269.785,330.21L270.735,330.21L270.747,330.07L270.755,329.57L270.759,327.82L270.734,318.57L270.6,304.32L270.568,300.32L270.446,288.82L270.391,282.82L270.293,270.82L270.243,263.57Z
M271.176,330.66L271.176,330.21L271.199,329.82L271.209,329.07L271.224,324.57L271.209,300.32L271.241,280.32L271.28,263.57L271.259,256.32L271.251,240.82L271.223,222.82L271.023,169.07L271.061,154.07L271.948,154.07L271.991,169.07L272.772,222.82L272.916,240.82L272.963,256.32L272.966,263.57L273.057,280.32L273.145,300.57L273.16,324.57L273.146,329.07L273.136,329.82L273.113,330.21L273.113,330.66Z
M272.123,263.56L272.122,263.57L272.093,270.82L272.044,280.32L271.991,288.57L271.894,300.32L271.87,304.32L271.759,318.32L271.718,327.82L271.699,329.57L271.685,330.07L271.669,330.21L272.62,330.21L272.635,330.07L272.645,329.57L272.652,327.82L272.629,318.57L272.493,304.32L272.46,300.32L272.334,288.82L272.277,282.82L272.175,270.82L272.123,263.57Z
M273.033,330.66L273.033,330.21L273.061,329.82L273.073,329.07L273.091,324.57L273.073,300.32L273.098,280.32L273.132,263.57L273.109,256.32L273.1,240.82L273.08,222.82L273.016,169.07L273.057,154.07L273.944,154.07L273.984,169.07L274.628,222.82L274.766,240.82L274.813,256.32L274.818,263.57L274.915,280.32L275.009,300.57L275.028,324.57L275.01,329.07L274.997,329.82L274.969,330.21L274.969,330.66Z
M273.975,263.56L273.974,263.57L273.948,270.82L273.901,280.32L273.851,288.57L273.757,300.32L273.735,304.32L273.627,318.32L273.583,327.82L273.561,329.57L273.545,330.07L273.526,330.21L274.476,330.21L274.495,330.07L274.508,329.57L274.518,327.82L274.497,318.57L274.358,304.32L274.324,300.32L274.194,288.82L274.135,282.82L274.03,270.82L273.975,263.57Z
M274.889,330.66L274.889,330.21L274.913,329.82L274.924,329.07L274.94,324.57L274.923,300.32L274.953,280.32L274.993,263.57L274.973,256.32L274.969,240.82L274.965,222.82L275.015,169.07L275.055,154.07L275.942,154.07L275.983,169.07L276.513,222.82L276.635,240.82L276.677,256.32L276.679,263.57L276.77,280.32L276.86,300.57L276.877,324.57L276.86,329.07L276.849,329.82L276.825,330.21L276.825,330.66Z
M275.836,263.56L275.835,263.57L275.806,270.82L275.757,280.32L275.704,288.57L275.608,300.32L275.585,304.32L275.476,318.32L275.433,327.82L275.413,329.57L275.398,330.07L275.382,330.21L276.332,330.21L276.348,330.07L276.359,329.57L276.368,327.82L276.346,318.57L276.208,304.32L276.174,300.32L276.047,288.82L275.99,282.82L275.888,270.82L275.836,263.57Z
M276.773,330.66L276.773,330.21L276.792,329.82L276.801,329.07L276.814,324.57L276.8,300.32L276.836,280.32L276.882,263.57L276.864,256.32L276.865,240.82L276.876,222.82L277.007,169.07L277.044,154.07L277.931,154.07L277.975,169.07L278.424,222.82L278.531,240.82L278.568,256.32L278.567,263.57L278.653,280.32L278.737,300.57L278.751,324.57L278.737,329.07L278.729,329.82L278.71,330.21L278.71,330.66Z
M277.725,263.56L277.724,263.57L277.692,270.82L277.64,280.32L277.585,288.57L277.485,300.32L277.461,304.32L277.349,318.32L277.309,327.82L277.291,329.57L277.279,330.07L277.266,330.21L278.217,330.21L278.229,330.07L278.237,329.57L278.243,327.82L278.22,318.57L278.084,304.32L278.052,300.32L277.928,288.82L277.872,282.82L277.774,270.82L277.725,263.57Z
M278.683,330.66L278.683,330.21L278.698,329.82L278.704,329.07L278.715,324.57L278.704,300.32L278.746,280.32L278.796,263.57L278.78,256.32L278.786,240.82L278.81,222.82L278.985,169.07L279.019,154.07L279.906,154.07L279.953,169.07L280.359,222.82L280.452,240.82L280.485,256.32L280.482,263.57L280.563,280.32L280.641,300.57L280.651,324.57L280.641,329.07L280.634,329.82L280.62,330.21L280.62,330.66Z
M279.639,263.56L279.638,263.57L279.604,270.82L279.549,280.32L279.492,288.57L279.389,300.32L279.364,304.32L279.25,318.32L279.211,327.82L279.196,329.57L279.186,330.07L279.176,330.21L280.127,330.21L280.136,330.07L280.142,329.57L280.145,327.82L280.12,318.57L279.987,304.32L279.955,300.32L279.835,288.82L279.781,282.82L279.687,270.82L279.639,263.57Z
M280.617,330.66L280.617,330.21L280.628,329.82L280.632,329.07L280.64,324.57L280.632,300.32L280.679,280.32L280.734,263.57L280.72,256.32L280.73,240.82L280.766,222.82L280.946,169.07L280.977,154.07L281.864,154.07L281.914,169.07L282.314,222.82L282.396,240.82L282.424,256.32L282.42,263.57L282.496,280.32L282.569,300.57L282.577,324.57L282.569,329.07L282.564,329.82L282.554,330.21L282.554,330.66Z
M281.577,263.56L281.576,263.57L281.54,270.82L281.483,280.32L281.423,288.57L281.317,300.32L281.292,304.32L281.175,318.32L281.137,327.82L281.125,329.57L281.118,330.07L281.11,330.21L282.061,330.21L282.067,330.07L282.071,329.57L282.072,327.82L282.045,318.57L281.914,304.32L281.884,300.32L281.766,288.82L281.714,282.82L281.622,270.82L281.577,263.57Z
M282.572,330.66L282.572,330.21L282.579,329.82L282.582,329.07L282.587,324.57L282.582,300.32L282.634,280.32L282.692,263.57L282.68,256.32L282.694,240.82L282.739,222.82L282.886,169.07L282.913,154.07L283.8,154.07L283.854,169.07L284.288,222.82L284.359,240.82L284.384,256.32L284.378,263.57L284.45,280.32L284.519,300.57L284.524,324.57L284.519,329.07L284.516,329.82L284.509,330.21L284.509,330.66Z
M283.535,263.56L283.535,263.57L283.497,270.82L283.437,280.32L283.375,288.57L283.267,300.32L283.241,304.32L283.122,318.32L283.086,327.82L283.076,329.57L283.07,330.07L283.065,330.21L284.016,330.21L284.02,330.07L284.022,329.57L284.02,327.82L283.992,318.57L283.863,304.32L283.834,300.32L283.718,288.82L283.667,282.82L283.579,270.82L283.536,263.57Z
M284.546,330.66L284.546,330.21L284.549,329.82L284.551,329.07L284.554,324.57L284.551,300.32L284.606,280.32L284.668,263.57L284.658,256.32L284.674,240.82L284.728,222.82L284.803,169.07L284.826,154.07L285.713,154.07L285.771,169.07L286.276,222.82L286.34,240.82L286.362,256.32L286.354,263.57L286.423,280.32L286.488,300.57L286.491,324.57L286.488,329.07L286.486,329.82L286.482,330.21L286.482,330.66Z
M285.511,263.56L285.511,263.57L285.472,270.82L285.41,280.32L285.346,288.57L285.236,300.32L285.209,304.32L285.088,318.32L285.054,327.82L285.045,329.57L285.042,330.07L285.039,330.21L285.989,330.21L285.991,330.07L285.992,329.57L285.988,327.82L285.959,318.57L285.832,304.32L285.803,300.32L285.689,288.82L285.64,282.82L285.554,270.82L285.512,263.57Z
M286.534,330.66L286.534,330.21L286.535,329.82L286.536,329.07L286.537,324.57L286.536,300.32L286.594,280.32L286.658,263.57L286.649,256.32L286.668,240.82L286.726,222.82L286.695,169.07L286.713,154.07L287.6,154.07L287.663,169.07L288.274,222.82L288.333,240.82L288.353,256.32L288.344,263.57L288.411,280.32L288.472,300.57L288.474,324.57L288.472,329.07L288.472,329.82L288.47,330.21L288.47,330.66Z
M287.501,263.56L287.501,263.57L287.461,270.82L287.397,280.32L287.333,288.57L287.221,300.32L287.193,304.32L287.071,318.32L287.037,327.82L287.031,329.57L287.028,330.07L287.027,330.21L287.977,330.21L287.978,330.07L287.977,329.57L287.972,327.82L287.941,318.57L287.816,304.32L287.787,300.32L287.675,288.82L287.627,282.82L287.543,270.82L287.502,263.57Z
M288.532,330.66L288.532,330.21L288.532,329.82L288.532,329.07L288.532,324.57L288.532,300.32L288.592,280.32L288.657,263.57L288.648,256.32L288.667,240.82L288.722,222.82L288.56,169.07L288.572,154.07L289.459,154.07L289.528,169.07L290.27,222.82L290.332,240.82L290.352,256.32L290.343,263.57L290.408,280.32L290.468,300.57L290.468,324.57L290.468,329.07L290.468,329.82L290.468,330.21L290.468,330.66Z
M289.5,263.56L289.499,263.57L289.459,270.82L289.395,280.32L289.33,288.57L289.217,300.32L289.189,304.32L289.066,318.32L289.033,327.82L289.027,329.57L289.025,330.07L289.025,330.21L289.975,330.21L289.975,330.07L289.973,329.57L289.967,327.82L289.936,318.57L289.811,304.32L289.783,300.32L289.672,288.82L289.624,282.82L289.541,270.82L289.5,263.57Z
M290.528,330.66L290.528,330.21L290.529,329.82L290.53,329.07L290.53,324.57L290.53,300.32L290.588,280.32L290.652,263.57L290.642,256.32L290.659,240.82L290.707,222.82L290.41,169.07L290.426,154.07L291.313,154.07L291.378,169.07L292.255,222.82L292.324,240.82L292.346,256.32L292.338,263.57L292.405,280.32L292.466,300.57L292.467,324.57L292.466,329.07L292.466,329.82L292.465,330.21L292.465,330.66Z
M291.495,263.56L291.494,263.57L291.455,270.82L291.392,280.32L291.327,288.57L291.215,300.32L291.187,304.32L291.065,318.32L291.031,327.82L291.025,329.57L291.022,330.07L291.021,330.21L291.972,330.21L291.972,330.07L291.971,329.57L291.966,327.82L291.935,318.57L291.81,304.32L291.781,300.32L291.67,288.82L291.621,282.82L291.537,270.82L291.495,263.57Z
M292.513,330.66L292.513,330.21L292.517,329.82L292.518,329.07L292.521,324.57L292.519,300.32L292.574,280.32L292.635,263.57L292.623,256.32L292.637,240.82L292.676,222.82L292.287,169.07L292.308,154.07L293.195,154.07L293.255,169.07L294.225,222.82L294.303,240.82L294.327,256.32L294.321,263.57L294.391,280.32L294.455,300.57L294.457,324.57L294.455,329.07L294.454,329.82L294.45,330.21L294.45,330.66Z
M293.478,263.56L293.477,263.57L293.439,270.82L293.377,280.32L293.314,288.57L293.204,300.32L293.176,304.32L293.055,318.32L293.021,327.82L293.013,329.57L293.009,330.07L293.006,330.21L293.957,330.21L293.959,330.07L293.959,329.57L293.955,327.82L293.925,318.57L293.799,304.32L293.77,300.32L293.657,288.82L293.607,282.82L293.521,270.82L293.478,263.57Z
M294.483,330.66L294.483,330.21L294.49,329.82L294.493,329.07L294.497,324.57L294.493,300.32L294.544,280.32L294.602,263.57L294.589,256.32L294.599,240.82L294.627,222.82L294.19,169.07L294.215,154.07L295.102,154.07L295.158,169.07L296.175,222.82L296.264,240.82L296.293,256.32L296.287,263.57L296.361,280.32L296.429,300.57L296.433,324.57L296.429,329.07L296.426,329.82L296.42,330.21L296.42,330.66Z
M295.444,263.56L295.444,263.57L295.407,270.82L295.348,280.32L295.286,288.57L295.178,300.32L295.151,304.32L295.031,318.32L294.996,327.82L294.986,329.57L294.981,330.07L294.976,330.21L295.927,330.21L295.931,330.07L295.932,329.57L295.93,327.82L295.901,318.57L295.773,304.32L295.744,300.32L295.629,288.82L295.578,282.82L295.489,270.82L295.445,263.57Z
M296.434,330.66L296.434,330.21L296.444,329.82L296.449,329.07L296.455,324.57L296.449,300.32L296.496,280.32L296.549,263.57L296.534,256.32L296.54,240.82L296.555,222.82L296.118,169.07L296.147,154.07L297.034,154.07L297.086,169.07L298.104,222.82L298.206,240.82L298.238,256.32L298.235,263.57L298.313,280.32L298.385,300.57L298.392,324.57L298.385,329.07L298.381,329.82L298.37,330.21L298.37,330.66Z
M297.392,263.56L297.391,263.57L297.356,270.82L297.299,280.32L297.239,288.57L297.134,300.32L297.108,304.32L296.99,318.32L296.953,327.82L296.941,329.57L296.934,330.07L296.927,330.21L297.877,330.21L297.884,330.07L297.888,329.57L297.887,327.82L297.86,318.57L297.73,304.32L297.7,300.32L297.582,288.82L297.53,282.82L297.438,270.82L297.392,263.57Z
M298.363,330.66L298.363,330.21L298.378,329.82L298.384,329.07L298.393,324.57L298.384,300.32L298.426,280.32L298.474,263.57L298.457,256.32L298.459,240.82L298.459,222.82L298.067,169.07L298.101,154.07L298.988,154.07L299.035,169.07L300.008,222.82L300.124,240.82L300.161,256.32L300.16,263.57L300.243,280.32L300.32,300.57L300.329,324.57L300.32,329.07L300.314,329.82L300.3,330.21L300.3,330.66Z
M299.317,263.56L299.317,263.57L299.284,270.82L299.229,280.32L299.172,288.57L299.068,300.32L299.043,304.32L298.928,318.32L298.889,327.82L298.875,329.57L298.866,330.07L298.856,330.21L299.807,330.21L299.816,330.07L299.822,329.57L299.824,327.82L299.798,318.57L299.666,304.32L299.635,300.32L299.514,288.82L299.461,282.82L299.366,270.82L299.318,263.57Z
M300.268,330.66L300.268,330.21L300.287,329.82L300.295,329.07L300.307,324.57L300.295,300.32L300.331,280.32L300.375,263.57L300.356,256.32L300.352,240.82L300.337,222.82L300.036,169.07L300.072,154.07L300.959,154.07L301.004,169.07L301.886,222.82L302.018,240.82L302.06,256.32L302.061,263.57L302.148,280.32L302.232,300.57L302.244,324.57L302.232,329.07L302.224,329.82L302.204,330.21L302.204,330.66Z
M301.218,263.56L301.217,263.57L301.186,270.82L301.135,280.32L301.08,288.57L300.98,300.32L300.956,304.32L300.842,318.32L300.802,327.82L300.786,329.57L300.774,330.07L300.761,330.21L301.711,330.21L301.724,330.07L301.732,329.57L301.737,327.82L301.713,318.57L301.578,304.32L301.546,300.32L301.423,288.82L301.367,282.82L301.269,270.82L301.218,263.57Z
M302.146,330.66L302.146,330.21L302.17,329.82L302.181,329.07L302.196,324.57L302.18,300.32L302.211,280.32L302.249,263.57L302.227,256.32L302.218,240.82L302.188,222.82L302.02,169.07L302.059,154.07L302.946,154.07L302.988,169.07L303.736,222.82L303.883,240.82L303.931,256.32L303.934,263.57L304.028,280.32L304.117,300.57L304.133,324.57L304.117,329.07L304.107,329.82L304.083,330.21L304.083,330.66Z
M303.091,263.56L303.091,263.57L303.063,270.82L303.014,280.32L302.962,288.57L302.865,300.32L302.842,304.32L302.731,318.32L302.69,327.82L302.67,329.57L302.656,330.07L302.639,330.21L303.59,330.21L303.606,330.07L303.616,329.57L303.624,327.82L303.602,318.57L303.465,304.32L303.431,300.32L303.305,288.82L303.248,282.82L303.145,270.82L303.092,263.57Z
M303.997,330.66L303.997,330.21L304.025,329.82L304.038,329.07L304.057,324.57L304.038,300.32L304.063,280.32L304.098,263.57L304.076,256.32L304.068,240.82L304.051,222.82L304.016,169.07L304.057,154.07L304.943,154.07L304.984,169.07L305.6,222.82L305.733,240.82L305.78,256.32L305.784,263.57L305.879,280.32L305.974,300.57L305.994,324.57L305.975,329.07L305.962,329.82L305.934,330.21L305.934,330.66Z
M304.941,263.56L304.94,263.57L304.913,270.82L304.866,280.32L304.816,288.57L304.722,300.32L304.7,304.32L304.593,318.32L304.549,327.82L304.526,329.57L304.51,330.07L304.49,330.21L305.441,330.21L305.459,330.07L305.472,329.57L305.483,327.82L305.463,318.57L305.323,304.32L305.289,300.32L305.159,288.82L305.1,282.82L304.995,270.82L304.941,263.57Z
M305.86,330.66L305.86,330.21L305.883,329.82L305.893,329.07L305.909,324.57L305.893,300.32L305.924,280.32L305.965,263.57L305.946,256.32L305.943,240.82L305.942,222.82L306.014,169.07L306.054,154.07L306.941,154.07L306.982,169.07L307.491,222.82L307.609,240.82L307.65,256.32L307.651,263.57L307.741,280.32L307.829,300.57L307.846,324.57L307.83,329.07L307.819,329.82L307.797,330.21L307.797,330.66Z
M306.808,263.56L306.808,263.57L306.778,270.82L306.728,280.32L306.674,288.57L306.578,300.32L306.555,304.32L306.445,318.32L306.402,327.82L306.383,329.57L306.369,330.07L306.353,330.21L307.304,330.21L307.318,330.07L307.329,329.57L307.337,327.82L307.315,318.57L307.177,304.32L307.144,300.32L307.017,288.82L306.961,282.82L306.86,270.82L306.809,263.57Z
M307.75,330.66L307.75,330.21L307.768,329.82L307.777,329.07L307.789,324.57L307.776,300.32L307.814,280.32L307.86,263.57L307.843,256.32L307.845,240.82L307.859,222.82L308.003,169.07L308.04,154.07L308.927,154.07L308.971,169.07L309.407,222.82L309.511,240.82L309.547,256.32L309.546,263.57L309.63,280.32L309.713,300.57L309.726,324.57L309.713,329.07L309.705,329.82L309.687,330.21L309.687,330.66Z
M308.703,263.56L308.702,263.57L308.67,270.82L308.617,280.32L308.561,288.57L308.461,300.32L308.437,304.32L308.325,318.32L308.284,327.82L308.267,329.57L308.256,330.07L308.243,330.21L309.194,330.21L309.206,330.07L309.213,329.57L309.218,327.82L309.195,318.57L309.06,304.32L309.027,300.32L308.904,288.82L308.849,282.82L308.752,270.82L308.703,263.57Z
M309.666,330.66L309.666,330.21L309.68,329.82L309.686,329.07L309.696,324.57L309.686,300.32L309.729,280.32L309.78,263.57L309.765,256.32L309.772,240.82L309.798,222.82L309.977,169.07L310.011,154.07L310.898,154.07L310.945,169.07L311.347,222.82L311.437,240.82L311.469,256.32L311.466,263.57L311.546,280.32L311.622,300.57L311.632,324.57L311.623,329.07L311.616,329.82L311.603,330.21L311.603,330.66Z
M310.623,263.56L310.622,263.57L310.588,270.82L310.532,280.32L310.474,288.57L310.371,300.32L310.346,304.32L310.231,318.32L310.192,327.82L310.178,329.57L310.169,330.07L310.159,330.21L311.11,330.21L311.118,330.07L311.124,329.57L311.126,327.82L311.101,318.57L310.968,304.32L310.937,300.32L310.817,288.82L310.764,282.82L310.67,270.82L310.623,263.57Z
M311.605,330.66L311.605,330.21L311.615,329.82L311.619,329.07L311.626,324.57L311.619,300.32L311.667,280.32L311.723,263.57L311.709,256.32L311.72,240.82L311.758,222.82L311.934,169.07L311.964,154.07L312.851,154.07L312.902,169.07L313.307,222.82L313.386,240.82L313.414,256.32L313.408,263.57L313.484,280.32L313.556,300.57L313.563,324.57L313.556,329.07L313.551,329.82L313.542,330.21L313.542,330.66Z
M312.566,263.56L312.565,263.57L312.529,270.82L312.47,280.32L312.41,288.57L312.304,300.32L312.278,304.32L312.161,318.32L312.124,327.82L312.112,329.57L312.105,330.07L312.098,330.21L313.049,330.21L313.055,330.07L313.058,329.57L313.058,327.82L313.031,318.57L312.901,304.32L312.87,300.32L312.753,288.82L312.701,282.82L312.611,270.82L312.566,263.57Z
M313.565,330.66L313.565,330.21L313.571,329.82L313.574,329.07L313.578,324.57L313.574,300.32L313.626,280.32L313.685,263.57L313.674,256.32L313.688,240.82L313.736,222.82L313.869,169.07L313.895,154.07L314.782,154.07L314.837,169.07L315.284,222.82L315.354,240.82L315.378,256.32L315.371,263.57L315.443,280.32L315.51,300.57L315.515,324.57L315.51,329.07L315.507,329.82L315.502,330.21L315.502,330.66Z
M314.528,263.56L314.528,263.57L314.49,270.82L314.429,280.32L314.367,288.57L314.259,300.32L314.232,304.32L314.113,318.32L314.077,327.82L314.067,329.57L314.062,330.07L314.058,330.21L315.008,330.21L315.012,330.07L315.013,329.57L315.011,327.82L314.983,318.57L314.854,304.32L314.825,300.32L314.71,288.82L314.66,282.82L314.572,270.82L314.529,263.57Z
M315.542,330.66L315.542,330.21L315.545,329.82L315.546,329.07L315.549,324.57L315.547,300.32L315.602,280.32L315.665,263.57L315.655,256.32L315.672,240.82L315.727,222.82L315.781,169.07L315.803,154.07L316.69,154.07L316.749,169.07L317.275,222.82L317.337,240.82L317.359,256.32L317.351,263.57L317.419,280.32L317.483,300.57L317.485,324.57L317.483,329.07L317.482,329.82L317.479,330.21L317.479,330.66Z
M316.508,263.56L316.507,263.57L316.468,270.82L316.406,280.32L316.342,288.57L316.232,300.32L316.204,304.32L316.083,318.32L316.049,327.82L316.041,329.57L316.037,330.07L316.035,330.21L316.986,330.21L316.987,330.07L316.987,329.57L316.983,327.82L316.953,318.57L316.827,304.32L316.798,300.32L316.685,288.82L316.636,282.82L316.55,270.82L316.508,263.57Z
M317.533,330.66L317.533,330.21L317.534,329.82L317.534,329.07L317.535,324.57L317.534,300.32L317.593,280.32L317.658,263.57L317.648,256.32L317.667,240.82L317.726,222.82L317.667,169.07L317.684,154.07L318.571,154.07L318.635,169.07L319.274,222.82L319.333,240.82L319.352,256.32L319.343,263.57L319.41,280.32L319.471,300.57L319.472,324.57L319.471,329.07L319.47,329.82L319.469,330.21L319.469,330.66Z
M318.501,263.56L318.5,263.57L318.46,270.82L318.396,280.32L318.331,288.57L318.219,300.32L318.191,304.32L318.069,318.32L318.036,327.82L318.029,329.57L318.027,330.07L318.026,330.21L318.976,330.21L318.976,330.07L318.975,329.57L318.97,327.82L318.939,318.57L318.814,304.32L318.785,300.32L318.674,288.82L318.626,282.82L318.542,270.82L318.501,263.57Z
M319.532,330.66L319.532,330.21L319.532,329.82L319.532,329.07L319.532,324.57L319.532,300.32L319.591,280.32L319.657,263.57L319.647,256.32L319.666,240.82L319.72,222.82L319.525,169.07L319.537,154.07L320.424,154.07L320.493,169.07L321.268,222.82L321.331,240.82L321.351,256.32L321.342,263.57L321.408,280.32L321.468,300.57L321.468,324.57L321.468,329.07L321.468,329.82L321.468,330.21L321.468,330.66Z
M320.499,263.56L320.499,263.57L320.459,270.82L320.395,280.32L320.33,288.57L320.217,300.32L320.189,304.32L320.066,318.32L320.033,327.82L320.027,329.57L320.025,330.07L320.025,330.21L320.975,330.21L320.975,330.07L320.973,329.57L320.967,327.82L320.936,318.57L320.811,304.32L320.783,300.32L320.672,288.82L320.624,282.82L320.541,270.82L320.5,263.57Z
M321.526,330.66L321.526,330.21L321.528,329.82L321.528,329.07L321.529,324.57L321.529,300.32L321.586,280.32L321.649,263.57L321.639,256.32L321.655,240.82L321.701,222.82L321.38,169.07L321.397,154.07L322.284,154.07L322.348,169.07L323.25,222.82L323.321,240.82L323.343,256.32L323.335,263.57L323.403,280.32L323.465,300.57L323.466,324.57L323.465,329.07L323.464,329.82L323.462,330.21L323.462,330.66Z
M322.492,263.56L322.492,263.57L322.452,270.82L322.389,280.32L322.325,288.57L322.213,300.32L322.186,304.32L322.063,318.32L322.03,327.82L322.023,329.57L322.021,330.07L322.019,330.21L322.969,330.21L322.97,330.07L322.969,329.57L322.964,327.82L322.934,318.57L322.808,304.32L322.78,300.32L322.668,288.82L322.619,282.82L322.534,270.82L322.493,263.57Z"/>
</g>
<g id="grid-a-top" opacity="0.28">
<line class="gr" x1="125.65" y1="366.3" x2="125.65" y2="7.8"/>
<line class="gr" x1="190.9" y1="366.3" x2="190.9" y2="7.8"/>
<line class="gr" x1="256.15" y1="366.3" x2="256.15" y2="7.8"/>
<line class="gr" x1="60.4" y1="306.55" x2="321.4" y2="306.55"/>
<line class="gr" x1="60.4" y1="246.8" x2="321.4" y2="246.8"/>
<line class="gr" x1="60.4" y1="187.05" x2="321.4" y2="187.05"/>
<line class="gr" x1="60.4" y1="127.3" x2="321.4" y2="127.3"/>
<line class="gr" x1="60.4" y1="67.55" x2="321.4" y2="67.55"/>
</g>
<g id="initial-segment">
<line x1="60.4" y1="136" x2="60.4" y2="365.6" stroke="#00f" stroke-width="1" stroke-opacity="0.85"/>
<line x1="61.25" y1="160" x2="61.5" y2="330" stroke="#f00" stroke-width="0.85"/>
</g>
<g id="panel-b" fill="none" stroke="#0000ff" stroke-linejoin="round">
<polyline points="446.38,321.92 455.18,316.42 465.4,310.28 476.14,304.07 486.47,298.3 494.71,293.86 503.42,289.32 528.49,276.65 536.75,272.41 544.29,268.41 551.48,264.43 559.57,259.71 567.17,255.01 574.65,250.1 581.94,245.02 586.94,241.33 591.79,237.59 596.48,233.79 600.61,230.26 604.58,226.69 608.37,223.08 611.96,219.43 615.06,216.07 618.26,212.33 621,208.88 623.55,205.39 625.92,201.85 628.11,198.25 630.12,194.61 631.95,190.91 633.76,186.79 635.62,181.84 637.19,176.8 638.48,171.69 639.56,166.12 640.35,160.48 640.84,154.78 641.06,149.06 641.01,142.91 640.69,136.75 640.09,130.62 639.25,124.53 638.09,118.09 636.68,111.73 635.01,105.45 633.1,99.24 630.96,93.12 628.43,86.69 625.65,80.35 622.6,74.07 619.11,67.53 615.35,61.09 611.56,55.15 607.56,49.39 603.61,44.18 599.51,39.22 595.53,34.84 591.43,30.77 589.2,28.74 587.23,27.05 584.94,25.23 582.93,23.72 580.89,22.31 578.83,20.98 576.76,19.76 574.67,18.63 572.56,17.61 570.44,16.68 566.76,15.35 564.9,14.8 563.04,14.34 561.16,13.95 559.28,13.65 557.38,13.44 555.48,13.31 553.57,13.26 551.65,13.31 548.12,13.62 546.18,13.91 544.24,14.3 540.66,15.25 538.7,15.9 536.74,16.64 533.14,18.24 529.52,20.15 525.91,22.38 522.28,24.91 518.33,28.02 514.37,31.47 510.4,35.24 505.77,40.04 501.11,45.23 496.08,51.2 490.64,58.03 485.1,65.33 479.43,73.15 473.99,81.01 468.8,88.85 464.3,96 459.76,103.54 455.62,110.8 451.53,118.34 447.54,126.14 444.04,133.4 440.7,140.77 437.55,148.23 435.47,153.47 433.79,157.97 432.19,162.46 430.68,166.95 427.93,175.87 426.69,180.29 425.34,185.4 424.11,190.46 422.98,195.45 421.96,200.35 420.89,205.85 418.97,217.05 417.29,228.71 415.89,240.41 414.74,252.24 413.89,263.74 413.33,274.89 413.28,279 413.54,285.98 413.6,289.56 413.19,309.46 413.09,319.76 413.16,326.53 413.36,332.2 413.56,335.38 413.86,338.21 414.14,339.99 414.31,340.7 414.56,341.36 415.14,342.26 415.98,342.97 416.65,343.25 416.99,343.31 417.34,343.32 418.04,343.21 418.73,342.97 419.72,342.47 421.5,341.29 423.97,339.3 430.5,333.79 438.26,327.58 441.94,324.85 446.38,321.92" stroke-width="1.25"/>
<polyline points="573.78,250.69 593.37,236.33 609.37,222.09 621.52,208.19 630.31,194.24 633.76,186.79 636.62,178.75 638.74,170.51 640.15,162.09 641.04,143.73 639.25,124.53" stroke-width="1.7"/>
</g>
<g id="axes-a">
<line class="tm" x1="125.65" y1="366.3" x2="125.65" y2="363.6"/>
<line class="tm" x1="125.65" y1="7.8" x2="125.65" y2="10.5"/>
<line class="tm" x1="190.9" y1="366.3" x2="190.9" y2="363.6"/>
<line class="tm" x1="190.9" y1="7.8" x2="190.9" y2="10.5"/>
<line class="tm" x1="256.15" y1="366.3" x2="256.15" y2="363.6"/>
<line class="tm" x1="256.15" y1="7.8" x2="256.15" y2="10.5"/>
<line class="tm" x1="60.4" y1="306.55" x2="63.1" y2="306.55"/>
<line class="tm" x1="321.4" y1="306.55" x2="318.7" y2="306.55"/>
<line class="tm" x1="60.4" y1="246.8" x2="63.1" y2="246.8"/>
<line class="tm" x1="321.4" y1="246.8" x2="318.7" y2="246.8"/>
<line class="tm" x1="60.4" y1="187.05" x2="63.1" y2="187.05"/>
<line class="tm" x1="321.4" y1="187.05" x2="318.7" y2="187.05"/>
<line class="tm" x1="60.4" y1="127.3" x2="63.1" y2="127.3"/>
<line class="tm" x1="321.4" y1="127.3" x2="318.7" y2="127.3"/>
<line class="tm" x1="60.4" y1="67.55" x2="63.1" y2="67.55"/>
<line class="tm" x1="321.4" y1="67.55" x2="318.7" y2="67.55"/>
<text class="tk" transform="translate(60.8 383.6) scale(1 1.1)" text-anchor="middle">0</text>
<text class="tk" transform="translate(125.55 383.6) scale(1 1.1)" text-anchor="middle">500</text>
<text class="tk" transform="translate(190.8 383.6) scale(1 1.1)" text-anchor="middle">1000</text>
<text class="tk" transform="translate(256.05 383.6) scale(1 1.1)" text-anchor="middle">1500</text>
<text class="tk" transform="translate(321.3 383.6) scale(1 1.1)" text-anchor="middle">2000</text>
<text class="tk" transform="translate(54 370.6) scale(1 1.1)" text-anchor="end">0</text>
<text class="tk" transform="translate(54 310.85) scale(1 1.1)" text-anchor="end">50</text>
<text class="tk" transform="translate(54 251.1) scale(1 1.1)" text-anchor="end">100</text>
<text class="tk" transform="translate(54 191.35) scale(1 1.1)" text-anchor="end">150</text>
<text class="tk" transform="translate(54 131.6) scale(1 1.1)" text-anchor="end">200</text>
<text class="tk" transform="translate(54 71.85) scale(1 1.1)" text-anchor="end">250</text>
<text class="tk" transform="translate(54 12.1) scale(1 1.1)" text-anchor="end">300</text>
</g>
<g id="axes-b">
<line class="tm" x1="455.92" y1="366.3" x2="455.92" y2="363.6"/>
<line class="tm" x1="455.92" y1="7.9" x2="455.92" y2="10.6"/>
<line class="tm" x1="499.43" y1="366.3" x2="499.43" y2="363.6"/>
<line class="tm" x1="499.43" y1="7.9" x2="499.43" y2="10.6"/>
<line class="tm" x1="542.95" y1="366.3" x2="542.95" y2="363.6"/>
<line class="tm" x1="542.95" y1="7.9" x2="542.95" y2="10.6"/>
<line class="tm" x1="586.47" y1="366.3" x2="586.47" y2="363.6"/>
<line class="tm" x1="586.47" y1="7.9" x2="586.47" y2="10.6"/>
<line class="tm" x1="629.98" y1="366.3" x2="629.98" y2="363.6"/>
<line class="tm" x1="629.98" y1="7.9" x2="629.98" y2="10.6"/>
<line class="tm" x1="412.4" y1="321.5" x2="415.1" y2="321.5"/>
<line class="tm" x1="673.5" y1="321.5" x2="670.8" y2="321.5"/>
<line class="tm" x1="412.4" y1="276.7" x2="415.1" y2="276.7"/>
<line class="tm" x1="673.5" y1="276.7" x2="670.8" y2="276.7"/>
<line class="tm" x1="412.4" y1="231.9" x2="415.1" y2="231.9"/>
<line class="tm" x1="673.5" y1="231.9" x2="670.8" y2="231.9"/>
<line class="tm" x1="412.4" y1="187.1" x2="415.1" y2="187.1"/>
<line class="tm" x1="673.5" y1="187.1" x2="670.8" y2="187.1"/>
<line class="tm" x1="412.4" y1="142.3" x2="415.1" y2="142.3"/>
<line class="tm" x1="673.5" y1="142.3" x2="670.8" y2="142.3"/>
<line class="tm" x1="412.4" y1="97.5" x2="415.1" y2="97.5"/>
<line class="tm" x1="673.5" y1="97.5" x2="670.8" y2="97.5"/>
<line class="tm" x1="412.4" y1="52.7" x2="415.1" y2="52.7"/>
<line class="tm" x1="673.5" y1="52.7" x2="670.8" y2="52.7"/>
<text class="tk" transform="translate(413 383.6) scale(1 1.1)" text-anchor="middle">0</text>
<text class="tk" transform="translate(456.52 383.6) scale(1 1.1)" text-anchor="middle">50</text>
<text class="tk" transform="translate(500.03 383.6) scale(1 1.1)" text-anchor="middle">100</text>
<text class="tk" transform="translate(543.55 383.6) scale(1 1.1)" text-anchor="middle">150</text>
<text class="tk" transform="translate(587.07 383.6) scale(1 1.1)" text-anchor="middle">200</text>
<text class="tk" transform="translate(630.58 383.6) scale(1 1.1)" text-anchor="middle">250</text>
<text class="tk" transform="translate(674.1 383.6) scale(1 1.1)" text-anchor="middle">300</text>
<text class="tk" transform="translate(406 370.6) scale(1 1.1)" text-anchor="end">20</text>
<text class="tk" transform="translate(406 325.8) scale(1 1.1)" text-anchor="end">40</text>
<text class="tk" transform="translate(406 281) scale(1 1.1)" text-anchor="end">60</text>
<text class="tk" transform="translate(406 236.2) scale(1 1.1)" text-anchor="end">80</text>
<text class="tk" transform="translate(406 191.4) scale(1 1.1)" text-anchor="end">100</text>
<text class="tk" transform="translate(406 146.6) scale(1 1.1)" text-anchor="end">120</text>
<text class="tk" transform="translate(406 101.8) scale(1 1.1)" text-anchor="end">140</text>
<text class="tk" transform="translate(406 57) scale(1 1.1)" text-anchor="end">160</text>
<text class="tk" transform="translate(406 12.2) scale(1 1.1)" text-anchor="end">180</text>
</g>
<text class="lb" x="190.3" y="409" text-anchor="middle">Time</text>
<text class="lb" transform="translate(15.2 184.5) rotate(-90)" text-anchor="middle">Populations: u(t),v(t)</text>
<text class="lb" x="548.4" y="409" text-anchor="middle">Prey population: u(t)</text>
<text class="lb" transform="translate(370.3 180.8) rotate(-90)" text-anchor="middle">Population: v(t)</text>
<text class="cp" x="191.3" y="436.3" text-anchor="middle">(a)</text>
<text class="cp" x="546.7" y="436.3" text-anchor="middle">(b)</text>
</svg>
</body>
</html>
